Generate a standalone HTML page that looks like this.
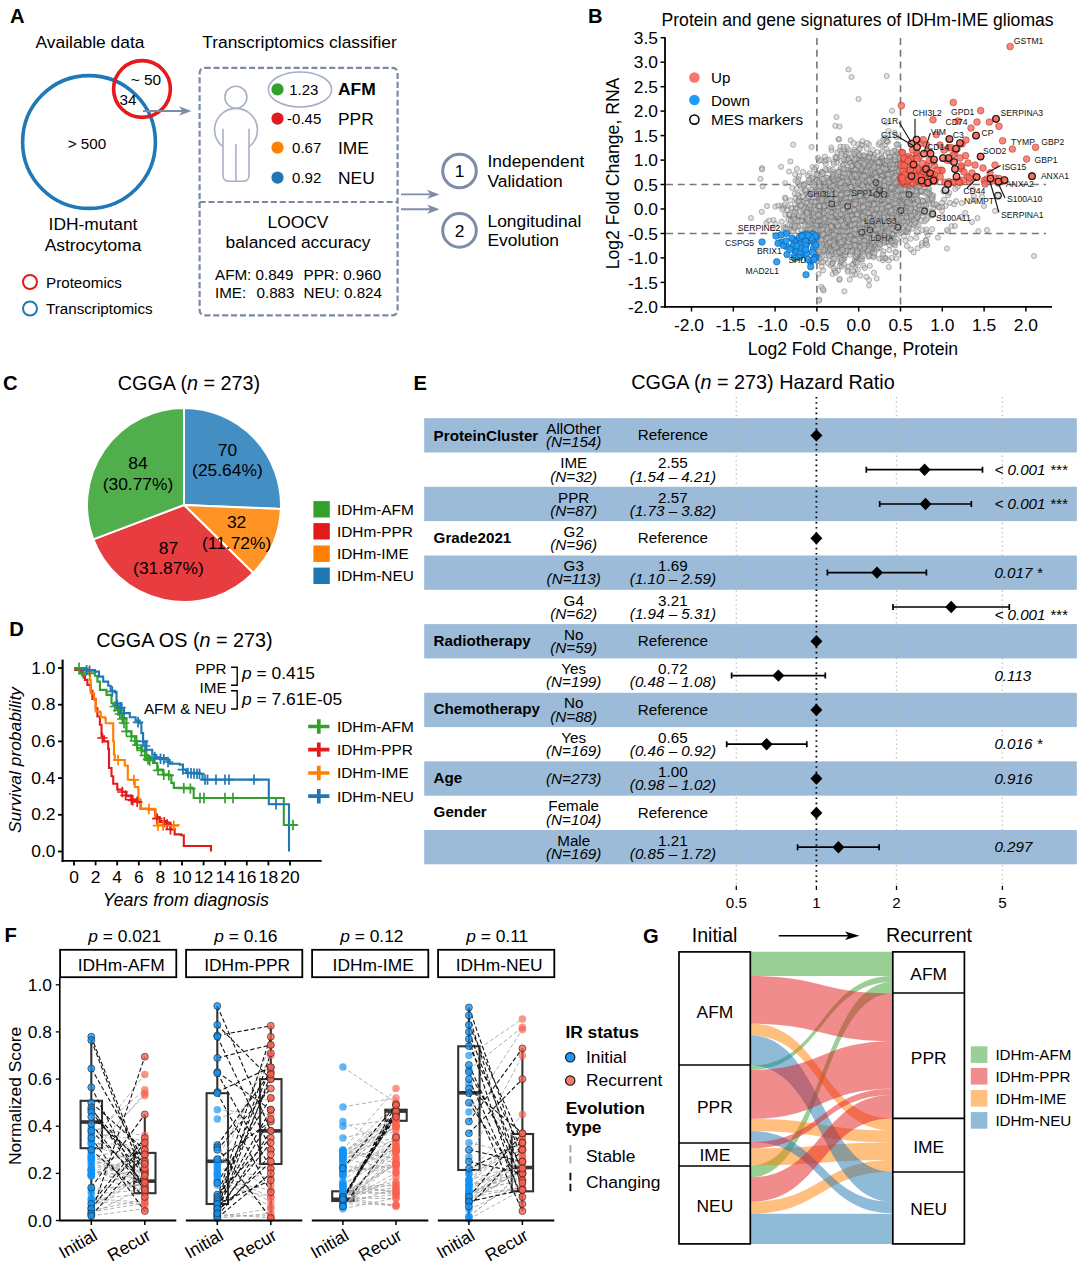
<!DOCTYPE html>
<html><head><meta charset="utf-8"><title>Figure</title>
<style>
html,body{margin:0;padding:0;background:#fff;}
body{width:1080px;height:1265px;overflow:hidden;font-family:"Liberation Sans",sans-serif;}
svg{display:block;}
svg text{font-family:"Liberation Sans",sans-serif;}
</style></head><body>
<svg width="1080" height="1265" viewBox="0 0 1080 1265">
<rect width="1080" height="1265" fill="#fff"/>
<g id="panelA">
<text x="10" y="23" font-size="20.2" font-weight="bold">A</text>
<text x="90" y="48" font-size="17.4" text-anchor="middle">Available data</text>
<circle cx="89" cy="142" r="66.4" fill="none" stroke="#2079b6" stroke-width="3.6"/>
<circle cx="142" cy="89" r="28.4" fill="none" stroke="#e41a1c" stroke-width="3.6"/>
<text x="146" y="84.8" font-size="15.4" text-anchor="middle">~ 50</text>
<text x="128" y="105" font-size="15.2" text-anchor="middle">34</text>
<text x="87" y="148.5" font-size="15.2" text-anchor="middle">&gt; 500</text>
<line x1="143" y1="111" x2="186" y2="111" stroke="#7f8ca7" stroke-width="1.9"/>
<path d="M191.5 111 L179 106.3 L182.5 111 L179 115.7 Z" fill="#7f8ca7"/>
<text x="93" y="230" font-size="17.4" text-anchor="middle">IDH-mutant</text>
<text x="93" y="250.5" font-size="17.4" text-anchor="middle">Astrocytoma</text>
<circle cx="30" cy="282" r="7" fill="none" stroke="#e41a1c" stroke-width="2"/>
<text x="46" y="287.5" font-size="15.2">Proteomics</text>
<circle cx="30" cy="308.5" r="7" fill="none" stroke="#2079b6" stroke-width="2"/>
<text x="46" y="314" font-size="15.2">Transcriptomics</text>
<text x="299.5" y="48" font-size="17.4" text-anchor="middle">Transcriptomics classifier</text>
<rect x="199.6" y="67.8" width="198" height="247.5" rx="5" ry="5" fill="none" stroke="#7c89a4" stroke-width="2.2" stroke-dasharray="6.1 2.8"/>
<line x1="199.6" y1="202" x2="397.6" y2="202" stroke="#7c89a4" stroke-width="2.2" stroke-dasharray="6.1 2.8"/>
<g fill="none" stroke="#a8b1c8" stroke-width="1.6" stroke-linecap="round" stroke-linejoin="round">
<circle cx="235.9" cy="97.2" r="11"/>
<path d="M222.6 146.5 A21.4 21.4 0 1 1 249.4 146.5"/>
<path d="M223 129.2 V175.2 Q223 181.2 229 181.2 H243 Q249 181.2 249 175.2 V129.2"/>
<path d="M235.9 144.5 V181.2"/>
</g>
<ellipse cx="300" cy="89.4" rx="31.6" ry="17.5" fill="none" stroke="#a5aec6" stroke-width="1.5"/>
<circle cx="277.5" cy="89.4" r="6.1" fill="#33a02c"/>
<text x="318.4" y="94.8" font-size="15" text-anchor="end">1.23</text>
<text x="338" y="95.4" font-size="17.4" font-weight="bold">AFM</text>
<circle cx="277.5" cy="118.6" r="6.1" fill="#e31a1c"/>
<text x="321.3" y="124" font-size="15" text-anchor="end">-0.45</text>
<text x="338" y="124.6" font-size="17.4">PPR</text>
<circle cx="277.5" cy="147.6" r="6.1" fill="#ff7f00"/>
<text x="321.3" y="153" font-size="15" text-anchor="end">0.67</text>
<text x="338" y="153.6" font-size="17.4">IME</text>
<circle cx="277.5" cy="177.6" r="6.1" fill="#1f78b4"/>
<text x="321.3" y="183" font-size="15" text-anchor="end">0.92</text>
<text x="338" y="183.6" font-size="17.4">NEU</text>
<text x="298" y="228" font-size="17.4" text-anchor="middle">LOOCV</text>
<text x="298" y="248" font-size="17.4" text-anchor="middle">balanced accuracy</text>
<text x="215" y="279.8" font-size="15.2">AFM: 0.849</text>
<text x="303.5" y="279.8" font-size="15.2">PPR: 0.960</text>
<text x="215" y="298" font-size="15.2">IME:</text>
<text x="256.5" y="298" font-size="15.2">0.883</text>
<text x="303.5" y="298" font-size="15.2">NEU: 0.824</text>
<line x1="401" y1="194.4" x2="434" y2="194.4" stroke="#7f8ca7" stroke-width="1.9"/>
<path d="M439.5 194.4 L427 189.7 L430.5 194.4 L427 199.1 Z" fill="#7f8ca7"/>
<line x1="401" y1="209.3" x2="434" y2="209.3" stroke="#7f8ca7" stroke-width="1.9"/>
<path d="M439.5 209.3 L427 204.6 L430.5 209.3 L427 214 Z" fill="#7f8ca7"/>
<circle cx="459.5" cy="171" r="16.8" fill="none" stroke="#7f8ca7" stroke-width="3"/>
<text x="459.5" y="177.2" font-size="17.4" text-anchor="middle">1</text>
<circle cx="459.5" cy="230.4" r="16.8" fill="none" stroke="#7f8ca7" stroke-width="3"/>
<text x="459.5" y="236.6" font-size="17.4" text-anchor="middle">2</text>
<text x="487.5" y="166.7" font-size="17.4">Independent</text>
<text x="487.5" y="186.7" font-size="17.4">Validation</text>
<text x="487.5" y="226.7" font-size="17.4">Longitudinal</text>
<text x="487.5" y="246.3" font-size="17.4">Evolution</text>
</g>
<g id="panelB">
<text x="588" y="23" font-size="20.2" font-weight="bold">B</text>
<text x="661.5" y="25.8" font-size="17.6">Protein and gene signatures of IDHm-IME gliomas</text>
<line x1="816.9" y1="38" x2="816.9" y2="306" stroke="#777" stroke-width="1.6" stroke-dasharray="7 4.8"/>
<line x1="900.5" y1="38" x2="900.5" y2="306" stroke="#777" stroke-width="1.6" stroke-dasharray="7 4.8"/>
<line x1="666" y1="233.5" x2="1046" y2="233.5" stroke="#777" stroke-width="1.6" stroke-dasharray="7 4.8"/>
<line x1="666" y1="184.5" x2="1046" y2="184.5" stroke="#777" stroke-width="1.6" stroke-dasharray="7 4.8"/>
<g fill="none" stroke="#111" stroke-width="1.2">
<circle cx="932.7" cy="214" r="2.9"/>
<circle cx="924.5" cy="211" r="2.9"/>
<circle cx="901" cy="210.5" r="2.9"/>
<circle cx="909" cy="194.5" r="2.9"/>
<circle cx="897.8" cy="227.3" r="2.9"/>
<circle cx="870" cy="230" r="2.9"/>
<circle cx="861.8" cy="232.2" r="2.9"/>
<circle cx="876" cy="182.7" r="2.9"/>
<circle cx="879.6" cy="190.4" r="2.9"/>
<circle cx="876.7" cy="194.4" r="2.9"/>
<circle cx="884" cy="194.4" r="2.9"/>
<circle cx="831.8" cy="204" r="2.9"/>
<circle cx="847.8" cy="206.2" r="2.9"/>
</g>
<g font-size="8.6" fill="#111">
<text x="864" y="223.7">LGALS3</text>
<text x="870.6" y="240.6">LDHA</text>
<text x="807" y="196.7">CHI3L1</text>
<text x="851" y="196">SPP1</text>
</g>
<g fill="#c2c2c2" fill-opacity="0.5" stroke="#5e5e5e" stroke-width="0.55" stroke-opacity="0.78">
<circle cx="854" cy="204" r="2.6"/>
<circle cx="901.1" cy="202.8" r="2.6"/>
<circle cx="869.9" cy="172.9" r="2.6"/>
<circle cx="863.1" cy="197.2" r="2.6"/>
<circle cx="878" cy="192.1" r="2.6"/>
<circle cx="899.1" cy="162.2" r="2.6"/>
<circle cx="888" cy="233.9" r="2.6"/>
<circle cx="834.6" cy="235.6" r="2.6"/>
<circle cx="867.7" cy="205.9" r="2.6"/>
<circle cx="852.8" cy="181.8" r="2.6"/>
<circle cx="876.4" cy="219" r="2.6"/>
<circle cx="815.4" cy="221.9" r="2.6"/>
<circle cx="862.6" cy="203.2" r="2.6"/>
<circle cx="851.4" cy="197.6" r="2.6"/>
<circle cx="826.6" cy="186.6" r="2.6"/>
<circle cx="850.2" cy="249.2" r="2.6"/>
<circle cx="821.6" cy="219.1" r="2.6"/>
<circle cx="859.3" cy="218.1" r="2.6"/>
<circle cx="831.4" cy="218.9" r="2.6"/>
<circle cx="870" cy="161.2" r="2.6"/>
<circle cx="891.2" cy="198.5" r="2.6"/>
<circle cx="857.6" cy="191.2" r="2.6"/>
<circle cx="853.8" cy="187.9" r="2.6"/>
<circle cx="848.9" cy="206.1" r="2.6"/>
<circle cx="822.2" cy="201.5" r="2.6"/>
<circle cx="816.1" cy="167.1" r="2.6"/>
<circle cx="911.3" cy="216.7" r="2.6"/>
<circle cx="863.8" cy="165.7" r="2.6"/>
<circle cx="898.7" cy="196.1" r="2.6"/>
<circle cx="897.7" cy="192.7" r="2.6"/>
<circle cx="887.5" cy="207.2" r="2.6"/>
<circle cx="891.6" cy="166.3" r="2.6"/>
<circle cx="921.5" cy="212.5" r="2.6"/>
<circle cx="865.2" cy="207.7" r="2.6"/>
<circle cx="911.1" cy="214.9" r="2.6"/>
<circle cx="802.7" cy="221.2" r="2.6"/>
<circle cx="876.3" cy="205.9" r="2.6"/>
<circle cx="871.7" cy="214.9" r="2.6"/>
<circle cx="832.7" cy="193.4" r="2.6"/>
<circle cx="906.1" cy="191.9" r="2.6"/>
<circle cx="885" cy="229.6" r="2.6"/>
<circle cx="848.6" cy="231.9" r="2.6"/>
<circle cx="891.2" cy="188.6" r="2.6"/>
<circle cx="834.9" cy="219" r="2.6"/>
<circle cx="827.7" cy="249.9" r="2.6"/>
<circle cx="840.9" cy="263.4" r="2.6"/>
<circle cx="856" cy="220.1" r="2.6"/>
<circle cx="831.7" cy="233" r="2.6"/>
<circle cx="884.8" cy="234.5" r="2.6"/>
<circle cx="853.6" cy="214.2" r="2.6"/>
<circle cx="879.1" cy="211" r="2.6"/>
<circle cx="861.1" cy="194.2" r="2.6"/>
<circle cx="847.5" cy="227" r="2.6"/>
<circle cx="863.9" cy="191.7" r="2.6"/>
<circle cx="863" cy="231.1" r="2.6"/>
<circle cx="884" cy="171.3" r="2.6"/>
<circle cx="803.7" cy="184.1" r="2.6"/>
<circle cx="854.9" cy="164.3" r="2.6"/>
<circle cx="887.9" cy="186.7" r="2.6"/>
<circle cx="838.2" cy="235.9" r="2.6"/>
<circle cx="823" cy="235.6" r="2.6"/>
<circle cx="833.5" cy="227.5" r="2.6"/>
<circle cx="847.2" cy="175.9" r="2.6"/>
<circle cx="869.5" cy="166.5" r="2.6"/>
<circle cx="846.9" cy="208.2" r="2.6"/>
<circle cx="827.9" cy="200.5" r="2.6"/>
<circle cx="871.5" cy="246.3" r="2.6"/>
<circle cx="855.6" cy="185.3" r="2.6"/>
<circle cx="831.2" cy="222.6" r="2.6"/>
<circle cx="851.8" cy="213.3" r="2.6"/>
<circle cx="880.7" cy="158.5" r="2.6"/>
<circle cx="867.5" cy="193.8" r="2.6"/>
<circle cx="844.2" cy="225.9" r="2.6"/>
<circle cx="886.4" cy="208.3" r="2.6"/>
<circle cx="869.4" cy="195.2" r="2.6"/>
<circle cx="825.7" cy="164" r="2.6"/>
<circle cx="890.8" cy="184" r="2.6"/>
<circle cx="865.6" cy="205.2" r="2.6"/>
<circle cx="878.3" cy="204.2" r="2.6"/>
<circle cx="897.1" cy="209.9" r="2.6"/>
<circle cx="906.5" cy="202" r="2.6"/>
<circle cx="914.9" cy="199.1" r="2.6"/>
<circle cx="903.3" cy="215.5" r="2.6"/>
<circle cx="824.5" cy="250.6" r="2.6"/>
<circle cx="833" cy="215.9" r="2.6"/>
<circle cx="836.5" cy="213.9" r="2.6"/>
<circle cx="833.6" cy="202.5" r="2.6"/>
<circle cx="802.1" cy="192.1" r="2.6"/>
<circle cx="854.8" cy="243.6" r="2.6"/>
<circle cx="878.2" cy="208.8" r="2.6"/>
<circle cx="822" cy="224.9" r="2.6"/>
<circle cx="856.5" cy="173.3" r="2.6"/>
<circle cx="842.3" cy="208.8" r="2.6"/>
<circle cx="896.8" cy="187.1" r="2.6"/>
<circle cx="865.2" cy="196.5" r="2.6"/>
<circle cx="847.6" cy="249.5" r="2.6"/>
<circle cx="846.8" cy="252.2" r="2.6"/>
<circle cx="839.9" cy="150.7" r="2.6"/>
<circle cx="834.4" cy="223.2" r="2.6"/>
<circle cx="932.8" cy="214.1" r="2.6"/>
<circle cx="856.9" cy="184.8" r="2.6"/>
<circle cx="816.9" cy="196.2" r="2.6"/>
<circle cx="843.4" cy="216.7" r="2.6"/>
<circle cx="870.2" cy="214.2" r="2.6"/>
<circle cx="808.1" cy="229.3" r="2.6"/>
<circle cx="870.3" cy="154.7" r="2.6"/>
<circle cx="896" cy="213.5" r="2.6"/>
<circle cx="872.2" cy="168.6" r="2.6"/>
<circle cx="857.8" cy="219.4" r="2.6"/>
<circle cx="863.1" cy="225.2" r="2.6"/>
<circle cx="797.9" cy="226.6" r="2.6"/>
<circle cx="847.2" cy="160.1" r="2.6"/>
<circle cx="844.6" cy="224" r="2.6"/>
<circle cx="903.9" cy="236.5" r="2.6"/>
<circle cx="832.7" cy="191" r="2.6"/>
<circle cx="814.7" cy="194" r="2.6"/>
<circle cx="851.4" cy="195.1" r="2.6"/>
<circle cx="847.2" cy="181.5" r="2.6"/>
<circle cx="872.8" cy="187.9" r="2.6"/>
<circle cx="827.3" cy="183.5" r="2.6"/>
<circle cx="858.5" cy="197.4" r="2.6"/>
<circle cx="860.5" cy="189" r="2.6"/>
<circle cx="840.3" cy="169.3" r="2.6"/>
<circle cx="875.5" cy="209.5" r="2.6"/>
<circle cx="881" cy="192.4" r="2.6"/>
<circle cx="856.8" cy="191" r="2.6"/>
<circle cx="849.2" cy="219.7" r="2.6"/>
<circle cx="840.2" cy="228.2" r="2.6"/>
<circle cx="907.7" cy="199.8" r="2.6"/>
<circle cx="840.1" cy="210.2" r="2.6"/>
<circle cx="834" cy="201.4" r="2.6"/>
<circle cx="900.8" cy="194.3" r="2.6"/>
<circle cx="894" cy="155.6" r="2.6"/>
<circle cx="875.2" cy="167.8" r="2.6"/>
<circle cx="861" cy="184.6" r="2.6"/>
<circle cx="848.6" cy="227.8" r="2.6"/>
<circle cx="836.1" cy="217.9" r="2.6"/>
<circle cx="834.5" cy="181.9" r="2.6"/>
<circle cx="841" cy="210.5" r="2.6"/>
<circle cx="885.3" cy="223.4" r="2.6"/>
<circle cx="847" cy="192.1" r="2.6"/>
<circle cx="839.1" cy="248.8" r="2.6"/>
<circle cx="856.8" cy="208.1" r="2.6"/>
<circle cx="884.2" cy="213.1" r="2.6"/>
<circle cx="924.5" cy="187.5" r="2.6"/>
<circle cx="884.9" cy="138.5" r="2.6"/>
<circle cx="864.4" cy="198.1" r="2.6"/>
<circle cx="882.2" cy="230.7" r="2.6"/>
<circle cx="893.6" cy="206.8" r="2.6"/>
<circle cx="853.6" cy="207" r="2.6"/>
<circle cx="856.8" cy="205.6" r="2.6"/>
<circle cx="853.5" cy="194.6" r="2.6"/>
<circle cx="896.2" cy="202.5" r="2.6"/>
<circle cx="879.5" cy="227.1" r="2.6"/>
<circle cx="836.5" cy="237.6" r="2.6"/>
<circle cx="912.1" cy="203.2" r="2.6"/>
<circle cx="901.8" cy="199.6" r="2.6"/>
<circle cx="860.4" cy="207.3" r="2.6"/>
<circle cx="877.6" cy="199.5" r="2.6"/>
<circle cx="860.8" cy="220.3" r="2.6"/>
<circle cx="845.4" cy="161.2" r="2.6"/>
<circle cx="884.9" cy="205" r="2.6"/>
<circle cx="876.5" cy="232.8" r="2.6"/>
<circle cx="909.7" cy="200.3" r="2.6"/>
<circle cx="873.5" cy="218.6" r="2.6"/>
<circle cx="822.5" cy="225.1" r="2.6"/>
<circle cx="857.1" cy="199.7" r="2.6"/>
<circle cx="896.7" cy="175" r="2.6"/>
<circle cx="872" cy="178.5" r="2.6"/>
<circle cx="841.2" cy="183.6" r="2.6"/>
<circle cx="872.8" cy="222.5" r="2.6"/>
<circle cx="867.3" cy="215.5" r="2.6"/>
<circle cx="835.7" cy="214.3" r="2.6"/>
<circle cx="906" cy="211.4" r="2.6"/>
<circle cx="864" cy="192.5" r="2.6"/>
<circle cx="847.6" cy="235.6" r="2.6"/>
<circle cx="885.7" cy="210.8" r="2.6"/>
<circle cx="850.3" cy="221.9" r="2.6"/>
<circle cx="894" cy="164" r="2.6"/>
<circle cx="898.4" cy="182.1" r="2.6"/>
<circle cx="836" cy="204.2" r="2.6"/>
<circle cx="841.2" cy="217.1" r="2.6"/>
<circle cx="844.4" cy="220.2" r="2.6"/>
<circle cx="894.3" cy="168.6" r="2.6"/>
<circle cx="957.7" cy="186.8" r="2.6"/>
<circle cx="889.1" cy="194.2" r="2.6"/>
<circle cx="850.9" cy="212.7" r="2.6"/>
<circle cx="839.1" cy="237.3" r="2.6"/>
<circle cx="848.8" cy="215" r="2.6"/>
<circle cx="861.8" cy="162.5" r="2.6"/>
<circle cx="844.2" cy="191.9" r="2.6"/>
<circle cx="837.2" cy="195.7" r="2.6"/>
<circle cx="880.2" cy="190.9" r="2.6"/>
<circle cx="835.1" cy="220.4" r="2.6"/>
<circle cx="853.3" cy="201.8" r="2.6"/>
<circle cx="877.3" cy="205.2" r="2.6"/>
<circle cx="897.5" cy="222.8" r="2.6"/>
<circle cx="785.1" cy="227.2" r="2.6"/>
<circle cx="814.1" cy="191.6" r="2.6"/>
<circle cx="898.6" cy="184.2" r="2.6"/>
<circle cx="849.1" cy="232.9" r="2.6"/>
<circle cx="871.5" cy="209.2" r="2.6"/>
<circle cx="852.9" cy="235.6" r="2.6"/>
<circle cx="868.3" cy="204.8" r="2.6"/>
<circle cx="862.4" cy="217.1" r="2.6"/>
<circle cx="825.7" cy="207.1" r="2.6"/>
<circle cx="858.3" cy="205.2" r="2.6"/>
<circle cx="865.4" cy="199" r="2.6"/>
<circle cx="836.7" cy="222.2" r="2.6"/>
<circle cx="888.9" cy="172.8" r="2.6"/>
<circle cx="883.6" cy="197.6" r="2.6"/>
<circle cx="857" cy="204.9" r="2.6"/>
<circle cx="866.3" cy="220" r="2.6"/>
<circle cx="862.4" cy="194.3" r="2.6"/>
<circle cx="847.5" cy="227.1" r="2.6"/>
<circle cx="871.1" cy="210.3" r="2.6"/>
<circle cx="856.4" cy="224.1" r="2.6"/>
<circle cx="848.9" cy="185.9" r="2.6"/>
<circle cx="845.5" cy="199" r="2.6"/>
<circle cx="855" cy="155.2" r="2.6"/>
<circle cx="815.9" cy="187.7" r="2.6"/>
<circle cx="838" cy="180" r="2.6"/>
<circle cx="874.4" cy="224.9" r="2.6"/>
<circle cx="886.6" cy="218.4" r="2.6"/>
<circle cx="906.2" cy="187.9" r="2.6"/>
<circle cx="828.1" cy="236.9" r="2.6"/>
<circle cx="883" cy="164.6" r="2.6"/>
<circle cx="845.3" cy="197.4" r="2.6"/>
<circle cx="860" cy="220.2" r="2.6"/>
<circle cx="832.2" cy="264.2" r="2.6"/>
<circle cx="867" cy="231.5" r="2.6"/>
<circle cx="855.3" cy="200" r="2.6"/>
<circle cx="855.3" cy="202.5" r="2.6"/>
<circle cx="856.7" cy="192.3" r="2.6"/>
<circle cx="882.3" cy="182.9" r="2.6"/>
<circle cx="867.5" cy="177" r="2.6"/>
<circle cx="880.3" cy="242.8" r="2.6"/>
<circle cx="912.7" cy="216.7" r="2.6"/>
<circle cx="869.8" cy="198.4" r="2.6"/>
<circle cx="948.1" cy="195.4" r="2.6"/>
<circle cx="916.9" cy="218.5" r="2.6"/>
<circle cx="905.1" cy="214.6" r="2.6"/>
<circle cx="865.2" cy="167" r="2.6"/>
<circle cx="868.9" cy="187.7" r="2.6"/>
<circle cx="874" cy="218.7" r="2.6"/>
<circle cx="844.4" cy="258.6" r="2.6"/>
<circle cx="874.7" cy="240" r="2.6"/>
<circle cx="830.8" cy="194.2" r="2.6"/>
<circle cx="884.2" cy="242.7" r="2.6"/>
<circle cx="838.3" cy="187.4" r="2.6"/>
<circle cx="842.4" cy="218.3" r="2.6"/>
<circle cx="883" cy="260.4" r="2.6"/>
<circle cx="861.2" cy="225.7" r="2.6"/>
<circle cx="874.8" cy="187.6" r="2.6"/>
<circle cx="933.8" cy="205.3" r="2.6"/>
<circle cx="844.2" cy="215.4" r="2.6"/>
<circle cx="865.7" cy="208.8" r="2.6"/>
<circle cx="883.6" cy="234.2" r="2.6"/>
<circle cx="857.5" cy="227.7" r="2.6"/>
<circle cx="863" cy="201.6" r="2.6"/>
<circle cx="831.5" cy="231.8" r="2.6"/>
<circle cx="840.5" cy="193.6" r="2.6"/>
<circle cx="879.6" cy="181.9" r="2.6"/>
<circle cx="893.9" cy="196.4" r="2.6"/>
<circle cx="845.9" cy="152.1" r="2.6"/>
<circle cx="861.7" cy="219.1" r="2.6"/>
<circle cx="846.7" cy="230.2" r="2.6"/>
<circle cx="796.5" cy="214.1" r="2.6"/>
<circle cx="859.3" cy="192" r="2.6"/>
<circle cx="824.6" cy="222.6" r="2.6"/>
<circle cx="877.7" cy="172" r="2.6"/>
<circle cx="864.8" cy="185.1" r="2.6"/>
<circle cx="902" cy="191.3" r="2.6"/>
<circle cx="885.1" cy="203" r="2.6"/>
<circle cx="831.7" cy="189.8" r="2.6"/>
<circle cx="867.4" cy="177" r="2.6"/>
<circle cx="866.9" cy="237.8" r="2.6"/>
<circle cx="854" cy="185" r="2.6"/>
<circle cx="842.4" cy="206.6" r="2.6"/>
<circle cx="874.9" cy="208.6" r="2.6"/>
<circle cx="877.4" cy="205.3" r="2.6"/>
<circle cx="819.7" cy="237.8" r="2.6"/>
<circle cx="865.7" cy="197.2" r="2.6"/>
<circle cx="864.2" cy="235.1" r="2.6"/>
<circle cx="883" cy="207.8" r="2.6"/>
<circle cx="847.5" cy="208.6" r="2.6"/>
<circle cx="856.6" cy="169.9" r="2.6"/>
<circle cx="909" cy="195.6" r="2.6"/>
<circle cx="852.6" cy="236.2" r="2.6"/>
<circle cx="865" cy="244.2" r="2.6"/>
<circle cx="908.2" cy="208.1" r="2.6"/>
<circle cx="900.5" cy="197" r="2.6"/>
<circle cx="814" cy="220.6" r="2.6"/>
<circle cx="852" cy="238.9" r="2.6"/>
<circle cx="886.4" cy="202.3" r="2.6"/>
<circle cx="868.2" cy="189.4" r="2.6"/>
<circle cx="825.1" cy="247.2" r="2.6"/>
<circle cx="816.9" cy="216.2" r="2.6"/>
<circle cx="822.3" cy="198.5" r="2.6"/>
<circle cx="863.3" cy="224.2" r="2.6"/>
<circle cx="860.9" cy="156.2" r="2.6"/>
<circle cx="835.7" cy="208.3" r="2.6"/>
<circle cx="828.9" cy="217" r="2.6"/>
<circle cx="873.2" cy="196.3" r="2.6"/>
<circle cx="875.1" cy="198.2" r="2.6"/>
<circle cx="866.8" cy="191.7" r="2.6"/>
<circle cx="848.4" cy="207.1" r="2.6"/>
<circle cx="849.6" cy="219.6" r="2.6"/>
<circle cx="833" cy="175.8" r="2.6"/>
<circle cx="852.2" cy="251.9" r="2.6"/>
<circle cx="880.6" cy="189" r="2.6"/>
<circle cx="849.5" cy="199.5" r="2.6"/>
<circle cx="854.8" cy="193.9" r="2.6"/>
<circle cx="852.6" cy="227.2" r="2.6"/>
<circle cx="831.3" cy="224.4" r="2.6"/>
<circle cx="796.7" cy="224" r="2.6"/>
<circle cx="819.2" cy="239.6" r="2.6"/>
<circle cx="880.4" cy="198" r="2.6"/>
<circle cx="838.1" cy="238.8" r="2.6"/>
<circle cx="858.1" cy="178.4" r="2.6"/>
<circle cx="843" cy="233.8" r="2.6"/>
<circle cx="850.2" cy="208.1" r="2.6"/>
<circle cx="831.3" cy="207.8" r="2.6"/>
<circle cx="837" cy="223.6" r="2.6"/>
<circle cx="875.3" cy="216.9" r="2.6"/>
<circle cx="808.2" cy="213.2" r="2.6"/>
<circle cx="853" cy="199.7" r="2.6"/>
<circle cx="834.3" cy="203.5" r="2.6"/>
<circle cx="881.9" cy="174.4" r="2.6"/>
<circle cx="832.7" cy="176.3" r="2.6"/>
<circle cx="834.4" cy="231.3" r="2.6"/>
<circle cx="848.8" cy="234.3" r="2.6"/>
<circle cx="876.9" cy="187.1" r="2.6"/>
<circle cx="882.8" cy="180.1" r="2.6"/>
<circle cx="855" cy="209.7" r="2.6"/>
<circle cx="872.8" cy="185" r="2.6"/>
<circle cx="858.9" cy="214" r="2.6"/>
<circle cx="810.3" cy="206.5" r="2.6"/>
<circle cx="887.8" cy="209" r="2.6"/>
<circle cx="882.1" cy="145.8" r="2.6"/>
<circle cx="812.1" cy="218.1" r="2.6"/>
<circle cx="860.8" cy="228" r="2.6"/>
<circle cx="834.9" cy="224.5" r="2.6"/>
<circle cx="841.2" cy="249.3" r="2.6"/>
<circle cx="891.9" cy="160.7" r="2.6"/>
<circle cx="820" cy="194" r="2.6"/>
<circle cx="877.2" cy="215.2" r="2.6"/>
<circle cx="872.6" cy="235.7" r="2.6"/>
<circle cx="870.8" cy="205.2" r="2.6"/>
<circle cx="930.2" cy="198.6" r="2.6"/>
<circle cx="857.1" cy="218.8" r="2.6"/>
<circle cx="888.9" cy="217.4" r="2.6"/>
<circle cx="886.4" cy="213.4" r="2.6"/>
<circle cx="871.8" cy="178.2" r="2.6"/>
<circle cx="842.1" cy="219.8" r="2.6"/>
<circle cx="856.7" cy="158.3" r="2.6"/>
<circle cx="835.9" cy="200" r="2.6"/>
<circle cx="872.4" cy="186.7" r="2.6"/>
<circle cx="787.4" cy="229.7" r="2.6"/>
<circle cx="868.5" cy="198.1" r="2.6"/>
<circle cx="904.5" cy="195" r="2.6"/>
<circle cx="869.1" cy="209.1" r="2.6"/>
<circle cx="896.9" cy="174.6" r="2.6"/>
<circle cx="857.1" cy="232" r="2.6"/>
<circle cx="925.3" cy="200.8" r="2.6"/>
<circle cx="834" cy="215.6" r="2.6"/>
<circle cx="892.2" cy="207.9" r="2.6"/>
<circle cx="825.5" cy="205.2" r="2.6"/>
<circle cx="812.9" cy="217.2" r="2.6"/>
<circle cx="882.7" cy="182" r="2.6"/>
<circle cx="817.2" cy="230.5" r="2.6"/>
<circle cx="891.4" cy="213.7" r="2.6"/>
<circle cx="873.8" cy="218.1" r="2.6"/>
<circle cx="891.1" cy="232.9" r="2.6"/>
<circle cx="808.7" cy="233.1" r="2.6"/>
<circle cx="874.8" cy="194.4" r="2.6"/>
<circle cx="871.8" cy="210.9" r="2.6"/>
<circle cx="852.3" cy="220.9" r="2.6"/>
<circle cx="895.2" cy="150.5" r="2.6"/>
<circle cx="831" cy="219.9" r="2.6"/>
<circle cx="853.2" cy="197.9" r="2.6"/>
<circle cx="847.6" cy="206.8" r="2.6"/>
<circle cx="867.3" cy="213" r="2.6"/>
<circle cx="863.3" cy="157.9" r="2.6"/>
<circle cx="840.1" cy="208.7" r="2.6"/>
<circle cx="868.2" cy="241.3" r="2.6"/>
<circle cx="885.3" cy="185" r="2.6"/>
<circle cx="875.7" cy="238.6" r="2.6"/>
<circle cx="886.7" cy="76" r="2.6"/>
<circle cx="861.1" cy="218.5" r="2.6"/>
<circle cx="847" cy="235.9" r="2.6"/>
<circle cx="883.5" cy="196" r="2.6"/>
<circle cx="842.5" cy="235.4" r="2.6"/>
<circle cx="833" cy="229.8" r="2.6"/>
<circle cx="893.6" cy="165.6" r="2.6"/>
<circle cx="897.7" cy="176.7" r="2.6"/>
<circle cx="847.3" cy="239.2" r="2.6"/>
<circle cx="787.6" cy="226.2" r="2.6"/>
<circle cx="865.3" cy="211.8" r="2.6"/>
<circle cx="902.4" cy="199.3" r="2.6"/>
<circle cx="856.8" cy="175.7" r="2.6"/>
<circle cx="929.3" cy="189.4" r="2.6"/>
<circle cx="840.9" cy="201.4" r="2.6"/>
<circle cx="866.6" cy="218.6" r="2.6"/>
<circle cx="905.7" cy="189.2" r="2.6"/>
<circle cx="884.1" cy="220.3" r="2.6"/>
<circle cx="884.8" cy="180.9" r="2.6"/>
<circle cx="855.7" cy="237.7" r="2.6"/>
<circle cx="863.3" cy="225.7" r="2.6"/>
<circle cx="895.8" cy="202.1" r="2.6"/>
<circle cx="811" cy="220.5" r="2.6"/>
<circle cx="838.9" cy="214" r="2.6"/>
<circle cx="855.7" cy="224.2" r="2.6"/>
<circle cx="902.7" cy="211.3" r="2.6"/>
<circle cx="888.7" cy="230.2" r="2.6"/>
<circle cx="850.6" cy="223" r="2.6"/>
<circle cx="884.2" cy="182.4" r="2.6"/>
<circle cx="837" cy="237" r="2.6"/>
<circle cx="855.9" cy="193.5" r="2.6"/>
<circle cx="864.6" cy="204.7" r="2.6"/>
<circle cx="845.6" cy="193.9" r="2.6"/>
<circle cx="877.1" cy="200.8" r="2.6"/>
<circle cx="872.5" cy="225.6" r="2.6"/>
<circle cx="898" cy="212.6" r="2.6"/>
<circle cx="845.5" cy="220.3" r="2.6"/>
<circle cx="843.8" cy="251.5" r="2.6"/>
<circle cx="835.7" cy="216.2" r="2.6"/>
<circle cx="841.8" cy="197.5" r="2.6"/>
<circle cx="837.2" cy="233.4" r="2.6"/>
<circle cx="840.4" cy="196.2" r="2.6"/>
<circle cx="921.8" cy="245.5" r="2.6"/>
<circle cx="862" cy="237.1" r="2.6"/>
<circle cx="833.8" cy="161.9" r="2.6"/>
<circle cx="867.7" cy="234.1" r="2.6"/>
<circle cx="833.1" cy="187.6" r="2.6"/>
<circle cx="943.4" cy="191.6" r="2.6"/>
<circle cx="869" cy="203.5" r="2.6"/>
<circle cx="856.2" cy="229.3" r="2.6"/>
<circle cx="863.2" cy="188.4" r="2.6"/>
<circle cx="831.4" cy="206" r="2.6"/>
<circle cx="907" cy="199.5" r="2.6"/>
<circle cx="906.9" cy="202.4" r="2.6"/>
<circle cx="830" cy="202" r="2.6"/>
<circle cx="859.9" cy="187.7" r="2.6"/>
<circle cx="863.2" cy="202.8" r="2.6"/>
<circle cx="815.3" cy="201.2" r="2.6"/>
<circle cx="836.2" cy="223.8" r="2.6"/>
<circle cx="811.8" cy="179.8" r="2.6"/>
<circle cx="810.9" cy="229.5" r="2.6"/>
<circle cx="824.6" cy="236.5" r="2.6"/>
<circle cx="865.7" cy="208.2" r="2.6"/>
<circle cx="841.9" cy="180.3" r="2.6"/>
<circle cx="894.2" cy="244.4" r="2.6"/>
<circle cx="859" cy="165" r="2.6"/>
<circle cx="877.7" cy="186.1" r="2.6"/>
<circle cx="842.6" cy="189.1" r="2.6"/>
<circle cx="875.2" cy="175.9" r="2.6"/>
<circle cx="882.2" cy="225.2" r="2.6"/>
<circle cx="866.7" cy="200.3" r="2.6"/>
<circle cx="875.9" cy="159" r="2.6"/>
<circle cx="837.8" cy="198.3" r="2.6"/>
<circle cx="862.8" cy="216" r="2.6"/>
<circle cx="868.9" cy="242.9" r="2.6"/>
<circle cx="900.9" cy="198.1" r="2.6"/>
<circle cx="886.5" cy="241.5" r="2.6"/>
<circle cx="858.3" cy="234.1" r="2.6"/>
<circle cx="835.4" cy="235.3" r="2.6"/>
<circle cx="894.9" cy="181.9" r="2.6"/>
<circle cx="844.5" cy="205.6" r="2.6"/>
<circle cx="895.3" cy="242.1" r="2.6"/>
<circle cx="852.8" cy="221.2" r="2.6"/>
<circle cx="861.3" cy="156.7" r="2.6"/>
<circle cx="857.9" cy="183.8" r="2.6"/>
<circle cx="838.1" cy="234.9" r="2.6"/>
<circle cx="908" cy="198" r="2.6"/>
<circle cx="829.3" cy="219.8" r="2.6"/>
<circle cx="860.5" cy="220.6" r="2.6"/>
<circle cx="886.9" cy="178.7" r="2.6"/>
<circle cx="856.9" cy="219.1" r="2.6"/>
<circle cx="863" cy="192.6" r="2.6"/>
<circle cx="886.3" cy="221" r="2.6"/>
<circle cx="846.5" cy="185.3" r="2.6"/>
<circle cx="847.2" cy="181.7" r="2.6"/>
<circle cx="888.4" cy="181.5" r="2.6"/>
<circle cx="846.6" cy="237.9" r="2.6"/>
<circle cx="916.4" cy="198.8" r="2.6"/>
<circle cx="823.1" cy="270.3" r="2.6"/>
<circle cx="860.7" cy="195.8" r="2.6"/>
<circle cx="842" cy="194.4" r="2.6"/>
<circle cx="893.1" cy="221" r="2.6"/>
<circle cx="831.5" cy="150" r="2.6"/>
<circle cx="834.8" cy="190.5" r="2.6"/>
<circle cx="852.3" cy="208.6" r="2.6"/>
<circle cx="825.4" cy="202.1" r="2.6"/>
<circle cx="876.5" cy="205" r="2.6"/>
<circle cx="840.4" cy="261.5" r="2.6"/>
<circle cx="886.1" cy="233.3" r="2.6"/>
<circle cx="835.2" cy="225.3" r="2.6"/>
<circle cx="831.2" cy="248.2" r="2.6"/>
<circle cx="837.3" cy="232.5" r="2.6"/>
<circle cx="830.3" cy="220.4" r="2.6"/>
<circle cx="823.8" cy="210.7" r="2.6"/>
<circle cx="828.3" cy="213.3" r="2.6"/>
<circle cx="932.1" cy="229.1" r="2.6"/>
<circle cx="847.4" cy="217" r="2.6"/>
<circle cx="892.3" cy="179.7" r="2.6"/>
<circle cx="878.2" cy="201.4" r="2.6"/>
<circle cx="878.3" cy="179.1" r="2.6"/>
<circle cx="879.7" cy="232.6" r="2.6"/>
<circle cx="883.9" cy="212.4" r="2.6"/>
<circle cx="813.7" cy="213.3" r="2.6"/>
<circle cx="869.8" cy="265.8" r="2.6"/>
<circle cx="826" cy="202.3" r="2.6"/>
<circle cx="832.7" cy="199.5" r="2.6"/>
<circle cx="863" cy="214.9" r="2.6"/>
<circle cx="877.5" cy="228.2" r="2.6"/>
<circle cx="860.4" cy="203.2" r="2.6"/>
<circle cx="858.5" cy="238" r="2.6"/>
<circle cx="854.4" cy="172.5" r="2.6"/>
<circle cx="892.1" cy="192.8" r="2.6"/>
<circle cx="804.1" cy="211.6" r="2.6"/>
<circle cx="825.4" cy="200.4" r="2.6"/>
<circle cx="837.9" cy="221" r="2.6"/>
<circle cx="860.3" cy="200.5" r="2.6"/>
<circle cx="879.5" cy="207.2" r="2.6"/>
<circle cx="842.6" cy="212.8" r="2.6"/>
<circle cx="843.7" cy="225.7" r="2.6"/>
<circle cx="819.5" cy="222.3" r="2.6"/>
<circle cx="853.9" cy="186.9" r="2.6"/>
<circle cx="859.1" cy="247.4" r="2.6"/>
<circle cx="840.7" cy="167.4" r="2.6"/>
<circle cx="915.6" cy="208.5" r="2.6"/>
<circle cx="837.6" cy="236" r="2.6"/>
<circle cx="843.2" cy="236.8" r="2.6"/>
<circle cx="873.1" cy="222.2" r="2.6"/>
<circle cx="874.5" cy="190.7" r="2.6"/>
<circle cx="855.8" cy="194.6" r="2.6"/>
<circle cx="837.5" cy="180.3" r="2.6"/>
<circle cx="838.1" cy="190.6" r="2.6"/>
<circle cx="858.2" cy="192.3" r="2.6"/>
<circle cx="871.1" cy="184.1" r="2.6"/>
<circle cx="853.2" cy="264.1" r="2.6"/>
<circle cx="839" cy="191.5" r="2.6"/>
<circle cx="897.6" cy="154" r="2.6"/>
<circle cx="879.1" cy="173.6" r="2.6"/>
<circle cx="899.8" cy="182" r="2.6"/>
<circle cx="868.9" cy="190.6" r="2.6"/>
<circle cx="850.8" cy="217" r="2.6"/>
<circle cx="906.8" cy="193.8" r="2.6"/>
<circle cx="882.9" cy="205.6" r="2.6"/>
<circle cx="857.6" cy="177.1" r="2.6"/>
<circle cx="857.6" cy="205.7" r="2.6"/>
<circle cx="835.1" cy="220.2" r="2.6"/>
<circle cx="867.9" cy="239.8" r="2.6"/>
<circle cx="798.3" cy="205.1" r="2.6"/>
<circle cx="897.6" cy="220.9" r="2.6"/>
<circle cx="878.4" cy="193.9" r="2.6"/>
<circle cx="847.2" cy="181.9" r="2.6"/>
<circle cx="905" cy="193.2" r="2.6"/>
<circle cx="851.9" cy="177.9" r="2.6"/>
<circle cx="874.3" cy="155" r="2.6"/>
<circle cx="854.5" cy="228" r="2.6"/>
<circle cx="874.7" cy="194.9" r="2.6"/>
<circle cx="839.4" cy="237.8" r="2.6"/>
<circle cx="785.3" cy="198.6" r="2.6"/>
<circle cx="817.3" cy="226.3" r="2.6"/>
<circle cx="836.2" cy="215.7" r="2.6"/>
<circle cx="859.4" cy="219.9" r="2.6"/>
<circle cx="840" cy="222.2" r="2.6"/>
<circle cx="842.1" cy="253.7" r="2.6"/>
<circle cx="882.9" cy="203.4" r="2.6"/>
<circle cx="805.6" cy="214.1" r="2.6"/>
<circle cx="857.5" cy="225" r="2.6"/>
<circle cx="870.4" cy="190.2" r="2.6"/>
<circle cx="903.6" cy="196.5" r="2.6"/>
<circle cx="851.1" cy="226" r="2.6"/>
<circle cx="907.9" cy="197.5" r="2.6"/>
<circle cx="832.3" cy="184.4" r="2.6"/>
<circle cx="855.7" cy="205.5" r="2.6"/>
<circle cx="877.1" cy="212.2" r="2.6"/>
<circle cx="834.8" cy="191.4" r="2.6"/>
<circle cx="824.3" cy="212.5" r="2.6"/>
<circle cx="773.5" cy="220" r="2.6"/>
<circle cx="822.8" cy="199.7" r="2.6"/>
<circle cx="831.4" cy="219.2" r="2.6"/>
<circle cx="842.9" cy="214.2" r="2.6"/>
<circle cx="864.5" cy="165.7" r="2.6"/>
<circle cx="836.9" cy="218.6" r="2.6"/>
<circle cx="864.6" cy="195" r="2.6"/>
<circle cx="865.3" cy="232" r="2.6"/>
<circle cx="887" cy="242.2" r="2.6"/>
<circle cx="897" cy="152.1" r="2.6"/>
<circle cx="870.5" cy="154.1" r="2.6"/>
<circle cx="873.4" cy="219.2" r="2.6"/>
<circle cx="894.2" cy="177" r="2.6"/>
<circle cx="848.4" cy="218.7" r="2.6"/>
<circle cx="863" cy="226.2" r="2.6"/>
<circle cx="884.6" cy="177.6" r="2.6"/>
<circle cx="853.2" cy="202.5" r="2.6"/>
<circle cx="877.9" cy="166.4" r="2.6"/>
<circle cx="827.1" cy="228.6" r="2.6"/>
<circle cx="840.7" cy="197.5" r="2.6"/>
<circle cx="874.4" cy="222.2" r="2.6"/>
<circle cx="901" cy="224.8" r="2.6"/>
<circle cx="885.2" cy="171.6" r="2.6"/>
<circle cx="912.5" cy="191.8" r="2.6"/>
<circle cx="895.5" cy="226.4" r="2.6"/>
<circle cx="798.6" cy="195.9" r="2.6"/>
<circle cx="835.9" cy="195.8" r="2.6"/>
<circle cx="866.2" cy="204.7" r="2.6"/>
<circle cx="884.1" cy="195.8" r="2.6"/>
<circle cx="858.3" cy="178.6" r="2.6"/>
<circle cx="854.6" cy="168" r="2.6"/>
<circle cx="877.5" cy="205.3" r="2.6"/>
<circle cx="840.7" cy="229.4" r="2.6"/>
<circle cx="874.2" cy="255.8" r="2.6"/>
<circle cx="859.5" cy="210.3" r="2.6"/>
<circle cx="879.8" cy="220.7" r="2.6"/>
<circle cx="890.1" cy="164.8" r="2.6"/>
<circle cx="811.6" cy="146.9" r="2.6"/>
<circle cx="883" cy="231.4" r="2.6"/>
<circle cx="868.5" cy="237.6" r="2.6"/>
<circle cx="846.2" cy="229.2" r="2.6"/>
<circle cx="890.2" cy="214" r="2.6"/>
<circle cx="872.4" cy="204.1" r="2.6"/>
<circle cx="870.6" cy="221.5" r="2.6"/>
<circle cx="916.1" cy="222.5" r="2.6"/>
<circle cx="847.9" cy="209.5" r="2.6"/>
<circle cx="829.8" cy="219.2" r="2.6"/>
<circle cx="860.9" cy="220.6" r="2.6"/>
<circle cx="880.4" cy="187.4" r="2.6"/>
<circle cx="894" cy="150.6" r="2.6"/>
<circle cx="829.8" cy="222.4" r="2.6"/>
<circle cx="835.5" cy="194.6" r="2.6"/>
<circle cx="840.5" cy="227.4" r="2.6"/>
<circle cx="820.6" cy="225.3" r="2.6"/>
<circle cx="864.1" cy="218.4" r="2.6"/>
<circle cx="896.9" cy="176.8" r="2.6"/>
<circle cx="841.2" cy="206.8" r="2.6"/>
<circle cx="849.9" cy="242.6" r="2.6"/>
<circle cx="904.3" cy="205.5" r="2.6"/>
<circle cx="844.8" cy="211.1" r="2.6"/>
<circle cx="850.7" cy="198.2" r="2.6"/>
<circle cx="857.6" cy="217.7" r="2.6"/>
<circle cx="820.9" cy="202.2" r="2.6"/>
<circle cx="925.9" cy="240.4" r="2.6"/>
<circle cx="851.6" cy="184.4" r="2.6"/>
<circle cx="836.6" cy="162.5" r="2.6"/>
<circle cx="896.4" cy="186.9" r="2.6"/>
<circle cx="880.3" cy="218.7" r="2.6"/>
<circle cx="795.5" cy="180.4" r="2.6"/>
<circle cx="857.4" cy="183" r="2.6"/>
<circle cx="856.8" cy="191.4" r="2.6"/>
<circle cx="805.7" cy="209" r="2.6"/>
<circle cx="894.2" cy="186" r="2.6"/>
<circle cx="861.1" cy="190.3" r="2.6"/>
<circle cx="811.3" cy="198.8" r="2.6"/>
<circle cx="867.7" cy="229.2" r="2.6"/>
<circle cx="908.9" cy="186.8" r="2.6"/>
<circle cx="828.6" cy="189.7" r="2.6"/>
<circle cx="841" cy="245.5" r="2.6"/>
<circle cx="847" cy="193.2" r="2.6"/>
<circle cx="860.7" cy="191.9" r="2.6"/>
<circle cx="880.3" cy="190.1" r="2.6"/>
<circle cx="854.7" cy="190.9" r="2.6"/>
<circle cx="830.1" cy="192.6" r="2.6"/>
<circle cx="903.4" cy="210.8" r="2.6"/>
<circle cx="836.5" cy="220.2" r="2.6"/>
<circle cx="874.1" cy="200.6" r="2.6"/>
<circle cx="818" cy="242.8" r="2.6"/>
<circle cx="879.3" cy="221.3" r="2.6"/>
<circle cx="869.7" cy="176.3" r="2.6"/>
<circle cx="858.5" cy="243.1" r="2.6"/>
<circle cx="835.8" cy="207.7" r="2.6"/>
<circle cx="834.4" cy="211.5" r="2.6"/>
<circle cx="886.6" cy="137.8" r="2.6"/>
<circle cx="861" cy="204.3" r="2.6"/>
<circle cx="848.7" cy="170.3" r="2.6"/>
<circle cx="867.3" cy="232.1" r="2.6"/>
<circle cx="870.2" cy="188" r="2.6"/>
<circle cx="890.5" cy="205.1" r="2.6"/>
<circle cx="840.7" cy="217.6" r="2.6"/>
<circle cx="898.4" cy="215.5" r="2.6"/>
<circle cx="835.3" cy="125.8" r="2.6"/>
<circle cx="829.6" cy="233" r="2.6"/>
<circle cx="895.6" cy="167.2" r="2.6"/>
<circle cx="873.4" cy="210.8" r="2.6"/>
<circle cx="827.8" cy="191.7" r="2.6"/>
<circle cx="898.3" cy="179" r="2.6"/>
<circle cx="874.5" cy="211.5" r="2.6"/>
<circle cx="877.1" cy="204.5" r="2.6"/>
<circle cx="823.1" cy="216.3" r="2.6"/>
<circle cx="883.3" cy="209" r="2.6"/>
<circle cx="856.5" cy="182.9" r="2.6"/>
<circle cx="897.4" cy="177.6" r="2.6"/>
<circle cx="900.1" cy="218.7" r="2.6"/>
<circle cx="858" cy="176.9" r="2.6"/>
<circle cx="850.3" cy="183.2" r="2.6"/>
<circle cx="868.3" cy="181.1" r="2.6"/>
<circle cx="844.6" cy="204.4" r="2.6"/>
<circle cx="850.8" cy="232.7" r="2.6"/>
<circle cx="911.1" cy="194.5" r="2.6"/>
<circle cx="868" cy="210.3" r="2.6"/>
<circle cx="833.5" cy="198.6" r="2.6"/>
<circle cx="883.1" cy="180.4" r="2.6"/>
<circle cx="844.6" cy="191.5" r="2.6"/>
<circle cx="852.6" cy="165" r="2.6"/>
<circle cx="895.9" cy="161.5" r="2.6"/>
<circle cx="891.9" cy="182.6" r="2.6"/>
<circle cx="813.3" cy="219.7" r="2.6"/>
<circle cx="917.2" cy="194.8" r="2.6"/>
<circle cx="783.6" cy="227.9" r="2.6"/>
<circle cx="859.3" cy="204" r="2.6"/>
<circle cx="877.8" cy="176" r="2.6"/>
<circle cx="869.6" cy="212" r="2.6"/>
<circle cx="884.8" cy="212.5" r="2.6"/>
<circle cx="823.3" cy="191.6" r="2.6"/>
<circle cx="820.3" cy="223.5" r="2.6"/>
<circle cx="828" cy="206.8" r="2.6"/>
<circle cx="830.8" cy="178.6" r="2.6"/>
<circle cx="816.5" cy="228.5" r="2.6"/>
<circle cx="866.6" cy="220.8" r="2.6"/>
<circle cx="864.3" cy="224" r="2.6"/>
<circle cx="858.7" cy="187.2" r="2.6"/>
<circle cx="846" cy="208" r="2.6"/>
<circle cx="893" cy="226.9" r="2.6"/>
<circle cx="820.1" cy="212.3" r="2.6"/>
<circle cx="856.6" cy="236" r="2.6"/>
<circle cx="834" cy="202.4" r="2.6"/>
<circle cx="796.8" cy="188.5" r="2.6"/>
<circle cx="877.6" cy="198.4" r="2.6"/>
<circle cx="812" cy="229.1" r="2.6"/>
<circle cx="828.5" cy="202.3" r="2.6"/>
<circle cx="852.8" cy="225.6" r="2.6"/>
<circle cx="896.5" cy="185.1" r="2.6"/>
<circle cx="878.5" cy="208.1" r="2.6"/>
<circle cx="834.9" cy="225.8" r="2.6"/>
<circle cx="860.5" cy="202.4" r="2.6"/>
<circle cx="835.1" cy="199.8" r="2.6"/>
<circle cx="872" cy="220.9" r="2.6"/>
<circle cx="833.8" cy="194.1" r="2.6"/>
<circle cx="846.1" cy="189.2" r="2.6"/>
<circle cx="844.6" cy="225.3" r="2.6"/>
<circle cx="853.4" cy="222.1" r="2.6"/>
<circle cx="860.2" cy="176.2" r="2.6"/>
<circle cx="831.3" cy="249.3" r="2.6"/>
<circle cx="855.4" cy="190.9" r="2.6"/>
<circle cx="853.7" cy="219.9" r="2.6"/>
<circle cx="903.2" cy="223.2" r="2.6"/>
<circle cx="889" cy="195.8" r="2.6"/>
<circle cx="904.9" cy="208.4" r="2.6"/>
<circle cx="835.7" cy="242" r="2.6"/>
<circle cx="896.6" cy="195.5" r="2.6"/>
<circle cx="894.4" cy="234.6" r="2.6"/>
<circle cx="838.4" cy="221.5" r="2.6"/>
<circle cx="849.2" cy="202.3" r="2.6"/>
<circle cx="840.7" cy="222.5" r="2.6"/>
<circle cx="874.8" cy="190" r="2.6"/>
<circle cx="877.3" cy="152" r="2.6"/>
<circle cx="864.9" cy="196.9" r="2.6"/>
<circle cx="875.9" cy="223.3" r="2.6"/>
<circle cx="854.5" cy="215.2" r="2.6"/>
<circle cx="870.9" cy="186.8" r="2.6"/>
<circle cx="872.4" cy="198.7" r="2.6"/>
<circle cx="881.2" cy="186.7" r="2.6"/>
<circle cx="858.4" cy="144.1" r="2.6"/>
<circle cx="873.3" cy="167.9" r="2.6"/>
<circle cx="818.9" cy="160.7" r="2.6"/>
<circle cx="793.1" cy="218.9" r="2.6"/>
<circle cx="862.4" cy="236.1" r="2.6"/>
<circle cx="818.5" cy="193.7" r="2.6"/>
<circle cx="833.4" cy="211.9" r="2.6"/>
<circle cx="818.1" cy="241.2" r="2.6"/>
<circle cx="883.9" cy="194.8" r="2.6"/>
<circle cx="831.1" cy="211.3" r="2.6"/>
<circle cx="873.9" cy="235.2" r="2.6"/>
<circle cx="852.7" cy="200.3" r="2.6"/>
<circle cx="897.4" cy="144.5" r="2.6"/>
<circle cx="840.8" cy="228.8" r="2.6"/>
<circle cx="865.1" cy="179.8" r="2.6"/>
<circle cx="936.5" cy="204.9" r="2.6"/>
<circle cx="822.7" cy="221.5" r="2.6"/>
<circle cx="828.4" cy="238.4" r="2.6"/>
<circle cx="881.8" cy="163.7" r="2.6"/>
<circle cx="846.1" cy="153.8" r="2.6"/>
<circle cx="845.2" cy="202.7" r="2.6"/>
<circle cx="898.4" cy="144.7" r="2.6"/>
<circle cx="862.8" cy="201.6" r="2.6"/>
<circle cx="889.4" cy="178.1" r="2.6"/>
<circle cx="899.3" cy="169.7" r="2.6"/>
<circle cx="838.2" cy="193.7" r="2.6"/>
<circle cx="944" cy="199.6" r="2.6"/>
<circle cx="839.7" cy="179.7" r="2.6"/>
<circle cx="884" cy="200.5" r="2.6"/>
<circle cx="882.3" cy="215.4" r="2.6"/>
<circle cx="860.9" cy="207" r="2.6"/>
<circle cx="893.9" cy="183.4" r="2.6"/>
<circle cx="863.5" cy="199.3" r="2.6"/>
<circle cx="903.5" cy="225.4" r="2.6"/>
<circle cx="829.3" cy="216.4" r="2.6"/>
<circle cx="876.5" cy="218.5" r="2.6"/>
<circle cx="842.4" cy="175.8" r="2.6"/>
<circle cx="830.7" cy="265.2" r="2.6"/>
<circle cx="835.5" cy="199" r="2.6"/>
<circle cx="842" cy="183.5" r="2.6"/>
<circle cx="851.4" cy="160.3" r="2.6"/>
<circle cx="813.8" cy="205.9" r="2.6"/>
<circle cx="844.3" cy="188.6" r="2.6"/>
<circle cx="868.5" cy="200.8" r="2.6"/>
<circle cx="884.6" cy="206.3" r="2.6"/>
<circle cx="841" cy="183.9" r="2.6"/>
<circle cx="875.9" cy="191.3" r="2.6"/>
<circle cx="864.4" cy="224.3" r="2.6"/>
<circle cx="867.4" cy="226.9" r="2.6"/>
<circle cx="868.7" cy="256.8" r="2.6"/>
<circle cx="842.6" cy="208.7" r="2.6"/>
<circle cx="822.1" cy="199.5" r="2.6"/>
<circle cx="865.2" cy="208.1" r="2.6"/>
<circle cx="871" cy="190.1" r="2.6"/>
<circle cx="854.8" cy="259.9" r="2.6"/>
<circle cx="843.5" cy="247" r="2.6"/>
<circle cx="862" cy="210.3" r="2.6"/>
<circle cx="879.3" cy="176.1" r="2.6"/>
<circle cx="871.3" cy="209.6" r="2.6"/>
<circle cx="864.2" cy="230.7" r="2.6"/>
<circle cx="852.2" cy="210" r="2.6"/>
<circle cx="862.7" cy="175.9" r="2.6"/>
<circle cx="874.4" cy="191.7" r="2.6"/>
<circle cx="857.7" cy="208" r="2.6"/>
<circle cx="871.4" cy="182.1" r="2.6"/>
<circle cx="864.8" cy="168.9" r="2.6"/>
<circle cx="809.2" cy="200.5" r="2.6"/>
<circle cx="826.1" cy="222.9" r="2.6"/>
<circle cx="831.9" cy="242.4" r="2.6"/>
<circle cx="874.4" cy="205.4" r="2.6"/>
<circle cx="823.8" cy="210" r="2.6"/>
<circle cx="830.8" cy="178" r="2.6"/>
<circle cx="838.8" cy="210.8" r="2.6"/>
<circle cx="859.5" cy="205.2" r="2.6"/>
<circle cx="864.4" cy="215.9" r="2.6"/>
<circle cx="870.8" cy="222.2" r="2.6"/>
<circle cx="863.2" cy="248.9" r="2.6"/>
<circle cx="869.2" cy="229.1" r="2.6"/>
<circle cx="840.7" cy="215" r="2.6"/>
<circle cx="805.8" cy="226.6" r="2.6"/>
<circle cx="895" cy="199.6" r="2.6"/>
<circle cx="890.4" cy="236.1" r="2.6"/>
<circle cx="829.1" cy="239.5" r="2.6"/>
<circle cx="855.5" cy="178.9" r="2.6"/>
<circle cx="895.7" cy="183.2" r="2.6"/>
<circle cx="849" cy="178.5" r="2.6"/>
<circle cx="892.2" cy="234.4" r="2.6"/>
<circle cx="879.8" cy="228.3" r="2.6"/>
<circle cx="856.2" cy="223.2" r="2.6"/>
<circle cx="902" cy="210.4" r="2.6"/>
<circle cx="816.8" cy="179.7" r="2.6"/>
<circle cx="847.3" cy="182.9" r="2.6"/>
<circle cx="847.3" cy="214.5" r="2.6"/>
<circle cx="871.7" cy="212.6" r="2.6"/>
<circle cx="860.2" cy="253.4" r="2.6"/>
<circle cx="882.1" cy="158.2" r="2.6"/>
<circle cx="905.5" cy="240.7" r="2.6"/>
<circle cx="900.8" cy="218.9" r="2.6"/>
<circle cx="851.5" cy="224.7" r="2.6"/>
<circle cx="871.8" cy="186.2" r="2.6"/>
<circle cx="864.1" cy="183.3" r="2.6"/>
<circle cx="888.1" cy="192.4" r="2.6"/>
<circle cx="858" cy="223.8" r="2.6"/>
<circle cx="837" cy="198.5" r="2.6"/>
<circle cx="850.1" cy="199" r="2.6"/>
<circle cx="864.6" cy="244.1" r="2.6"/>
<circle cx="863.5" cy="185.4" r="2.6"/>
<circle cx="885.8" cy="186.5" r="2.6"/>
<circle cx="849.7" cy="279.6" r="2.6"/>
<circle cx="803.5" cy="221.2" r="2.6"/>
<circle cx="875" cy="187.8" r="2.6"/>
<circle cx="887.7" cy="241.8" r="2.6"/>
<circle cx="857.7" cy="209.4" r="2.6"/>
<circle cx="890.8" cy="168.6" r="2.6"/>
<circle cx="855.4" cy="205.6" r="2.6"/>
<circle cx="868" cy="239.6" r="2.6"/>
<circle cx="839.1" cy="235.6" r="2.6"/>
<circle cx="833.7" cy="176.8" r="2.6"/>
<circle cx="849.8" cy="213.2" r="2.6"/>
<circle cx="838.3" cy="218.3" r="2.6"/>
<circle cx="838.5" cy="228.5" r="2.6"/>
<circle cx="825.9" cy="238.8" r="2.6"/>
<circle cx="827.8" cy="228" r="2.6"/>
<circle cx="865.3" cy="222.9" r="2.6"/>
<circle cx="868.2" cy="239.2" r="2.6"/>
<circle cx="884.9" cy="180.3" r="2.6"/>
<circle cx="843.1" cy="165.5" r="2.6"/>
<circle cx="839.9" cy="219.1" r="2.6"/>
<circle cx="881.7" cy="193.8" r="2.6"/>
<circle cx="873.6" cy="208.9" r="2.6"/>
<circle cx="806" cy="232" r="2.6"/>
<circle cx="891" cy="207.4" r="2.6"/>
<circle cx="847.8" cy="244.3" r="2.6"/>
<circle cx="852.2" cy="184" r="2.6"/>
<circle cx="868.5" cy="195.4" r="2.6"/>
<circle cx="848.6" cy="196.6" r="2.6"/>
<circle cx="793.5" cy="225.1" r="2.6"/>
<circle cx="866.4" cy="211.7" r="2.6"/>
<circle cx="841.3" cy="185" r="2.6"/>
<circle cx="824.4" cy="207.4" r="2.6"/>
<circle cx="893.6" cy="172.5" r="2.6"/>
<circle cx="830.4" cy="179.9" r="2.6"/>
<circle cx="864.1" cy="175.9" r="2.6"/>
<circle cx="847.2" cy="200.4" r="2.6"/>
<circle cx="846.6" cy="204" r="2.6"/>
<circle cx="874.8" cy="248.9" r="2.6"/>
<circle cx="859.2" cy="193.7" r="2.6"/>
<circle cx="887.7" cy="209.7" r="2.6"/>
<circle cx="862.4" cy="248.4" r="2.6"/>
<circle cx="881.4" cy="154" r="2.6"/>
<circle cx="848" cy="198.5" r="2.6"/>
<circle cx="841.4" cy="208.7" r="2.6"/>
<circle cx="876.4" cy="184.3" r="2.6"/>
<circle cx="851.3" cy="232.9" r="2.6"/>
<circle cx="870.3" cy="192.5" r="2.6"/>
<circle cx="883" cy="204.4" r="2.6"/>
<circle cx="847.1" cy="196.1" r="2.6"/>
<circle cx="846.3" cy="217.3" r="2.6"/>
<circle cx="812.2" cy="215.9" r="2.6"/>
<circle cx="887.4" cy="177.6" r="2.6"/>
<circle cx="801.5" cy="201.5" r="2.6"/>
<circle cx="833.6" cy="261.2" r="2.6"/>
<circle cx="798.8" cy="216.6" r="2.6"/>
<circle cx="860.9" cy="257.2" r="2.6"/>
<circle cx="801.7" cy="230.7" r="2.6"/>
<circle cx="867.1" cy="215.3" r="2.6"/>
<circle cx="792" cy="225.4" r="2.6"/>
<circle cx="860.2" cy="226.5" r="2.6"/>
<circle cx="834.2" cy="199.4" r="2.6"/>
<circle cx="868.3" cy="209.5" r="2.6"/>
<circle cx="866" cy="203.2" r="2.6"/>
<circle cx="843.5" cy="229.9" r="2.6"/>
<circle cx="878.2" cy="178.1" r="2.6"/>
<circle cx="810.9" cy="220.4" r="2.6"/>
<circle cx="895.1" cy="179.1" r="2.6"/>
<circle cx="828.1" cy="203" r="2.6"/>
<circle cx="880.5" cy="186.9" r="2.6"/>
<circle cx="894.1" cy="198.2" r="2.6"/>
<circle cx="857.3" cy="197.1" r="2.6"/>
<circle cx="813.4" cy="209.5" r="2.6"/>
<circle cx="859.4" cy="217.6" r="2.6"/>
<circle cx="850.4" cy="223.9" r="2.6"/>
<circle cx="846.3" cy="199.4" r="2.6"/>
<circle cx="853.1" cy="201.6" r="2.6"/>
<circle cx="868.2" cy="247.3" r="2.6"/>
<circle cx="836.1" cy="239.3" r="2.6"/>
<circle cx="863.7" cy="214" r="2.6"/>
<circle cx="875.1" cy="208.1" r="2.6"/>
<circle cx="845.3" cy="212" r="2.6"/>
<circle cx="899.9" cy="187.6" r="2.6"/>
<circle cx="865.5" cy="173.2" r="2.6"/>
<circle cx="867.1" cy="199.1" r="2.6"/>
<circle cx="862.8" cy="235.3" r="2.6"/>
<circle cx="843.3" cy="202" r="2.6"/>
<circle cx="841.9" cy="228.2" r="2.6"/>
<circle cx="918.3" cy="214.9" r="2.6"/>
<circle cx="862.1" cy="251.9" r="2.6"/>
<circle cx="857" cy="247.3" r="2.6"/>
<circle cx="839.2" cy="196.2" r="2.6"/>
<circle cx="858.8" cy="223.4" r="2.6"/>
<circle cx="880.5" cy="213.1" r="2.6"/>
<circle cx="781.8" cy="221.7" r="2.6"/>
<circle cx="822.2" cy="228.3" r="2.6"/>
<circle cx="836.7" cy="242.6" r="2.6"/>
<circle cx="923.7" cy="205.8" r="2.6"/>
<circle cx="860.8" cy="184.1" r="2.6"/>
<circle cx="821" cy="233.7" r="2.6"/>
<circle cx="870.3" cy="171.1" r="2.6"/>
<circle cx="823" cy="212.7" r="2.6"/>
<circle cx="884.9" cy="196" r="2.6"/>
<circle cx="864.4" cy="223.4" r="2.6"/>
<circle cx="883.5" cy="183.9" r="2.6"/>
<circle cx="840.4" cy="245.4" r="2.6"/>
<circle cx="829.1" cy="195.8" r="2.6"/>
<circle cx="851.8" cy="220.5" r="2.6"/>
<circle cx="892.7" cy="234.2" r="2.6"/>
<circle cx="859.3" cy="176.9" r="2.6"/>
<circle cx="828" cy="218.9" r="2.6"/>
<circle cx="839.7" cy="226.2" r="2.6"/>
<circle cx="864.6" cy="211.4" r="2.6"/>
<circle cx="901.3" cy="188.2" r="2.6"/>
<circle cx="885.2" cy="234.2" r="2.6"/>
<circle cx="870.8" cy="184.2" r="2.6"/>
<circle cx="837.7" cy="230.7" r="2.6"/>
<circle cx="871.3" cy="161.9" r="2.6"/>
<circle cx="864.6" cy="217.9" r="2.6"/>
<circle cx="830.7" cy="188.4" r="2.6"/>
<circle cx="853.4" cy="214" r="2.6"/>
<circle cx="849.8" cy="217.3" r="2.6"/>
<circle cx="876.2" cy="198.3" r="2.6"/>
<circle cx="879.2" cy="179.1" r="2.6"/>
<circle cx="843.6" cy="181.5" r="2.6"/>
<circle cx="884.6" cy="219.7" r="2.6"/>
<circle cx="871.4" cy="242.1" r="2.6"/>
<circle cx="905.9" cy="221.1" r="2.6"/>
<circle cx="818.3" cy="219.4" r="2.6"/>
<circle cx="858" cy="181.4" r="2.6"/>
<circle cx="930.4" cy="194.2" r="2.6"/>
<circle cx="842.6" cy="205.8" r="2.6"/>
<circle cx="845" cy="206.5" r="2.6"/>
<circle cx="893.6" cy="189.2" r="2.6"/>
<circle cx="841.4" cy="161" r="2.6"/>
<circle cx="840.6" cy="192.4" r="2.6"/>
<circle cx="852.5" cy="185.5" r="2.6"/>
<circle cx="869" cy="198.3" r="2.6"/>
<circle cx="840.4" cy="171.4" r="2.6"/>
<circle cx="855.8" cy="171.8" r="2.6"/>
<circle cx="881" cy="199.6" r="2.6"/>
<circle cx="870.1" cy="211.2" r="2.6"/>
<circle cx="864.8" cy="193.8" r="2.6"/>
<circle cx="835.3" cy="224.3" r="2.6"/>
<circle cx="874.9" cy="184.6" r="2.6"/>
<circle cx="882.7" cy="196.9" r="2.6"/>
<circle cx="917.5" cy="218.2" r="2.6"/>
<circle cx="855.4" cy="194.2" r="2.6"/>
<circle cx="854.1" cy="177.4" r="2.6"/>
<circle cx="842.9" cy="212.5" r="2.6"/>
<circle cx="856.8" cy="214" r="2.6"/>
<circle cx="835" cy="235.7" r="2.6"/>
<circle cx="894.3" cy="189.8" r="2.6"/>
<circle cx="865.8" cy="211.5" r="2.6"/>
<circle cx="816" cy="207.1" r="2.6"/>
<circle cx="847.2" cy="203.7" r="2.6"/>
<circle cx="845.1" cy="229" r="2.6"/>
<circle cx="809.8" cy="195.9" r="2.6"/>
<circle cx="895.4" cy="229.8" r="2.6"/>
<circle cx="826.2" cy="192.3" r="2.6"/>
<circle cx="894.1" cy="209.7" r="2.6"/>
<circle cx="879.7" cy="170.3" r="2.6"/>
<circle cx="848.4" cy="218.4" r="2.6"/>
<circle cx="863.4" cy="189.8" r="2.6"/>
<circle cx="865.7" cy="229.4" r="2.6"/>
<circle cx="859.4" cy="196.8" r="2.6"/>
<circle cx="871.1" cy="168.1" r="2.6"/>
<circle cx="882.8" cy="180.9" r="2.6"/>
<circle cx="915.9" cy="208.5" r="2.6"/>
<circle cx="868.7" cy="204.5" r="2.6"/>
<circle cx="810.1" cy="179.3" r="2.6"/>
<circle cx="884.5" cy="163.9" r="2.6"/>
<circle cx="847.9" cy="220.4" r="2.6"/>
<circle cx="844.7" cy="184.1" r="2.6"/>
<circle cx="916.5" cy="218.5" r="2.6"/>
<circle cx="845.3" cy="216.5" r="2.6"/>
<circle cx="891.7" cy="196.1" r="2.6"/>
<circle cx="866.1" cy="217.4" r="2.6"/>
<circle cx="879.3" cy="180.3" r="2.6"/>
<circle cx="814.8" cy="232.3" r="2.6"/>
<circle cx="872.1" cy="198.2" r="2.6"/>
<circle cx="850.5" cy="170.9" r="2.6"/>
<circle cx="818.1" cy="255.4" r="2.6"/>
<circle cx="854.8" cy="231.5" r="2.6"/>
<circle cx="856.8" cy="178" r="2.6"/>
<circle cx="867.3" cy="205" r="2.6"/>
<circle cx="792.1" cy="218.5" r="2.6"/>
<circle cx="848.8" cy="226.5" r="2.6"/>
<circle cx="899.8" cy="207" r="2.6"/>
<circle cx="847.6" cy="229.2" r="2.6"/>
<circle cx="866.6" cy="233.4" r="2.6"/>
<circle cx="894" cy="181.4" r="2.6"/>
<circle cx="879.8" cy="214.9" r="2.6"/>
<circle cx="896.4" cy="217.7" r="2.6"/>
<circle cx="820.7" cy="234.2" r="2.6"/>
<circle cx="852.6" cy="228.3" r="2.6"/>
<circle cx="868" cy="239.5" r="2.6"/>
<circle cx="858.3" cy="208.5" r="2.6"/>
<circle cx="829.1" cy="193.9" r="2.6"/>
<circle cx="856.3" cy="184" r="2.6"/>
<circle cx="851" cy="184.6" r="2.6"/>
<circle cx="853.7" cy="174.7" r="2.6"/>
<circle cx="850.7" cy="170.2" r="2.6"/>
<circle cx="884.8" cy="144.9" r="2.6"/>
<circle cx="825.2" cy="219.1" r="2.6"/>
<circle cx="849.4" cy="205.1" r="2.6"/>
<circle cx="809.6" cy="173.3" r="2.6"/>
<circle cx="887" cy="189.6" r="2.6"/>
<circle cx="843.8" cy="192.8" r="2.6"/>
<circle cx="851.9" cy="217.3" r="2.6"/>
<circle cx="831" cy="227.8" r="2.6"/>
<circle cx="861.4" cy="191.2" r="2.6"/>
<circle cx="825.4" cy="221.4" r="2.6"/>
<circle cx="876.9" cy="174.6" r="2.6"/>
<circle cx="822.9" cy="209.4" r="2.6"/>
<circle cx="861.2" cy="185.2" r="2.6"/>
<circle cx="839.8" cy="222" r="2.6"/>
<circle cx="879.9" cy="196.2" r="2.6"/>
<circle cx="853.9" cy="198.5" r="2.6"/>
<circle cx="863" cy="233.9" r="2.6"/>
<circle cx="787.7" cy="228.9" r="2.6"/>
<circle cx="858.7" cy="242.5" r="2.6"/>
<circle cx="875" cy="190.1" r="2.6"/>
<circle cx="888.2" cy="192.2" r="2.6"/>
<circle cx="805.8" cy="198.6" r="2.6"/>
<circle cx="884.3" cy="172.3" r="2.6"/>
<circle cx="838.7" cy="219.6" r="2.6"/>
<circle cx="908.9" cy="194.7" r="2.6"/>
<circle cx="867" cy="247.6" r="2.6"/>
<circle cx="903.5" cy="186.1" r="2.6"/>
<circle cx="886.8" cy="210" r="2.6"/>
<circle cx="826.1" cy="237.4" r="2.6"/>
<circle cx="881.1" cy="211.5" r="2.6"/>
<circle cx="827.8" cy="180.3" r="2.6"/>
<circle cx="858.5" cy="189.9" r="2.6"/>
<circle cx="873.9" cy="205.1" r="2.6"/>
<circle cx="829.3" cy="247.9" r="2.6"/>
<circle cx="898.2" cy="164.6" r="2.6"/>
<circle cx="851.8" cy="191.7" r="2.6"/>
<circle cx="879.6" cy="199.5" r="2.6"/>
<circle cx="851.4" cy="226.1" r="2.6"/>
<circle cx="889.9" cy="176.7" r="2.6"/>
<circle cx="831.5" cy="218.8" r="2.6"/>
<circle cx="873.2" cy="180.7" r="2.6"/>
<circle cx="857.8" cy="228.2" r="2.6"/>
<circle cx="849.3" cy="203.1" r="2.6"/>
<circle cx="813.7" cy="178.6" r="2.6"/>
<circle cx="848.8" cy="228.8" r="2.6"/>
<circle cx="915.6" cy="192.2" r="2.6"/>
<circle cx="817.8" cy="223.7" r="2.6"/>
<circle cx="810.1" cy="222.6" r="2.6"/>
<circle cx="793.7" cy="231.1" r="2.6"/>
<circle cx="845.6" cy="213.3" r="2.6"/>
<circle cx="888.8" cy="267.1" r="2.6"/>
<circle cx="859.4" cy="198" r="2.6"/>
<circle cx="887" cy="203.1" r="2.6"/>
<circle cx="859.9" cy="218.3" r="2.6"/>
<circle cx="891.4" cy="190.5" r="2.6"/>
<circle cx="879.1" cy="188.7" r="2.6"/>
<circle cx="897" cy="197.9" r="2.6"/>
<circle cx="862" cy="180.8" r="2.6"/>
<circle cx="902.8" cy="219" r="2.6"/>
<circle cx="817.4" cy="186.8" r="2.6"/>
<circle cx="849" cy="247.2" r="2.6"/>
<circle cx="872.5" cy="222.2" r="2.6"/>
<circle cx="809.4" cy="195.3" r="2.6"/>
<circle cx="844.2" cy="207.7" r="2.6"/>
<circle cx="781.6" cy="206.1" r="2.6"/>
<circle cx="861.2" cy="199" r="2.6"/>
<circle cx="876.4" cy="202.5" r="2.6"/>
<circle cx="849.1" cy="187.4" r="2.6"/>
<circle cx="802.2" cy="220.2" r="2.6"/>
<circle cx="820.6" cy="200.2" r="2.6"/>
<circle cx="826.7" cy="213.2" r="2.6"/>
<circle cx="823.8" cy="208.7" r="2.6"/>
<circle cx="902" cy="186.8" r="2.6"/>
<circle cx="873.4" cy="190" r="2.6"/>
<circle cx="914.1" cy="194.1" r="2.6"/>
<circle cx="818.4" cy="221.3" r="2.6"/>
<circle cx="851" cy="199.5" r="2.6"/>
<circle cx="875.5" cy="181.6" r="2.6"/>
<circle cx="884" cy="242.8" r="2.6"/>
<circle cx="880.8" cy="199.9" r="2.6"/>
<circle cx="892.4" cy="218.2" r="2.6"/>
<circle cx="823.1" cy="229.6" r="2.6"/>
<circle cx="927.7" cy="235.3" r="2.6"/>
<circle cx="895.6" cy="173.4" r="2.6"/>
<circle cx="837.4" cy="239.3" r="2.6"/>
<circle cx="834.3" cy="209.6" r="2.6"/>
<circle cx="886.2" cy="233.6" r="2.6"/>
<circle cx="800.5" cy="200.9" r="2.6"/>
<circle cx="852.1" cy="193.3" r="2.6"/>
<circle cx="892.5" cy="222" r="2.6"/>
<circle cx="847.2" cy="210" r="2.6"/>
<circle cx="903.8" cy="202.5" r="2.6"/>
<circle cx="821.9" cy="225.6" r="2.6"/>
<circle cx="846" cy="213.5" r="2.6"/>
<circle cx="793.9" cy="217.3" r="2.6"/>
<circle cx="905.9" cy="230.9" r="2.6"/>
<circle cx="875.2" cy="185.7" r="2.6"/>
<circle cx="835.4" cy="220.2" r="2.6"/>
<circle cx="856.4" cy="234.8" r="2.6"/>
<circle cx="873.8" cy="192.7" r="2.6"/>
<circle cx="840.6" cy="219.3" r="2.6"/>
<circle cx="861" cy="189.8" r="2.6"/>
<circle cx="836" cy="213.6" r="2.6"/>
<circle cx="812" cy="184.8" r="2.6"/>
<circle cx="845.9" cy="219.6" r="2.6"/>
<circle cx="885.8" cy="184.4" r="2.6"/>
<circle cx="868" cy="207.4" r="2.6"/>
<circle cx="894.6" cy="220.6" r="2.6"/>
<circle cx="833.9" cy="250.6" r="2.6"/>
<circle cx="903.1" cy="194.4" r="2.6"/>
<circle cx="825.6" cy="219.1" r="2.6"/>
<circle cx="866.1" cy="174.8" r="2.6"/>
<circle cx="822.7" cy="216.3" r="2.6"/>
<circle cx="890.7" cy="168.3" r="2.6"/>
<circle cx="872.4" cy="201.1" r="2.6"/>
<circle cx="881.8" cy="236.9" r="2.6"/>
<circle cx="840.6" cy="255.3" r="2.6"/>
<circle cx="846.5" cy="216.3" r="2.6"/>
<circle cx="863.7" cy="196.8" r="2.6"/>
<circle cx="869.2" cy="229.3" r="2.6"/>
<circle cx="854.7" cy="242.1" r="2.6"/>
<circle cx="872.7" cy="191.1" r="2.6"/>
<circle cx="914" cy="186.3" r="2.6"/>
<circle cx="838" cy="270.5" r="2.6"/>
<circle cx="898.2" cy="214.2" r="2.6"/>
<circle cx="851.7" cy="235.9" r="2.6"/>
<circle cx="842.4" cy="234.4" r="2.6"/>
<circle cx="841.9" cy="226.7" r="2.6"/>
<circle cx="834.8" cy="221" r="2.6"/>
<circle cx="881" cy="209.8" r="2.6"/>
<circle cx="864.3" cy="217.4" r="2.6"/>
<circle cx="843.6" cy="209.8" r="2.6"/>
<circle cx="878.9" cy="186.9" r="2.6"/>
<circle cx="854.8" cy="207.1" r="2.6"/>
<circle cx="843.5" cy="204.9" r="2.6"/>
<circle cx="861.5" cy="226.7" r="2.6"/>
<circle cx="847.6" cy="223" r="2.6"/>
<circle cx="828.9" cy="241.9" r="2.6"/>
<circle cx="872.9" cy="183.8" r="2.6"/>
<circle cx="830.3" cy="249.2" r="2.6"/>
<circle cx="867.9" cy="174.4" r="2.6"/>
<circle cx="842.5" cy="215.7" r="2.6"/>
<circle cx="825.8" cy="221.5" r="2.6"/>
<circle cx="859" cy="202.9" r="2.6"/>
<circle cx="844.4" cy="176.1" r="2.6"/>
<circle cx="898.1" cy="201.4" r="2.6"/>
<circle cx="847.1" cy="190.8" r="2.6"/>
<circle cx="851.7" cy="214.8" r="2.6"/>
<circle cx="898.2" cy="185.5" r="2.6"/>
<circle cx="824.8" cy="223.1" r="2.6"/>
<circle cx="865.2" cy="179.5" r="2.6"/>
<circle cx="927.5" cy="218.1" r="2.6"/>
<circle cx="889.4" cy="222" r="2.6"/>
<circle cx="807.4" cy="220.5" r="2.6"/>
<circle cx="839.6" cy="205.7" r="2.6"/>
<circle cx="880.5" cy="220.3" r="2.6"/>
<circle cx="856.5" cy="224.9" r="2.6"/>
<circle cx="820.3" cy="212.3" r="2.6"/>
<circle cx="854.6" cy="226.6" r="2.6"/>
<circle cx="855" cy="274.5" r="2.6"/>
<circle cx="851.4" cy="230.1" r="2.6"/>
<circle cx="822.1" cy="215.9" r="2.6"/>
<circle cx="849.9" cy="199.3" r="2.6"/>
<circle cx="853.7" cy="207.9" r="2.6"/>
<circle cx="877.5" cy="220.8" r="2.6"/>
<circle cx="885.7" cy="258.1" r="2.6"/>
<circle cx="887" cy="141.3" r="2.6"/>
<circle cx="842" cy="247.1" r="2.6"/>
<circle cx="830.2" cy="214.6" r="2.6"/>
<circle cx="919.5" cy="187" r="2.6"/>
<circle cx="870.1" cy="157.1" r="2.6"/>
<circle cx="837" cy="218.2" r="2.6"/>
<circle cx="855.7" cy="208.2" r="2.6"/>
<circle cx="846.4" cy="184.8" r="2.6"/>
<circle cx="835.9" cy="226" r="2.6"/>
<circle cx="842.6" cy="225.7" r="2.6"/>
<circle cx="890.9" cy="203.7" r="2.6"/>
<circle cx="818.3" cy="226" r="2.6"/>
<circle cx="840.2" cy="241.3" r="2.6"/>
<circle cx="815.9" cy="231.6" r="2.6"/>
<circle cx="902.7" cy="201.5" r="2.6"/>
<circle cx="880.2" cy="218.6" r="2.6"/>
<circle cx="886.7" cy="173.9" r="2.6"/>
<circle cx="888.7" cy="187.8" r="2.6"/>
<circle cx="820" cy="238.1" r="2.6"/>
<circle cx="874" cy="175" r="2.6"/>
<circle cx="855.5" cy="232.3" r="2.6"/>
<circle cx="797.2" cy="209" r="2.6"/>
<circle cx="877.1" cy="242.8" r="2.6"/>
<circle cx="862.6" cy="227.7" r="2.6"/>
<circle cx="891.6" cy="209.5" r="2.6"/>
<circle cx="876.8" cy="192.4" r="2.6"/>
<circle cx="871.1" cy="195.7" r="2.6"/>
<circle cx="830.6" cy="238.9" r="2.6"/>
<circle cx="860.5" cy="203.4" r="2.6"/>
<circle cx="843.1" cy="219.7" r="2.6"/>
<circle cx="865" cy="216.7" r="2.6"/>
<circle cx="859.5" cy="236.2" r="2.6"/>
<circle cx="869.9" cy="200.4" r="2.6"/>
<circle cx="884.8" cy="220.2" r="2.6"/>
<circle cx="917.2" cy="199" r="2.6"/>
<circle cx="867.2" cy="199" r="2.6"/>
<circle cx="836.3" cy="217.6" r="2.6"/>
<circle cx="895.9" cy="203.9" r="2.6"/>
<circle cx="872.4" cy="249.4" r="2.6"/>
<circle cx="898.7" cy="233.8" r="2.6"/>
<circle cx="847.9" cy="198.1" r="2.6"/>
<circle cx="867.3" cy="245.4" r="2.6"/>
<circle cx="871" cy="248.3" r="2.6"/>
<circle cx="865.6" cy="215.2" r="2.6"/>
<circle cx="843.5" cy="258.7" r="2.6"/>
<circle cx="884.6" cy="197.2" r="2.6"/>
<circle cx="833.4" cy="251.3" r="2.6"/>
<circle cx="886.3" cy="167.1" r="2.6"/>
<circle cx="817.1" cy="173.4" r="2.6"/>
<circle cx="921" cy="201.6" r="2.6"/>
<circle cx="888.7" cy="234" r="2.6"/>
<circle cx="842.6" cy="249.6" r="2.6"/>
<circle cx="847.9" cy="213.7" r="2.6"/>
<circle cx="870.6" cy="205.4" r="2.6"/>
<circle cx="856.5" cy="221.4" r="2.6"/>
<circle cx="900.3" cy="202.5" r="2.6"/>
<circle cx="863.6" cy="215.7" r="2.6"/>
<circle cx="859.5" cy="170.1" r="2.6"/>
<circle cx="839.5" cy="200.6" r="2.6"/>
<circle cx="888.2" cy="224.5" r="2.6"/>
<circle cx="884.6" cy="201.3" r="2.6"/>
<circle cx="900.7" cy="195.5" r="2.6"/>
<circle cx="857.8" cy="182.9" r="2.6"/>
<circle cx="855.9" cy="208" r="2.6"/>
<circle cx="858.8" cy="149.6" r="2.6"/>
<circle cx="892.7" cy="167.3" r="2.6"/>
<circle cx="848" cy="200.7" r="2.6"/>
<circle cx="850" cy="183.1" r="2.6"/>
<circle cx="810.6" cy="192.8" r="2.6"/>
<circle cx="883.3" cy="162.1" r="2.6"/>
<circle cx="871.5" cy="214.5" r="2.6"/>
<circle cx="788.5" cy="214.6" r="2.6"/>
<circle cx="890.8" cy="220.6" r="2.6"/>
<circle cx="850.4" cy="199.8" r="2.6"/>
<circle cx="844.8" cy="250.5" r="2.6"/>
<circle cx="855.3" cy="268.9" r="2.6"/>
<circle cx="826.5" cy="219.3" r="2.6"/>
<circle cx="876.8" cy="204.9" r="2.6"/>
<circle cx="908.5" cy="185" r="2.6"/>
<circle cx="883.1" cy="213.1" r="2.6"/>
<circle cx="877.4" cy="232.2" r="2.6"/>
<circle cx="874.5" cy="223.7" r="2.6"/>
<circle cx="820.7" cy="235.8" r="2.6"/>
<circle cx="851" cy="216.6" r="2.6"/>
<circle cx="863.6" cy="188" r="2.6"/>
<circle cx="861.1" cy="196.3" r="2.6"/>
<circle cx="913.7" cy="219.3" r="2.6"/>
<circle cx="858.5" cy="247.7" r="2.6"/>
<circle cx="861.9" cy="194.3" r="2.6"/>
<circle cx="845.8" cy="239.9" r="2.6"/>
<circle cx="887" cy="198.2" r="2.6"/>
<circle cx="836.8" cy="247.2" r="2.6"/>
<circle cx="868.3" cy="205.1" r="2.6"/>
<circle cx="838.2" cy="210.8" r="2.6"/>
<circle cx="857.3" cy="200.4" r="2.6"/>
<circle cx="811.1" cy="191.5" r="2.6"/>
<circle cx="871" cy="188.4" r="2.6"/>
<circle cx="854.1" cy="181.4" r="2.6"/>
<circle cx="857.5" cy="211.8" r="2.6"/>
<circle cx="908.3" cy="186.9" r="2.6"/>
<circle cx="842.5" cy="204" r="2.6"/>
<circle cx="882.9" cy="200.5" r="2.6"/>
<circle cx="874.3" cy="195.3" r="2.6"/>
<circle cx="897.9" cy="173.5" r="2.6"/>
<circle cx="839.3" cy="210.7" r="2.6"/>
<circle cx="868.2" cy="217.8" r="2.6"/>
<circle cx="865.2" cy="214.2" r="2.6"/>
<circle cx="877.2" cy="203.8" r="2.6"/>
<circle cx="862.6" cy="224.3" r="2.6"/>
<circle cx="881.3" cy="214.8" r="2.6"/>
<circle cx="857.9" cy="194.3" r="2.6"/>
<circle cx="903.7" cy="189.1" r="2.6"/>
<circle cx="889.6" cy="214.6" r="2.6"/>
<circle cx="885.5" cy="196.8" r="2.6"/>
<circle cx="843.3" cy="208.6" r="2.6"/>
<circle cx="921.6" cy="191.6" r="2.6"/>
<circle cx="862.5" cy="197.1" r="2.6"/>
<circle cx="825.7" cy="220.4" r="2.6"/>
<circle cx="833.6" cy="248.2" r="2.6"/>
<circle cx="852.8" cy="204.3" r="2.6"/>
<circle cx="950" cy="202.9" r="2.6"/>
<circle cx="892.6" cy="175.8" r="2.6"/>
<circle cx="847.4" cy="207.1" r="2.6"/>
<circle cx="865.4" cy="193.4" r="2.6"/>
<circle cx="868.1" cy="195.3" r="2.6"/>
<circle cx="883.6" cy="180" r="2.6"/>
<circle cx="817.6" cy="259" r="2.6"/>
<circle cx="830.2" cy="220.7" r="2.6"/>
<circle cx="869.1" cy="211.8" r="2.6"/>
<circle cx="865.8" cy="156.4" r="2.6"/>
<circle cx="871.4" cy="206.7" r="2.6"/>
<circle cx="868.3" cy="186.2" r="2.6"/>
<circle cx="826.5" cy="243.7" r="2.6"/>
<circle cx="854.7" cy="215.1" r="2.6"/>
<circle cx="863.1" cy="215.4" r="2.6"/>
<circle cx="843" cy="210.5" r="2.6"/>
<circle cx="850.4" cy="198.1" r="2.6"/>
<circle cx="908.6" cy="223" r="2.6"/>
<circle cx="839" cy="215.9" r="2.6"/>
<circle cx="855.8" cy="155.1" r="2.6"/>
<circle cx="855.1" cy="179" r="2.6"/>
<circle cx="907.1" cy="230.2" r="2.6"/>
<circle cx="810.8" cy="201.6" r="2.6"/>
<circle cx="889.2" cy="160" r="2.6"/>
<circle cx="838" cy="205" r="2.6"/>
<circle cx="908.5" cy="209.3" r="2.6"/>
<circle cx="899.4" cy="198.9" r="2.6"/>
<circle cx="866.5" cy="179.4" r="2.6"/>
<circle cx="972.8" cy="189.3" r="2.6"/>
<circle cx="794.8" cy="193.6" r="2.6"/>
<circle cx="832.1" cy="221.1" r="2.6"/>
<circle cx="839.1" cy="203.1" r="2.6"/>
<circle cx="834.3" cy="225.9" r="2.6"/>
<circle cx="853.1" cy="224.2" r="2.6"/>
<circle cx="820.6" cy="224.5" r="2.6"/>
<circle cx="894.6" cy="132.7" r="2.6"/>
<circle cx="841.5" cy="184.4" r="2.6"/>
<circle cx="865.8" cy="194.4" r="2.6"/>
<circle cx="883.7" cy="228.4" r="2.6"/>
<circle cx="860.5" cy="212" r="2.6"/>
<circle cx="909.7" cy="206.5" r="2.6"/>
<circle cx="820.6" cy="198.9" r="2.6"/>
<circle cx="799.8" cy="217.4" r="2.6"/>
<circle cx="842.6" cy="195.9" r="2.6"/>
<circle cx="857.5" cy="228.3" r="2.6"/>
<circle cx="879.4" cy="178.1" r="2.6"/>
<circle cx="847.7" cy="233.9" r="2.6"/>
<circle cx="803.8" cy="209.4" r="2.6"/>
<circle cx="839.9" cy="204.2" r="2.6"/>
<circle cx="835.6" cy="203.2" r="2.6"/>
<circle cx="861.2" cy="205.3" r="2.6"/>
<circle cx="836.3" cy="180.6" r="2.6"/>
<circle cx="807.8" cy="212" r="2.6"/>
<circle cx="875" cy="163.4" r="2.6"/>
<circle cx="863" cy="226.5" r="2.6"/>
<circle cx="869.8" cy="176.6" r="2.6"/>
<circle cx="830.9" cy="242.6" r="2.6"/>
<circle cx="885.2" cy="200.9" r="2.6"/>
<circle cx="885.1" cy="137.5" r="2.6"/>
<circle cx="887.1" cy="229.1" r="2.6"/>
<circle cx="845.5" cy="190.8" r="2.6"/>
<circle cx="891.7" cy="184.5" r="2.6"/>
<circle cx="854.6" cy="213.9" r="2.6"/>
<circle cx="811.3" cy="202.2" r="2.6"/>
<circle cx="848.4" cy="236.6" r="2.6"/>
<circle cx="831.8" cy="196.1" r="2.6"/>
<circle cx="837.9" cy="208.1" r="2.6"/>
<circle cx="888.6" cy="178" r="2.6"/>
<circle cx="832.7" cy="187.1" r="2.6"/>
<circle cx="882.7" cy="175.3" r="2.6"/>
<circle cx="829" cy="254.7" r="2.6"/>
<circle cx="803.2" cy="185.1" r="2.6"/>
<circle cx="891.6" cy="196.1" r="2.6"/>
<circle cx="822.3" cy="248.8" r="2.6"/>
<circle cx="888.9" cy="189.1" r="2.6"/>
<circle cx="862.2" cy="191.1" r="2.6"/>
<circle cx="861.6" cy="211.3" r="2.6"/>
<circle cx="847.3" cy="231.4" r="2.6"/>
<circle cx="873.4" cy="157.2" r="2.6"/>
<circle cx="862.6" cy="243.1" r="2.6"/>
<circle cx="888.7" cy="231.4" r="2.6"/>
<circle cx="819.8" cy="220.9" r="2.6"/>
<circle cx="910" cy="187" r="2.6"/>
<circle cx="824.2" cy="187.7" r="2.6"/>
<circle cx="875.1" cy="190.8" r="2.6"/>
<circle cx="818.5" cy="207.1" r="2.6"/>
<circle cx="875.5" cy="212" r="2.6"/>
<circle cx="903.9" cy="189.2" r="2.6"/>
<circle cx="973.3" cy="199.9" r="2.6"/>
<circle cx="870.6" cy="198.2" r="2.6"/>
<circle cx="885.2" cy="188.2" r="2.6"/>
<circle cx="820.5" cy="205.2" r="2.6"/>
<circle cx="900" cy="168.1" r="2.6"/>
<circle cx="824" cy="207.9" r="2.6"/>
<circle cx="837.6" cy="219.5" r="2.6"/>
<circle cx="840.2" cy="193.1" r="2.6"/>
<circle cx="870" cy="225.5" r="2.6"/>
<circle cx="857.9" cy="200.8" r="2.6"/>
<circle cx="867.8" cy="237.9" r="2.6"/>
<circle cx="883.9" cy="201.2" r="2.6"/>
<circle cx="870.8" cy="173.6" r="2.6"/>
<circle cx="856.9" cy="214.4" r="2.6"/>
<circle cx="847" cy="232.2" r="2.6"/>
<circle cx="859" cy="189.4" r="2.6"/>
<circle cx="823.7" cy="204.4" r="2.6"/>
<circle cx="860" cy="203.1" r="2.6"/>
<circle cx="852" cy="205.3" r="2.6"/>
<circle cx="840.5" cy="217.8" r="2.6"/>
<circle cx="847.1" cy="248.3" r="2.6"/>
<circle cx="834.8" cy="188.7" r="2.6"/>
<circle cx="851.4" cy="208.9" r="2.6"/>
<circle cx="793.2" cy="144.7" r="2.6"/>
<circle cx="880.7" cy="236.2" r="2.6"/>
<circle cx="854.3" cy="219" r="2.6"/>
<circle cx="850" cy="196.7" r="2.6"/>
<circle cx="804.7" cy="205" r="2.6"/>
<circle cx="870.5" cy="213.3" r="2.6"/>
<circle cx="839.5" cy="188.4" r="2.6"/>
<circle cx="837.8" cy="231.5" r="2.6"/>
<circle cx="878.4" cy="215.3" r="2.6"/>
<circle cx="775.6" cy="224" r="2.6"/>
<circle cx="882" cy="170.3" r="2.6"/>
<circle cx="866.8" cy="167.4" r="2.6"/>
<circle cx="828.1" cy="218.4" r="2.6"/>
<circle cx="866.3" cy="232.9" r="2.6"/>
<circle cx="879.2" cy="171.1" r="2.6"/>
<circle cx="901.3" cy="191.2" r="2.6"/>
<circle cx="864.3" cy="221.7" r="2.6"/>
<circle cx="862" cy="206.7" r="2.6"/>
<circle cx="792.2" cy="208.7" r="2.6"/>
<circle cx="825.1" cy="200.4" r="2.6"/>
<circle cx="832.2" cy="184.9" r="2.6"/>
<circle cx="872.2" cy="200.8" r="2.6"/>
<circle cx="875.5" cy="247" r="2.6"/>
<circle cx="848.3" cy="196" r="2.6"/>
<circle cx="805.3" cy="183.6" r="2.6"/>
<circle cx="848" cy="197.3" r="2.6"/>
<circle cx="845.3" cy="194.2" r="2.6"/>
<circle cx="881.2" cy="197.4" r="2.6"/>
<circle cx="864.2" cy="183.9" r="2.6"/>
<circle cx="845.5" cy="205.2" r="2.6"/>
<circle cx="895.8" cy="208" r="2.6"/>
<circle cx="861.7" cy="222.9" r="2.6"/>
<circle cx="873.4" cy="234.9" r="2.6"/>
<circle cx="885.6" cy="205.1" r="2.6"/>
<circle cx="864.6" cy="207.2" r="2.6"/>
<circle cx="882.1" cy="157.9" r="2.6"/>
<circle cx="826.2" cy="190.3" r="2.6"/>
<circle cx="848.4" cy="213.2" r="2.6"/>
<circle cx="965.2" cy="212.9" r="2.6"/>
<circle cx="885.6" cy="190.7" r="2.6"/>
<circle cx="844.3" cy="226.9" r="2.6"/>
<circle cx="852.3" cy="210.5" r="2.6"/>
<circle cx="818.9" cy="189.6" r="2.6"/>
<circle cx="854.1" cy="242.2" r="2.6"/>
<circle cx="828.6" cy="159.6" r="2.6"/>
<circle cx="889.3" cy="230.9" r="2.6"/>
<circle cx="822" cy="194.7" r="2.6"/>
<circle cx="900.3" cy="179.1" r="2.6"/>
<circle cx="817.3" cy="214.4" r="2.6"/>
<circle cx="843.4" cy="210.8" r="2.6"/>
<circle cx="891.2" cy="227.4" r="2.6"/>
<circle cx="868.3" cy="156.7" r="2.6"/>
<circle cx="849.6" cy="172.9" r="2.6"/>
<circle cx="870.8" cy="205.3" r="2.6"/>
<circle cx="928.8" cy="201.2" r="2.6"/>
<circle cx="830.8" cy="230" r="2.6"/>
<circle cx="834.2" cy="237.7" r="2.6"/>
<circle cx="915.5" cy="189.5" r="2.6"/>
<circle cx="877.6" cy="190.9" r="2.6"/>
<circle cx="838.5" cy="228.2" r="2.6"/>
<circle cx="866.3" cy="193.9" r="2.6"/>
<circle cx="853.7" cy="209.1" r="2.6"/>
<circle cx="839.1" cy="210.7" r="2.6"/>
<circle cx="881.9" cy="174.9" r="2.6"/>
<circle cx="818.5" cy="200" r="2.6"/>
<circle cx="864.3" cy="236.2" r="2.6"/>
<circle cx="849.3" cy="222.8" r="2.6"/>
<circle cx="810.3" cy="225.9" r="2.6"/>
<circle cx="854.5" cy="224.5" r="2.6"/>
<circle cx="781.1" cy="166.8" r="2.6"/>
<circle cx="849.3" cy="218.1" r="2.6"/>
<circle cx="883.1" cy="202.5" r="2.6"/>
<circle cx="828.4" cy="205.4" r="2.6"/>
<circle cx="879.8" cy="218.3" r="2.6"/>
<circle cx="871.9" cy="204.9" r="2.6"/>
<circle cx="827.6" cy="211" r="2.6"/>
<circle cx="821.5" cy="193.3" r="2.6"/>
<circle cx="873.9" cy="195" r="2.6"/>
<circle cx="850.5" cy="230.2" r="2.6"/>
<circle cx="827.8" cy="220" r="2.6"/>
<circle cx="828.1" cy="250.7" r="2.6"/>
<circle cx="869.6" cy="165.5" r="2.6"/>
<circle cx="872.1" cy="256.1" r="2.6"/>
<circle cx="870.5" cy="186.1" r="2.6"/>
<circle cx="862.4" cy="259.4" r="2.6"/>
<circle cx="889.1" cy="213.1" r="2.6"/>
<circle cx="892.1" cy="190.8" r="2.6"/>
<circle cx="851.5" cy="241.7" r="2.6"/>
<circle cx="860.3" cy="225.6" r="2.6"/>
<circle cx="824.4" cy="203.4" r="2.6"/>
<circle cx="861.2" cy="200.2" r="2.6"/>
<circle cx="830.8" cy="248.4" r="2.6"/>
<circle cx="857.5" cy="176.5" r="2.6"/>
<circle cx="902" cy="208.4" r="2.6"/>
<circle cx="864" cy="218.8" r="2.6"/>
<circle cx="873.6" cy="257.2" r="2.6"/>
<circle cx="865" cy="232.1" r="2.6"/>
<circle cx="840.6" cy="213.1" r="2.6"/>
<circle cx="843" cy="240" r="2.6"/>
<circle cx="871.1" cy="203" r="2.6"/>
<circle cx="843" cy="175.3" r="2.6"/>
<circle cx="891.8" cy="193.1" r="2.6"/>
<circle cx="850.5" cy="219.7" r="2.6"/>
<circle cx="836.5" cy="218.4" r="2.6"/>
<circle cx="846.1" cy="245.1" r="2.6"/>
<circle cx="867.9" cy="201.1" r="2.6"/>
<circle cx="827.7" cy="250.1" r="2.6"/>
<circle cx="877.2" cy="206.3" r="2.6"/>
<circle cx="869.4" cy="194.9" r="2.6"/>
<circle cx="839.2" cy="213.9" r="2.6"/>
<circle cx="883.8" cy="215.1" r="2.6"/>
<circle cx="889.3" cy="239" r="2.6"/>
<circle cx="877.5" cy="174.8" r="2.6"/>
<circle cx="864.4" cy="188" r="2.6"/>
<circle cx="882.6" cy="200.3" r="2.6"/>
<circle cx="864.1" cy="179.5" r="2.6"/>
<circle cx="880" cy="194.1" r="2.6"/>
<circle cx="894.6" cy="217.6" r="2.6"/>
<circle cx="789.1" cy="214.5" r="2.6"/>
<circle cx="888.3" cy="191.8" r="2.6"/>
<circle cx="886.7" cy="195.5" r="2.6"/>
<circle cx="890.9" cy="210.8" r="2.6"/>
<circle cx="836.8" cy="158.4" r="2.6"/>
<circle cx="876.3" cy="198.4" r="2.6"/>
<circle cx="844.3" cy="226.3" r="2.6"/>
<circle cx="863" cy="205.4" r="2.6"/>
<circle cx="850.2" cy="181.8" r="2.6"/>
<circle cx="862.9" cy="245.3" r="2.6"/>
<circle cx="884" cy="220" r="2.6"/>
<circle cx="861.5" cy="199.1" r="2.6"/>
<circle cx="851.8" cy="192.5" r="2.6"/>
<circle cx="873.9" cy="185.3" r="2.6"/>
<circle cx="862.7" cy="209.7" r="2.6"/>
<circle cx="858.9" cy="154.5" r="2.6"/>
<circle cx="872" cy="221.9" r="2.6"/>
<circle cx="854.6" cy="232.3" r="2.6"/>
<circle cx="822.6" cy="211" r="2.6"/>
<circle cx="816.6" cy="206" r="2.6"/>
<circle cx="834.3" cy="248.1" r="2.6"/>
<circle cx="875.5" cy="163.2" r="2.6"/>
<circle cx="839.2" cy="279.9" r="2.6"/>
<circle cx="833.8" cy="163.8" r="2.6"/>
<circle cx="928.2" cy="188.6" r="2.6"/>
<circle cx="839.3" cy="235.6" r="2.6"/>
<circle cx="865.3" cy="178.4" r="2.6"/>
<circle cx="845.9" cy="181.7" r="2.6"/>
<circle cx="831" cy="238.7" r="2.6"/>
<circle cx="899.7" cy="205.4" r="2.6"/>
<circle cx="859.7" cy="217.2" r="2.6"/>
<circle cx="817.8" cy="181.4" r="2.6"/>
<circle cx="865.9" cy="180.4" r="2.6"/>
<circle cx="850" cy="196.9" r="2.6"/>
<circle cx="801.7" cy="217.9" r="2.6"/>
<circle cx="890.4" cy="237.8" r="2.6"/>
<circle cx="844" cy="219.8" r="2.6"/>
<circle cx="851.9" cy="222.4" r="2.6"/>
<circle cx="829.7" cy="212.4" r="2.6"/>
<circle cx="879.6" cy="183.1" r="2.6"/>
<circle cx="872.6" cy="199.9" r="2.6"/>
<circle cx="876.1" cy="210.8" r="2.6"/>
<circle cx="879.1" cy="205.8" r="2.6"/>
<circle cx="865.1" cy="174.5" r="2.6"/>
<circle cx="827.5" cy="241.5" r="2.6"/>
<circle cx="854.4" cy="179.6" r="2.6"/>
<circle cx="855.7" cy="212.3" r="2.6"/>
<circle cx="863.3" cy="238.1" r="2.6"/>
<circle cx="815.4" cy="222.5" r="2.6"/>
<circle cx="842.2" cy="200.3" r="2.6"/>
<circle cx="894.1" cy="203.4" r="2.6"/>
<circle cx="885.3" cy="171.9" r="2.6"/>
<circle cx="887.2" cy="230.2" r="2.6"/>
<circle cx="836.9" cy="231.8" r="2.6"/>
<circle cx="877" cy="213.7" r="2.6"/>
<circle cx="871.1" cy="246.5" r="2.6"/>
<circle cx="851.8" cy="213.6" r="2.6"/>
<circle cx="859.6" cy="200.4" r="2.6"/>
<circle cx="876.4" cy="221.2" r="2.6"/>
<circle cx="879" cy="223.4" r="2.6"/>
<circle cx="858.9" cy="193.3" r="2.6"/>
<circle cx="855.3" cy="175.7" r="2.6"/>
<circle cx="881.1" cy="187.2" r="2.6"/>
<circle cx="913.5" cy="188.3" r="2.6"/>
<circle cx="887.4" cy="205.1" r="2.6"/>
<circle cx="835.9" cy="232.3" r="2.6"/>
<circle cx="914.7" cy="195.4" r="2.6"/>
<circle cx="884.7" cy="233.7" r="2.6"/>
<circle cx="867.5" cy="163.2" r="2.6"/>
<circle cx="905.1" cy="204.2" r="2.6"/>
<circle cx="894.3" cy="219.3" r="2.6"/>
<circle cx="899.7" cy="170.3" r="2.6"/>
<circle cx="905.9" cy="196.8" r="2.6"/>
<circle cx="873.3" cy="226.8" r="2.6"/>
<circle cx="833.8" cy="209" r="2.6"/>
<circle cx="842.3" cy="177.8" r="2.6"/>
<circle cx="883.3" cy="216.8" r="2.6"/>
<circle cx="864.4" cy="248.4" r="2.6"/>
<circle cx="865.7" cy="184" r="2.6"/>
<circle cx="824.5" cy="161.2" r="2.6"/>
<circle cx="884.6" cy="204.4" r="2.6"/>
<circle cx="833.3" cy="221" r="2.6"/>
<circle cx="850.5" cy="189.5" r="2.6"/>
<circle cx="879.9" cy="204.5" r="2.6"/>
<circle cx="875" cy="163.4" r="2.6"/>
<circle cx="863.3" cy="206.1" r="2.6"/>
<circle cx="814.1" cy="202.1" r="2.6"/>
<circle cx="876.5" cy="191.6" r="2.6"/>
<circle cx="842.8" cy="211.3" r="2.6"/>
<circle cx="853.9" cy="226.7" r="2.6"/>
<circle cx="883.9" cy="204.8" r="2.6"/>
<circle cx="842" cy="205.6" r="2.6"/>
<circle cx="892.3" cy="219.9" r="2.6"/>
<circle cx="800.6" cy="185.8" r="2.6"/>
<circle cx="866.9" cy="189.9" r="2.6"/>
<circle cx="829.1" cy="203.2" r="2.6"/>
<circle cx="864.7" cy="188" r="2.6"/>
<circle cx="898.1" cy="160.5" r="2.6"/>
<circle cx="864.8" cy="197.9" r="2.6"/>
<circle cx="861.7" cy="191.8" r="2.6"/>
<circle cx="921.6" cy="212.7" r="2.6"/>
<circle cx="869.3" cy="182.2" r="2.6"/>
<circle cx="879.1" cy="217.6" r="2.6"/>
<circle cx="830.2" cy="181.9" r="2.6"/>
<circle cx="858.8" cy="189.1" r="2.6"/>
<circle cx="938.4" cy="206.7" r="2.6"/>
<circle cx="821.4" cy="222.2" r="2.6"/>
<circle cx="837" cy="202.2" r="2.6"/>
<circle cx="921.9" cy="243.1" r="2.6"/>
<circle cx="883.7" cy="218" r="2.6"/>
<circle cx="830.6" cy="197.3" r="2.6"/>
<circle cx="857.7" cy="241.3" r="2.6"/>
<circle cx="832.5" cy="178.8" r="2.6"/>
<circle cx="819.7" cy="255.1" r="2.6"/>
<circle cx="850.7" cy="234.1" r="2.6"/>
<circle cx="839.2" cy="217.4" r="2.6"/>
<circle cx="860.8" cy="184.5" r="2.6"/>
<circle cx="846.3" cy="233.8" r="2.6"/>
<circle cx="848.1" cy="212" r="2.6"/>
<circle cx="830.8" cy="218" r="2.6"/>
<circle cx="829.1" cy="231.1" r="2.6"/>
<circle cx="874.1" cy="215.3" r="2.6"/>
<circle cx="852.9" cy="182.2" r="2.6"/>
<circle cx="890" cy="194.1" r="2.6"/>
<circle cx="883.3" cy="205.9" r="2.6"/>
<circle cx="858" cy="173.3" r="2.6"/>
<circle cx="858.7" cy="213.1" r="2.6"/>
<circle cx="825.7" cy="213.9" r="2.6"/>
<circle cx="828.2" cy="249.4" r="2.6"/>
<circle cx="824.4" cy="201.8" r="2.6"/>
<circle cx="844.2" cy="206.8" r="2.6"/>
<circle cx="888.6" cy="160.8" r="2.6"/>
<circle cx="850.3" cy="199.1" r="2.6"/>
<circle cx="850.3" cy="217.7" r="2.6"/>
<circle cx="884.8" cy="205.2" r="2.6"/>
<circle cx="834.6" cy="249.5" r="2.6"/>
<circle cx="870.1" cy="208.6" r="2.6"/>
<circle cx="832.8" cy="222" r="2.6"/>
<circle cx="834.8" cy="235.1" r="2.6"/>
<circle cx="890" cy="185.4" r="2.6"/>
<circle cx="841.3" cy="193.5" r="2.6"/>
<circle cx="870.4" cy="208.7" r="2.6"/>
<circle cx="842.8" cy="254.1" r="2.6"/>
<circle cx="900.4" cy="202.6" r="2.6"/>
<circle cx="822.4" cy="210.4" r="2.6"/>
<circle cx="852.9" cy="214.4" r="2.6"/>
<circle cx="901.7" cy="212.6" r="2.6"/>
<circle cx="895.4" cy="209.7" r="2.6"/>
<circle cx="860.1" cy="199.9" r="2.6"/>
<circle cx="872.9" cy="196.6" r="2.6"/>
<circle cx="875.2" cy="177.5" r="2.6"/>
<circle cx="847.9" cy="217.2" r="2.6"/>
<circle cx="848.3" cy="199.5" r="2.6"/>
<circle cx="855.7" cy="180.8" r="2.6"/>
<circle cx="859.1" cy="186.6" r="2.6"/>
<circle cx="868.7" cy="203.3" r="2.6"/>
<circle cx="906.1" cy="207.1" r="2.6"/>
<circle cx="871.2" cy="202.3" r="2.6"/>
<circle cx="890" cy="180.4" r="2.6"/>
<circle cx="869.2" cy="218.8" r="2.6"/>
<circle cx="873.3" cy="170.6" r="2.6"/>
<circle cx="856.9" cy="179.6" r="2.6"/>
<circle cx="828.9" cy="207.7" r="2.6"/>
<circle cx="837.4" cy="232.8" r="2.6"/>
<circle cx="865.4" cy="188.6" r="2.6"/>
<circle cx="858.3" cy="186.1" r="2.6"/>
<circle cx="861.6" cy="215.9" r="2.6"/>
<circle cx="879.6" cy="184.4" r="2.6"/>
<circle cx="832.1" cy="225.7" r="2.6"/>
<circle cx="878" cy="202.9" r="2.6"/>
<circle cx="858.7" cy="220.2" r="2.6"/>
<circle cx="857.5" cy="240.4" r="2.6"/>
<circle cx="862.6" cy="217.3" r="2.6"/>
<circle cx="843.9" cy="164.5" r="2.6"/>
<circle cx="806" cy="206.5" r="2.6"/>
<circle cx="845.3" cy="233.6" r="2.6"/>
<circle cx="867.3" cy="203.8" r="2.6"/>
<circle cx="887.4" cy="178" r="2.6"/>
<circle cx="889.9" cy="236.2" r="2.6"/>
<circle cx="861.2" cy="221.8" r="2.6"/>
<circle cx="864.2" cy="186.6" r="2.6"/>
<circle cx="831.4" cy="147.5" r="2.6"/>
<circle cx="819.1" cy="214.8" r="2.6"/>
<circle cx="867.2" cy="212.3" r="2.6"/>
<circle cx="862.7" cy="167.6" r="2.6"/>
<circle cx="841.3" cy="188.6" r="2.6"/>
<circle cx="827.5" cy="211" r="2.6"/>
<circle cx="888.7" cy="193.2" r="2.6"/>
<circle cx="835.5" cy="225.7" r="2.6"/>
<circle cx="837.9" cy="212.4" r="2.6"/>
<circle cx="865.3" cy="169.7" r="2.6"/>
<circle cx="906.6" cy="213.2" r="2.6"/>
<circle cx="865.8" cy="172.1" r="2.6"/>
<circle cx="829" cy="182.4" r="2.6"/>
<circle cx="852.8" cy="204.5" r="2.6"/>
<circle cx="848.8" cy="202.9" r="2.6"/>
<circle cx="847.5" cy="200" r="2.6"/>
<circle cx="856.1" cy="200.1" r="2.6"/>
<circle cx="888.3" cy="191.2" r="2.6"/>
<circle cx="873.6" cy="242.3" r="2.6"/>
<circle cx="898.6" cy="213.3" r="2.6"/>
<circle cx="851.6" cy="202.3" r="2.6"/>
<circle cx="885.7" cy="209.7" r="2.6"/>
<circle cx="841.9" cy="201.2" r="2.6"/>
<circle cx="851.1" cy="221.5" r="2.6"/>
<circle cx="859.9" cy="199.6" r="2.6"/>
<circle cx="908.6" cy="195.4" r="2.6"/>
<circle cx="876.8" cy="231.3" r="2.6"/>
<circle cx="850.7" cy="161.7" r="2.6"/>
<circle cx="889" cy="232.2" r="2.6"/>
<circle cx="883.2" cy="212.9" r="2.6"/>
<circle cx="839.4" cy="196.6" r="2.6"/>
<circle cx="900.1" cy="162.2" r="2.6"/>
<circle cx="901.4" cy="209.6" r="2.6"/>
<circle cx="865.6" cy="202.5" r="2.6"/>
<circle cx="818.6" cy="274.1" r="2.6"/>
<circle cx="882.4" cy="151.6" r="2.6"/>
<circle cx="853.9" cy="212.9" r="2.6"/>
<circle cx="880.5" cy="184.2" r="2.6"/>
<circle cx="883.1" cy="198.3" r="2.6"/>
<circle cx="857.9" cy="206" r="2.6"/>
<circle cx="887.6" cy="175.3" r="2.6"/>
<circle cx="850.1" cy="219" r="2.6"/>
<circle cx="850.4" cy="205.1" r="2.6"/>
<circle cx="831.4" cy="209.1" r="2.6"/>
<circle cx="849.4" cy="233.4" r="2.6"/>
<circle cx="880" cy="211.5" r="2.6"/>
<circle cx="849.6" cy="191.4" r="2.6"/>
<circle cx="844.5" cy="212" r="2.6"/>
<circle cx="897.1" cy="239.4" r="2.6"/>
<circle cx="879.3" cy="214.4" r="2.6"/>
<circle cx="839" cy="196.7" r="2.6"/>
<circle cx="871.3" cy="190.5" r="2.6"/>
<circle cx="904" cy="185.3" r="2.6"/>
<circle cx="841.9" cy="189.3" r="2.6"/>
<circle cx="808.6" cy="207.4" r="2.6"/>
<circle cx="855.2" cy="226.1" r="2.6"/>
<circle cx="868" cy="252.9" r="2.6"/>
<circle cx="800.8" cy="229.7" r="2.6"/>
<circle cx="864.9" cy="225" r="2.6"/>
<circle cx="907.2" cy="221.1" r="2.6"/>
<circle cx="854.3" cy="192" r="2.6"/>
<circle cx="876" cy="190.5" r="2.6"/>
<circle cx="849.1" cy="178.7" r="2.6"/>
<circle cx="906.8" cy="231.2" r="2.6"/>
<circle cx="826.3" cy="239.4" r="2.6"/>
<circle cx="898.8" cy="216.6" r="2.6"/>
<circle cx="838.8" cy="174.1" r="2.6"/>
<circle cx="844" cy="238.2" r="2.6"/>
<circle cx="831.9" cy="228.2" r="2.6"/>
<circle cx="846.8" cy="221.1" r="2.6"/>
<circle cx="805.1" cy="190.5" r="2.6"/>
<circle cx="821.2" cy="221" r="2.6"/>
<circle cx="815.6" cy="206.7" r="2.6"/>
<circle cx="871.2" cy="240.5" r="2.6"/>
<circle cx="858.4" cy="202.2" r="2.6"/>
<circle cx="871.9" cy="168.5" r="2.6"/>
<circle cx="920.1" cy="210.5" r="2.6"/>
<circle cx="870.6" cy="191.9" r="2.6"/>
<circle cx="831.2" cy="227.7" r="2.6"/>
<circle cx="897" cy="159.1" r="2.6"/>
<circle cx="890.8" cy="177.5" r="2.6"/>
<circle cx="879.5" cy="201.2" r="2.6"/>
<circle cx="897" cy="186.2" r="2.6"/>
<circle cx="865.5" cy="192.7" r="2.6"/>
<circle cx="846.6" cy="193.4" r="2.6"/>
<circle cx="875.5" cy="219.1" r="2.6"/>
<circle cx="841.3" cy="262.4" r="2.6"/>
<circle cx="866.7" cy="212.1" r="2.6"/>
<circle cx="859.7" cy="257.2" r="2.6"/>
<circle cx="926.1" cy="206.5" r="2.6"/>
<circle cx="850.6" cy="242.1" r="2.6"/>
<circle cx="899.1" cy="197.1" r="2.6"/>
<circle cx="877" cy="238.9" r="2.6"/>
<circle cx="816.4" cy="225.3" r="2.6"/>
<circle cx="882.6" cy="179.4" r="2.6"/>
<circle cx="881.1" cy="181.6" r="2.6"/>
<circle cx="835.2" cy="215.2" r="2.6"/>
<circle cx="889" cy="171.5" r="2.6"/>
<circle cx="891.8" cy="211.1" r="2.6"/>
<circle cx="877.3" cy="184.7" r="2.6"/>
<circle cx="821" cy="215.9" r="2.6"/>
<circle cx="855" cy="220.3" r="2.6"/>
<circle cx="845.7" cy="212.3" r="2.6"/>
<circle cx="872.1" cy="172.2" r="2.6"/>
<circle cx="889.5" cy="206.7" r="2.6"/>
<circle cx="862.5" cy="214.9" r="2.6"/>
<circle cx="927.1" cy="245" r="2.6"/>
<circle cx="881.2" cy="192.1" r="2.6"/>
<circle cx="804.9" cy="208" r="2.6"/>
<circle cx="880.9" cy="201.5" r="2.6"/>
<circle cx="821.5" cy="253.9" r="2.6"/>
<circle cx="859.6" cy="175.5" r="2.6"/>
<circle cx="799.1" cy="176" r="2.6"/>
<circle cx="881.9" cy="181.5" r="2.6"/>
<circle cx="857.8" cy="194.3" r="2.6"/>
<circle cx="896.7" cy="210.7" r="2.6"/>
<circle cx="856.6" cy="207.6" r="2.6"/>
<circle cx="853.6" cy="192.1" r="2.6"/>
<circle cx="915.3" cy="208.3" r="2.6"/>
<circle cx="850.3" cy="193.5" r="2.6"/>
<circle cx="859.7" cy="194.4" r="2.6"/>
<circle cx="961.9" cy="203" r="2.6"/>
<circle cx="869.6" cy="203.6" r="2.6"/>
<circle cx="902" cy="197" r="2.6"/>
<circle cx="858.7" cy="177" r="2.6"/>
<circle cx="844.1" cy="216.3" r="2.6"/>
<circle cx="822.8" cy="250.3" r="2.6"/>
<circle cx="827.6" cy="252.2" r="2.6"/>
<circle cx="808.8" cy="224.2" r="2.6"/>
<circle cx="885.5" cy="192.7" r="2.6"/>
<circle cx="858.6" cy="160.8" r="2.6"/>
<circle cx="869" cy="192.3" r="2.6"/>
<circle cx="845.1" cy="251.5" r="2.6"/>
<circle cx="865.7" cy="234.7" r="2.6"/>
<circle cx="872.2" cy="214.4" r="2.6"/>
<circle cx="857.5" cy="224.9" r="2.6"/>
<circle cx="832.5" cy="182.6" r="2.6"/>
<circle cx="912.1" cy="188" r="2.6"/>
<circle cx="905.8" cy="224.7" r="2.6"/>
<circle cx="825.9" cy="232.5" r="2.6"/>
<circle cx="859.2" cy="162.7" r="2.6"/>
<circle cx="846.4" cy="183" r="2.6"/>
<circle cx="848.1" cy="215.1" r="2.6"/>
<circle cx="819.4" cy="211.1" r="2.6"/>
<circle cx="795.5" cy="209.2" r="2.6"/>
<circle cx="894.5" cy="211.5" r="2.6"/>
<circle cx="857.5" cy="201.9" r="2.6"/>
<circle cx="837.3" cy="183.8" r="2.6"/>
<circle cx="849.6" cy="161.9" r="2.6"/>
<circle cx="840.1" cy="254.3" r="2.6"/>
<circle cx="836" cy="177.7" r="2.6"/>
<circle cx="821.8" cy="188.8" r="2.6"/>
<circle cx="799.8" cy="184.7" r="2.6"/>
<circle cx="863.3" cy="265.6" r="2.6"/>
<circle cx="824.3" cy="185.1" r="2.6"/>
<circle cx="859.4" cy="223.9" r="2.6"/>
<circle cx="860.6" cy="180.6" r="2.6"/>
<circle cx="915.4" cy="207.4" r="2.6"/>
<circle cx="871.2" cy="220" r="2.6"/>
<circle cx="891.8" cy="196.2" r="2.6"/>
<circle cx="859.3" cy="204.6" r="2.6"/>
<circle cx="897.7" cy="179" r="2.6"/>
<circle cx="886.4" cy="185.4" r="2.6"/>
<circle cx="793.5" cy="226.7" r="2.6"/>
<circle cx="918.1" cy="191.6" r="2.6"/>
<circle cx="872.1" cy="157.8" r="2.6"/>
<circle cx="854.2" cy="171.7" r="2.6"/>
<circle cx="874.5" cy="203.7" r="2.6"/>
<circle cx="851.2" cy="179.6" r="2.6"/>
<circle cx="813.6" cy="214.9" r="2.6"/>
<circle cx="843.2" cy="210.2" r="2.6"/>
<circle cx="879.7" cy="231.1" r="2.6"/>
<circle cx="863.1" cy="199.7" r="2.6"/>
<circle cx="844" cy="195" r="2.6"/>
<circle cx="795.1" cy="174.3" r="2.6"/>
<circle cx="794.2" cy="228" r="2.6"/>
<circle cx="840.7" cy="236" r="2.6"/>
<circle cx="870.1" cy="237.2" r="2.6"/>
<circle cx="829.6" cy="182.2" r="2.6"/>
<circle cx="842" cy="214.1" r="2.6"/>
<circle cx="872.7" cy="149.8" r="2.6"/>
<circle cx="847.6" cy="229.2" r="2.6"/>
<circle cx="870.2" cy="172.1" r="2.6"/>
<circle cx="825.8" cy="202.7" r="2.6"/>
<circle cx="855.7" cy="168.8" r="2.6"/>
<circle cx="881.9" cy="160.4" r="2.6"/>
<circle cx="870.8" cy="250.2" r="2.6"/>
<circle cx="829.1" cy="205.2" r="2.6"/>
<circle cx="846.3" cy="198.9" r="2.6"/>
<circle cx="873.6" cy="200.1" r="2.6"/>
<circle cx="872.3" cy="216.6" r="2.6"/>
<circle cx="820.6" cy="210" r="2.6"/>
<circle cx="856.8" cy="215.7" r="2.6"/>
<circle cx="875.7" cy="245.7" r="2.6"/>
<circle cx="817.2" cy="246.5" r="2.6"/>
<circle cx="841.5" cy="199.2" r="2.6"/>
<circle cx="833.4" cy="172.2" r="2.6"/>
<circle cx="854.2" cy="222.7" r="2.6"/>
<circle cx="838.1" cy="195.6" r="2.6"/>
<circle cx="821.7" cy="195" r="2.6"/>
<circle cx="856.7" cy="223.1" r="2.6"/>
<circle cx="842.7" cy="218.6" r="2.6"/>
<circle cx="865.9" cy="166" r="2.6"/>
<circle cx="830.4" cy="181" r="2.6"/>
<circle cx="853" cy="205.1" r="2.6"/>
<circle cx="868.3" cy="177" r="2.6"/>
<circle cx="866.2" cy="214.4" r="2.6"/>
<circle cx="878.4" cy="185.6" r="2.6"/>
<circle cx="954.1" cy="204.2" r="2.6"/>
<circle cx="803" cy="171.9" r="2.6"/>
<circle cx="860.3" cy="186" r="2.6"/>
<circle cx="795.6" cy="198.2" r="2.6"/>
<circle cx="919.7" cy="205.7" r="2.6"/>
<circle cx="842" cy="209.5" r="2.6"/>
<circle cx="834.4" cy="199.1" r="2.6"/>
<circle cx="866.8" cy="148.9" r="2.6"/>
<circle cx="808" cy="220.6" r="2.6"/>
<circle cx="830" cy="224" r="2.6"/>
<circle cx="863.8" cy="222.3" r="2.6"/>
<circle cx="828.2" cy="185.7" r="2.6"/>
<circle cx="869" cy="158.8" r="2.6"/>
<circle cx="872.5" cy="234.9" r="2.6"/>
<circle cx="850.3" cy="241.5" r="2.6"/>
<circle cx="861.3" cy="212.3" r="2.6"/>
<circle cx="877.7" cy="188" r="2.6"/>
<circle cx="857.2" cy="217.3" r="2.6"/>
<circle cx="858.7" cy="209.7" r="2.6"/>
<circle cx="836.8" cy="180.2" r="2.6"/>
<circle cx="896.6" cy="137.1" r="2.6"/>
<circle cx="850.5" cy="232.8" r="2.6"/>
<circle cx="889.1" cy="202.6" r="2.6"/>
<circle cx="853.8" cy="197.3" r="2.6"/>
<circle cx="828.5" cy="199.3" r="2.6"/>
<circle cx="854.2" cy="224.5" r="2.6"/>
<circle cx="866.6" cy="213.4" r="2.6"/>
<circle cx="870.8" cy="215.2" r="2.6"/>
<circle cx="894.6" cy="211.8" r="2.6"/>
<circle cx="874.4" cy="174.8" r="2.6"/>
<circle cx="861" cy="184.4" r="2.6"/>
<circle cx="843.5" cy="243.8" r="2.6"/>
<circle cx="843" cy="180.7" r="2.6"/>
<circle cx="904.7" cy="213.4" r="2.6"/>
<circle cx="889.5" cy="245.3" r="2.6"/>
<circle cx="878.5" cy="170.8" r="2.6"/>
<circle cx="844" cy="216.3" r="2.6"/>
<circle cx="883" cy="187.5" r="2.6"/>
<circle cx="897" cy="217.3" r="2.6"/>
<circle cx="862.9" cy="156" r="2.6"/>
<circle cx="853.9" cy="230.4" r="2.6"/>
<circle cx="851.1" cy="213.5" r="2.6"/>
<circle cx="867.4" cy="185.7" r="2.6"/>
<circle cx="896.1" cy="172.9" r="2.6"/>
<circle cx="899.5" cy="219" r="2.6"/>
<circle cx="793.2" cy="217" r="2.6"/>
<circle cx="931.4" cy="215.5" r="2.6"/>
<circle cx="833.4" cy="240.1" r="2.6"/>
<circle cx="856.9" cy="201.2" r="2.6"/>
<circle cx="876.3" cy="201.5" r="2.6"/>
<circle cx="847.8" cy="269.9" r="2.6"/>
<circle cx="829.7" cy="232.4" r="2.6"/>
<circle cx="868.4" cy="200.7" r="2.6"/>
<circle cx="869.9" cy="199.3" r="2.6"/>
<circle cx="766.3" cy="222.8" r="2.6"/>
<circle cx="895.5" cy="210.5" r="2.6"/>
<circle cx="859.6" cy="237.5" r="2.6"/>
<circle cx="880.7" cy="192.4" r="2.6"/>
<circle cx="855.5" cy="214.3" r="2.6"/>
<circle cx="879.5" cy="258.6" r="2.6"/>
<circle cx="844.4" cy="233.2" r="2.6"/>
<circle cx="836" cy="241.5" r="2.6"/>
<circle cx="857.6" cy="194.1" r="2.6"/>
<circle cx="841.9" cy="245.8" r="2.6"/>
<circle cx="847.3" cy="198.5" r="2.6"/>
<circle cx="896.3" cy="190.5" r="2.6"/>
<circle cx="850.2" cy="205.9" r="2.6"/>
<circle cx="871.9" cy="251.8" r="2.6"/>
<circle cx="852.2" cy="229.7" r="2.6"/>
<circle cx="890.5" cy="239.3" r="2.6"/>
<circle cx="872.9" cy="216" r="2.6"/>
<circle cx="832.6" cy="262.9" r="2.6"/>
<circle cx="879.5" cy="213" r="2.6"/>
<circle cx="870.2" cy="205.6" r="2.6"/>
<circle cx="858.6" cy="196.4" r="2.6"/>
<circle cx="891.1" cy="199.6" r="2.6"/>
<circle cx="909.4" cy="220.4" r="2.6"/>
<circle cx="870.1" cy="193.3" r="2.6"/>
<circle cx="853.6" cy="248" r="2.6"/>
<circle cx="899.5" cy="165.1" r="2.6"/>
<circle cx="886.1" cy="205.3" r="2.6"/>
<circle cx="826.5" cy="244.4" r="2.6"/>
<circle cx="817.8" cy="157.8" r="2.6"/>
<circle cx="810.3" cy="228.4" r="2.6"/>
<circle cx="877.2" cy="197.7" r="2.6"/>
<circle cx="870.1" cy="227.9" r="2.6"/>
<circle cx="833.1" cy="220.7" r="2.6"/>
<circle cx="858.8" cy="259.9" r="2.6"/>
<circle cx="873.4" cy="206.3" r="2.6"/>
<circle cx="825.7" cy="223.3" r="2.6"/>
<circle cx="862.8" cy="235.4" r="2.6"/>
<circle cx="893.2" cy="180.1" r="2.6"/>
<circle cx="851.6" cy="218.3" r="2.6"/>
<circle cx="884.6" cy="204.8" r="2.6"/>
<circle cx="917.4" cy="213.1" r="2.6"/>
<circle cx="867.7" cy="213.9" r="2.6"/>
<circle cx="850.7" cy="199.4" r="2.6"/>
<circle cx="917.1" cy="226.4" r="2.6"/>
<circle cx="889.7" cy="226.9" r="2.6"/>
<circle cx="852.9" cy="182.5" r="2.6"/>
<circle cx="851.7" cy="200.7" r="2.6"/>
<circle cx="850.2" cy="229.8" r="2.6"/>
<circle cx="807.6" cy="194.4" r="2.6"/>
<circle cx="885.5" cy="218.3" r="2.6"/>
<circle cx="839.7" cy="228.6" r="2.6"/>
<circle cx="878.6" cy="207.4" r="2.6"/>
<circle cx="861.6" cy="231.3" r="2.6"/>
<circle cx="850.8" cy="234" r="2.6"/>
<circle cx="877.9" cy="212.1" r="2.6"/>
<circle cx="881.8" cy="235.7" r="2.6"/>
<circle cx="829.3" cy="213.8" r="2.6"/>
<circle cx="910" cy="224.5" r="2.6"/>
<circle cx="894.7" cy="181.1" r="2.6"/>
<circle cx="862.5" cy="193.1" r="2.6"/>
<circle cx="830" cy="211.3" r="2.6"/>
<circle cx="854.4" cy="182.2" r="2.6"/>
<circle cx="845.1" cy="181.5" r="2.6"/>
<circle cx="909.6" cy="212.2" r="2.6"/>
<circle cx="850" cy="197.8" r="2.6"/>
<circle cx="854.3" cy="149.6" r="2.6"/>
<circle cx="827.6" cy="205.2" r="2.6"/>
<circle cx="848.8" cy="172.9" r="2.6"/>
<circle cx="888.5" cy="187" r="2.6"/>
<circle cx="869" cy="280.1" r="2.6"/>
<circle cx="854.9" cy="217.6" r="2.6"/>
<circle cx="857.4" cy="216.4" r="2.6"/>
<circle cx="840.1" cy="183.6" r="2.6"/>
<circle cx="890.9" cy="241.5" r="2.6"/>
<circle cx="860" cy="236" r="2.6"/>
<circle cx="830.7" cy="197.3" r="2.6"/>
<circle cx="841.3" cy="235.1" r="2.6"/>
<circle cx="870.4" cy="236.7" r="2.6"/>
<circle cx="857.8" cy="221.6" r="2.6"/>
<circle cx="840.5" cy="219.7" r="2.6"/>
<circle cx="887.3" cy="190.9" r="2.6"/>
<circle cx="854.6" cy="199.2" r="2.6"/>
<circle cx="872.6" cy="165.9" r="2.6"/>
<circle cx="928.6" cy="211.4" r="2.6"/>
<circle cx="872" cy="203.1" r="2.6"/>
<circle cx="853.1" cy="195.6" r="2.6"/>
<circle cx="869" cy="189.2" r="2.6"/>
<circle cx="822.4" cy="255.6" r="2.6"/>
<circle cx="834.9" cy="195" r="2.6"/>
<circle cx="878.7" cy="215.3" r="2.6"/>
<circle cx="832.2" cy="239.2" r="2.6"/>
<circle cx="839.5" cy="197.2" r="2.6"/>
<circle cx="847.8" cy="188.2" r="2.6"/>
<circle cx="877" cy="190.3" r="2.6"/>
<circle cx="851" cy="217.7" r="2.6"/>
<circle cx="878" cy="177.8" r="2.6"/>
<circle cx="840.8" cy="222.7" r="2.6"/>
<circle cx="897.2" cy="177.5" r="2.6"/>
<circle cx="840.1" cy="229.2" r="2.6"/>
<circle cx="841.5" cy="254.8" r="2.6"/>
<circle cx="804.6" cy="190.5" r="2.6"/>
<circle cx="862.5" cy="228.2" r="2.6"/>
<circle cx="942.1" cy="210.5" r="2.6"/>
<circle cx="860.5" cy="225.4" r="2.6"/>
<circle cx="815.5" cy="227.4" r="2.6"/>
<circle cx="864.5" cy="227.9" r="2.6"/>
<circle cx="836.3" cy="237.2" r="2.6"/>
<circle cx="863.9" cy="220.5" r="2.6"/>
<circle cx="898.5" cy="170.8" r="2.6"/>
<circle cx="848" cy="246.2" r="2.6"/>
<circle cx="864.4" cy="213.9" r="2.6"/>
<circle cx="948.1" cy="231.3" r="2.6"/>
<circle cx="833.3" cy="221.7" r="2.6"/>
<circle cx="848.5" cy="149.8" r="2.6"/>
<circle cx="863.5" cy="233.4" r="2.6"/>
<circle cx="871.2" cy="163.7" r="2.6"/>
<circle cx="873.5" cy="209.4" r="2.6"/>
<circle cx="814.3" cy="215.6" r="2.6"/>
<circle cx="882.3" cy="185.8" r="2.6"/>
<circle cx="836.2" cy="252.7" r="2.6"/>
<circle cx="851.8" cy="236" r="2.6"/>
<circle cx="807.1" cy="233.1" r="2.6"/>
<circle cx="824.9" cy="250.6" r="2.6"/>
<circle cx="889.4" cy="220.6" r="2.6"/>
<circle cx="881.3" cy="193.7" r="2.6"/>
<circle cx="881.3" cy="238.3" r="2.6"/>
<circle cx="846.1" cy="189.5" r="2.6"/>
<circle cx="869.8" cy="212.8" r="2.6"/>
<circle cx="839.4" cy="189.7" r="2.6"/>
<circle cx="870" cy="221.2" r="2.6"/>
<circle cx="821.9" cy="225.8" r="2.6"/>
<circle cx="874.4" cy="226.5" r="2.6"/>
<circle cx="847.6" cy="226.8" r="2.6"/>
<circle cx="867" cy="160.1" r="2.6"/>
<circle cx="844.3" cy="212.6" r="2.6"/>
<circle cx="840.8" cy="238.5" r="2.6"/>
<circle cx="833.5" cy="268.3" r="2.6"/>
<circle cx="859.6" cy="216.5" r="2.6"/>
<circle cx="873.2" cy="184.2" r="2.6"/>
<circle cx="854.3" cy="242.6" r="2.6"/>
<circle cx="878.6" cy="144.6" r="2.6"/>
<circle cx="850.4" cy="201" r="2.6"/>
<circle cx="849" cy="224.7" r="2.6"/>
<circle cx="845.2" cy="155.8" r="2.6"/>
<circle cx="925.9" cy="243.1" r="2.6"/>
<circle cx="843.6" cy="220.2" r="2.6"/>
<circle cx="896.4" cy="258.4" r="2.6"/>
<circle cx="843.2" cy="198.4" r="2.6"/>
<circle cx="852.7" cy="238.8" r="2.6"/>
<circle cx="885.3" cy="160.8" r="2.6"/>
<circle cx="847.6" cy="212" r="2.6"/>
<circle cx="835.8" cy="207.4" r="2.6"/>
<circle cx="911.9" cy="210.7" r="2.6"/>
<circle cx="826.8" cy="211.4" r="2.6"/>
<circle cx="854.2" cy="160.8" r="2.6"/>
<circle cx="879" cy="169.5" r="2.6"/>
<circle cx="861.3" cy="236" r="2.6"/>
<circle cx="902.8" cy="199.8" r="2.6"/>
<circle cx="837.4" cy="152.7" r="2.6"/>
<circle cx="839.7" cy="213.2" r="2.6"/>
<circle cx="850.9" cy="225.8" r="2.6"/>
<circle cx="843" cy="223.8" r="2.6"/>
<circle cx="850.8" cy="197.8" r="2.6"/>
<circle cx="785.8" cy="228.9" r="2.6"/>
<circle cx="878.6" cy="160.9" r="2.6"/>
<circle cx="888.9" cy="234.5" r="2.6"/>
<circle cx="859.8" cy="204.4" r="2.6"/>
<circle cx="879" cy="207.7" r="2.6"/>
<circle cx="818.5" cy="190.1" r="2.6"/>
<circle cx="902.9" cy="207.9" r="2.6"/>
<circle cx="841.2" cy="188.9" r="2.6"/>
<circle cx="862.6" cy="174.8" r="2.6"/>
<circle cx="824.6" cy="216.7" r="2.6"/>
<circle cx="859.5" cy="198.9" r="2.6"/>
<circle cx="849.9" cy="191.8" r="2.6"/>
<circle cx="840.3" cy="194.2" r="2.6"/>
<circle cx="841.7" cy="223.9" r="2.6"/>
<circle cx="840.9" cy="213.5" r="2.6"/>
<circle cx="836.7" cy="208.5" r="2.6"/>
<circle cx="902.5" cy="219.6" r="2.6"/>
<circle cx="850.4" cy="210.3" r="2.6"/>
<circle cx="906.1" cy="203.6" r="2.6"/>
<circle cx="831.6" cy="188.4" r="2.6"/>
<circle cx="863.4" cy="203.9" r="2.6"/>
<circle cx="855.1" cy="262.2" r="2.6"/>
<circle cx="818.2" cy="195.7" r="2.6"/>
<circle cx="910.4" cy="238.7" r="2.6"/>
<circle cx="861.5" cy="219.8" r="2.6"/>
<circle cx="851.7" cy="223.8" r="2.6"/>
<circle cx="850.5" cy="227.9" r="2.6"/>
<circle cx="853.1" cy="226.4" r="2.6"/>
<circle cx="898.6" cy="218.1" r="2.6"/>
<circle cx="821.1" cy="188.2" r="2.6"/>
<circle cx="845.4" cy="178.7" r="2.6"/>
<circle cx="893.5" cy="184" r="2.6"/>
<circle cx="852.9" cy="215.9" r="2.6"/>
<circle cx="902.3" cy="204.9" r="2.6"/>
<circle cx="865.8" cy="157.6" r="2.6"/>
<circle cx="807.2" cy="210.1" r="2.6"/>
<circle cx="849.1" cy="232" r="2.6"/>
<circle cx="887.3" cy="170" r="2.6"/>
<circle cx="856.5" cy="168.9" r="2.6"/>
<circle cx="816.8" cy="224.5" r="2.6"/>
<circle cx="832.5" cy="224.3" r="2.6"/>
<circle cx="851.2" cy="216.9" r="2.6"/>
<circle cx="853.4" cy="208.2" r="2.6"/>
<circle cx="866.6" cy="210.6" r="2.6"/>
<circle cx="868.3" cy="176.9" r="2.6"/>
<circle cx="916.2" cy="237.8" r="2.6"/>
<circle cx="886.6" cy="213.2" r="2.6"/>
<circle cx="864" cy="218.2" r="2.6"/>
<circle cx="866.6" cy="225.3" r="2.6"/>
<circle cx="846.1" cy="206.8" r="2.6"/>
<circle cx="853" cy="235.6" r="2.6"/>
<circle cx="837.2" cy="212.6" r="2.6"/>
<circle cx="945.6" cy="205.9" r="2.6"/>
<circle cx="901.4" cy="205.6" r="2.6"/>
<circle cx="841.3" cy="258.1" r="2.6"/>
<circle cx="862.6" cy="175.3" r="2.6"/>
<circle cx="859.9" cy="233.1" r="2.6"/>
<circle cx="840.4" cy="213.2" r="2.6"/>
<circle cx="834.8" cy="214.5" r="2.6"/>
<circle cx="835.7" cy="157.4" r="2.6"/>
<circle cx="866.8" cy="185.5" r="2.6"/>
<circle cx="838.8" cy="180.7" r="2.6"/>
<circle cx="895.6" cy="177.4" r="2.6"/>
<circle cx="854.9" cy="193.5" r="2.6"/>
<circle cx="844.7" cy="234.3" r="2.6"/>
<circle cx="856.7" cy="210.9" r="2.6"/>
<circle cx="867.4" cy="233.3" r="2.6"/>
<circle cx="849.3" cy="228.5" r="2.6"/>
<circle cx="899.1" cy="182.8" r="2.6"/>
<circle cx="827.9" cy="216.5" r="2.6"/>
<circle cx="896.3" cy="198.4" r="2.6"/>
<circle cx="899.1" cy="225.4" r="2.6"/>
<circle cx="857.3" cy="190.7" r="2.6"/>
<circle cx="832.9" cy="258.9" r="2.6"/>
<circle cx="883.9" cy="197.8" r="2.6"/>
<circle cx="897.5" cy="193.9" r="2.6"/>
<circle cx="859.5" cy="239.7" r="2.6"/>
<circle cx="819.3" cy="299.6" r="2.6"/>
<circle cx="885.6" cy="217.6" r="2.6"/>
<circle cx="816.2" cy="225.7" r="2.6"/>
<circle cx="798.4" cy="179.4" r="2.6"/>
<circle cx="919.3" cy="209.8" r="2.6"/>
<circle cx="868.5" cy="187.9" r="2.6"/>
<circle cx="855.7" cy="217.8" r="2.6"/>
<circle cx="870.8" cy="191.3" r="2.6"/>
<circle cx="826.8" cy="228" r="2.6"/>
<circle cx="905.5" cy="231.2" r="2.6"/>
<circle cx="854.2" cy="223.2" r="2.6"/>
<circle cx="821.3" cy="231.5" r="2.6"/>
<circle cx="867.7" cy="188.9" r="2.6"/>
<circle cx="853.1" cy="192.5" r="2.6"/>
<circle cx="877.8" cy="201.5" r="2.6"/>
<circle cx="880.7" cy="234.8" r="2.6"/>
<circle cx="841.5" cy="231.1" r="2.6"/>
<circle cx="869.8" cy="211.3" r="2.6"/>
<circle cx="874.8" cy="168.7" r="2.6"/>
<circle cx="820.1" cy="248.2" r="2.6"/>
<circle cx="832.2" cy="224.4" r="2.6"/>
<circle cx="831.5" cy="179.2" r="2.6"/>
<circle cx="898.3" cy="204.7" r="2.6"/>
<circle cx="884.6" cy="235.7" r="2.6"/>
<circle cx="861.9" cy="190.3" r="2.6"/>
<circle cx="851.6" cy="199.9" r="2.6"/>
<circle cx="882.2" cy="161.3" r="2.6"/>
<circle cx="892.5" cy="197.9" r="2.6"/>
<circle cx="821.1" cy="220.3" r="2.6"/>
<circle cx="888.7" cy="198.1" r="2.6"/>
<circle cx="811.8" cy="224.7" r="2.6"/>
<circle cx="902.5" cy="213.4" r="2.6"/>
<circle cx="814.1" cy="207.5" r="2.6"/>
<circle cx="843.7" cy="217.3" r="2.6"/>
<circle cx="831.6" cy="240.9" r="2.6"/>
<circle cx="858.1" cy="227.5" r="2.6"/>
<circle cx="842.1" cy="199.9" r="2.6"/>
<circle cx="865.8" cy="238.5" r="2.6"/>
<circle cx="859" cy="183.9" r="2.6"/>
<circle cx="861.5" cy="163" r="2.6"/>
<circle cx="865.4" cy="217.3" r="2.6"/>
<circle cx="886.8" cy="122.6" r="2.6"/>
<circle cx="867.3" cy="205.4" r="2.6"/>
<circle cx="914" cy="188.1" r="2.6"/>
<circle cx="829.1" cy="192.4" r="2.6"/>
<circle cx="785.2" cy="197.7" r="2.6"/>
<circle cx="861.6" cy="175.5" r="2.6"/>
<circle cx="826" cy="190.9" r="2.6"/>
<circle cx="862.2" cy="181.9" r="2.6"/>
<circle cx="918" cy="214.2" r="2.6"/>
<circle cx="871.5" cy="192.2" r="2.6"/>
<circle cx="816.1" cy="205.9" r="2.6"/>
<circle cx="879.1" cy="179.8" r="2.6"/>
<circle cx="902.7" cy="206" r="2.6"/>
<circle cx="830.1" cy="240.2" r="2.6"/>
<circle cx="902.9" cy="188.5" r="2.6"/>
<circle cx="889.8" cy="198" r="2.6"/>
<circle cx="854.7" cy="168.7" r="2.6"/>
<circle cx="889.4" cy="161.1" r="2.6"/>
<circle cx="876.6" cy="226.1" r="2.6"/>
<circle cx="837.9" cy="196.8" r="2.6"/>
<circle cx="857" cy="189.7" r="2.6"/>
<circle cx="917.7" cy="205.1" r="2.6"/>
<circle cx="866.6" cy="198.2" r="2.6"/>
<circle cx="826.4" cy="182.9" r="2.6"/>
<circle cx="832.6" cy="178.3" r="2.6"/>
<circle cx="864.8" cy="181.2" r="2.6"/>
<circle cx="802.7" cy="210.3" r="2.6"/>
<circle cx="888.8" cy="192.5" r="2.6"/>
<circle cx="848.9" cy="194.4" r="2.6"/>
<circle cx="840.3" cy="213.8" r="2.6"/>
<circle cx="852.3" cy="225.1" r="2.6"/>
<circle cx="849.1" cy="215" r="2.6"/>
<circle cx="864.6" cy="188.4" r="2.6"/>
<circle cx="879.1" cy="202.1" r="2.6"/>
<circle cx="884.5" cy="183.5" r="2.6"/>
<circle cx="831.7" cy="196.3" r="2.6"/>
<circle cx="822" cy="207.4" r="2.6"/>
<circle cx="906.2" cy="193.7" r="2.6"/>
<circle cx="879.2" cy="198.2" r="2.6"/>
<circle cx="932.8" cy="198.7" r="2.6"/>
<circle cx="854" cy="202.6" r="2.6"/>
<circle cx="847.1" cy="197.7" r="2.6"/>
<circle cx="867.6" cy="180.7" r="2.6"/>
<circle cx="852.2" cy="221.2" r="2.6"/>
<circle cx="933.2" cy="195.3" r="2.6"/>
<circle cx="878.1" cy="223.3" r="2.6"/>
<circle cx="824.5" cy="222.2" r="2.6"/>
<circle cx="883.5" cy="200.5" r="2.6"/>
<circle cx="911.2" cy="215.9" r="2.6"/>
<circle cx="929.8" cy="200.4" r="2.6"/>
<circle cx="827.1" cy="223.3" r="2.6"/>
<circle cx="858.6" cy="210.5" r="2.6"/>
<circle cx="870.4" cy="177.5" r="2.6"/>
<circle cx="832.3" cy="253.7" r="2.6"/>
<circle cx="880" cy="174.8" r="2.6"/>
<circle cx="873" cy="239.3" r="2.6"/>
<circle cx="879.4" cy="219.2" r="2.6"/>
<circle cx="862.4" cy="170.3" r="2.6"/>
<circle cx="855.5" cy="190" r="2.6"/>
<circle cx="835.4" cy="216" r="2.6"/>
<circle cx="870.8" cy="185.7" r="2.6"/>
<circle cx="849.2" cy="196" r="2.6"/>
<circle cx="869.4" cy="173.5" r="2.6"/>
<circle cx="855" cy="223.5" r="2.6"/>
<circle cx="899.2" cy="201.4" r="2.6"/>
<circle cx="881.1" cy="175.6" r="2.6"/>
<circle cx="876.6" cy="179.5" r="2.6"/>
<circle cx="862.5" cy="216.9" r="2.6"/>
<circle cx="850.8" cy="218.7" r="2.6"/>
<circle cx="895.9" cy="196.1" r="2.6"/>
<circle cx="876.2" cy="218.3" r="2.6"/>
<circle cx="851" cy="220.5" r="2.6"/>
<circle cx="870.9" cy="174.3" r="2.6"/>
<circle cx="851" cy="195.1" r="2.6"/>
<circle cx="825.1" cy="218.9" r="2.6"/>
<circle cx="898.5" cy="188.3" r="2.6"/>
<circle cx="888.1" cy="206.4" r="2.6"/>
<circle cx="913.2" cy="189.4" r="2.6"/>
<circle cx="868.6" cy="177.2" r="2.6"/>
<circle cx="865.8" cy="208" r="2.6"/>
<circle cx="860.9" cy="169.3" r="2.6"/>
<circle cx="844.3" cy="215.1" r="2.6"/>
<circle cx="864.2" cy="173.7" r="2.6"/>
<circle cx="857.9" cy="206.5" r="2.6"/>
<circle cx="814.9" cy="225.7" r="2.6"/>
<circle cx="872.2" cy="193.4" r="2.6"/>
<circle cx="888.1" cy="141.8" r="2.6"/>
<circle cx="910.9" cy="249.4" r="2.6"/>
<circle cx="862.6" cy="206.4" r="2.6"/>
<circle cx="850.7" cy="217.2" r="2.6"/>
<circle cx="852.4" cy="242.4" r="2.6"/>
<circle cx="870.4" cy="225.5" r="2.6"/>
<circle cx="845.2" cy="228.1" r="2.6"/>
<circle cx="869.9" cy="184.9" r="2.6"/>
<circle cx="879.6" cy="205.2" r="2.6"/>
<circle cx="836.9" cy="219.2" r="2.6"/>
<circle cx="886.2" cy="224.4" r="2.6"/>
<circle cx="845.9" cy="169.9" r="2.6"/>
<circle cx="846.6" cy="239.2" r="2.6"/>
<circle cx="848.3" cy="235.7" r="2.6"/>
<circle cx="852" cy="188.7" r="2.6"/>
<circle cx="886" cy="214.3" r="2.6"/>
<circle cx="848.1" cy="169.9" r="2.6"/>
<circle cx="847.9" cy="221.9" r="2.6"/>
<circle cx="872.8" cy="191.7" r="2.6"/>
<circle cx="849.1" cy="201.2" r="2.6"/>
<circle cx="834.1" cy="240.1" r="2.6"/>
<circle cx="826.4" cy="200.9" r="2.6"/>
<circle cx="855.6" cy="168.5" r="2.6"/>
<circle cx="891.6" cy="193.5" r="2.6"/>
<circle cx="849.7" cy="198.7" r="2.6"/>
<circle cx="849.5" cy="176" r="2.6"/>
<circle cx="917" cy="198.7" r="2.6"/>
<circle cx="867.7" cy="185" r="2.6"/>
<circle cx="879.5" cy="214.7" r="2.6"/>
<circle cx="851.8" cy="221.2" r="2.6"/>
<circle cx="846.9" cy="176.3" r="2.6"/>
<circle cx="858.6" cy="179.4" r="2.6"/>
<circle cx="879.5" cy="194.3" r="2.6"/>
<circle cx="840.5" cy="203.6" r="2.6"/>
<circle cx="876.4" cy="195.5" r="2.6"/>
<circle cx="841.4" cy="185.4" r="2.6"/>
<circle cx="833.1" cy="221.1" r="2.6"/>
<circle cx="880.2" cy="213.4" r="2.6"/>
<circle cx="843.2" cy="237.7" r="2.6"/>
<circle cx="912.6" cy="190.1" r="2.6"/>
<circle cx="845.6" cy="236.2" r="2.6"/>
<circle cx="845.8" cy="222.4" r="2.6"/>
<circle cx="865.9" cy="204" r="2.6"/>
<circle cx="854.4" cy="151.6" r="2.6"/>
<circle cx="869.4" cy="199.7" r="2.6"/>
<circle cx="828.4" cy="186.8" r="2.6"/>
<circle cx="847.3" cy="216" r="2.6"/>
<circle cx="892.4" cy="243.3" r="2.6"/>
<circle cx="824" cy="188.7" r="2.6"/>
<circle cx="860.3" cy="221.7" r="2.6"/>
<circle cx="847.3" cy="233" r="2.6"/>
<circle cx="827.5" cy="212.1" r="2.6"/>
<circle cx="889.1" cy="232.9" r="2.6"/>
<circle cx="893.8" cy="190.8" r="2.6"/>
<circle cx="841.7" cy="232.8" r="2.6"/>
<circle cx="846" cy="202.7" r="2.6"/>
<circle cx="892.2" cy="168.9" r="2.6"/>
<circle cx="898.4" cy="207.5" r="2.6"/>
<circle cx="881.9" cy="218.4" r="2.6"/>
<circle cx="876.8" cy="188.8" r="2.6"/>
<circle cx="856.3" cy="257.3" r="2.6"/>
<circle cx="840.1" cy="252" r="2.6"/>
<circle cx="840" cy="199.5" r="2.6"/>
<circle cx="828" cy="201" r="2.6"/>
<circle cx="845.5" cy="215.4" r="2.6"/>
<circle cx="868.9" cy="197.4" r="2.6"/>
<circle cx="870.2" cy="217" r="2.6"/>
<circle cx="903.6" cy="213.1" r="2.6"/>
<circle cx="830.8" cy="242.8" r="2.6"/>
<circle cx="861.2" cy="236" r="2.6"/>
<circle cx="834.7" cy="250.6" r="2.6"/>
<circle cx="882.5" cy="207" r="2.6"/>
<circle cx="889.2" cy="162.1" r="2.6"/>
<circle cx="807.5" cy="208.6" r="2.6"/>
<circle cx="867.6" cy="215.3" r="2.6"/>
<circle cx="870.9" cy="190.5" r="2.6"/>
<circle cx="921.3" cy="199.9" r="2.6"/>
<circle cx="818.7" cy="182.1" r="2.6"/>
<circle cx="843.4" cy="240.6" r="2.6"/>
<circle cx="826.8" cy="221.5" r="2.6"/>
<circle cx="880.4" cy="202.3" r="2.6"/>
<circle cx="859.1" cy="224.2" r="2.6"/>
<circle cx="825.7" cy="247.2" r="2.6"/>
<circle cx="858.9" cy="188" r="2.6"/>
<circle cx="859.7" cy="186.5" r="2.6"/>
<circle cx="932.1" cy="196.1" r="2.6"/>
<circle cx="899.7" cy="182.5" r="2.6"/>
<circle cx="852.2" cy="264.6" r="2.6"/>
<circle cx="873" cy="200.1" r="2.6"/>
<circle cx="865.5" cy="240.6" r="2.6"/>
<circle cx="850.5" cy="233.3" r="2.6"/>
<circle cx="859.6" cy="195.2" r="2.6"/>
<circle cx="800.6" cy="220.5" r="2.6"/>
<circle cx="869.7" cy="216" r="2.6"/>
<circle cx="852.8" cy="169.7" r="2.6"/>
<circle cx="833.1" cy="212.8" r="2.6"/>
<circle cx="846" cy="240" r="2.6"/>
<circle cx="849.6" cy="207.6" r="2.6"/>
<circle cx="904.2" cy="208.1" r="2.6"/>
<circle cx="872.9" cy="164.4" r="2.6"/>
<circle cx="849.5" cy="174.4" r="2.6"/>
<circle cx="871.9" cy="170.7" r="2.6"/>
<circle cx="835.6" cy="199.2" r="2.6"/>
<circle cx="862.1" cy="209.8" r="2.6"/>
<circle cx="825.5" cy="259.7" r="2.6"/>
<circle cx="918.6" cy="185.9" r="2.6"/>
<circle cx="882.6" cy="203.8" r="2.6"/>
<circle cx="836" cy="198.7" r="2.6"/>
<circle cx="867.7" cy="221.1" r="2.6"/>
<circle cx="836.2" cy="247.7" r="2.6"/>
<circle cx="821.8" cy="244.2" r="2.6"/>
<circle cx="865.1" cy="173.3" r="2.6"/>
<circle cx="899.3" cy="213.9" r="2.6"/>
<circle cx="863.2" cy="204.1" r="2.6"/>
<circle cx="893.5" cy="205.8" r="2.6"/>
<circle cx="895.4" cy="158.7" r="2.6"/>
<circle cx="817.5" cy="249.5" r="2.6"/>
<circle cx="821.8" cy="171.9" r="2.6"/>
<circle cx="801.3" cy="200.8" r="2.6"/>
<circle cx="906.3" cy="191" r="2.6"/>
<circle cx="899.1" cy="195.8" r="2.6"/>
<circle cx="824.3" cy="197.7" r="2.6"/>
<circle cx="870.2" cy="184.5" r="2.6"/>
<circle cx="833" cy="174.8" r="2.6"/>
<circle cx="891.2" cy="206.6" r="2.6"/>
<circle cx="846.4" cy="204.7" r="2.6"/>
<circle cx="870" cy="177.5" r="2.6"/>
<circle cx="878.7" cy="193.4" r="2.6"/>
<circle cx="901.6" cy="223" r="2.6"/>
<circle cx="874.4" cy="192" r="2.6"/>
<circle cx="880.1" cy="182.6" r="2.6"/>
<circle cx="902.7" cy="197.9" r="2.6"/>
<circle cx="851.2" cy="169.1" r="2.6"/>
<circle cx="850.8" cy="234.9" r="2.6"/>
<circle cx="832.8" cy="203.4" r="2.6"/>
<circle cx="880.1" cy="198.4" r="2.6"/>
<circle cx="817.9" cy="235.2" r="2.6"/>
<circle cx="868.8" cy="200.4" r="2.6"/>
<circle cx="824.3" cy="241.8" r="2.6"/>
<circle cx="905.6" cy="190.7" r="2.6"/>
<circle cx="896.2" cy="177.3" r="2.6"/>
<circle cx="833.9" cy="181.3" r="2.6"/>
<circle cx="841" cy="188.7" r="2.6"/>
<circle cx="799.6" cy="197.8" r="2.6"/>
<circle cx="855.4" cy="199.9" r="2.6"/>
<circle cx="854.9" cy="250.6" r="2.6"/>
<circle cx="870.4" cy="235.3" r="2.6"/>
<circle cx="816.3" cy="180.3" r="2.6"/>
<circle cx="906.9" cy="245.9" r="2.6"/>
<circle cx="879.2" cy="188.4" r="2.6"/>
<circle cx="870.7" cy="191.6" r="2.6"/>
<circle cx="878.5" cy="201.5" r="2.6"/>
<circle cx="867.9" cy="222.1" r="2.6"/>
<circle cx="808.3" cy="212.4" r="2.6"/>
<circle cx="839.5" cy="266.1" r="2.6"/>
<circle cx="834.7" cy="220.8" r="2.6"/>
<circle cx="926.1" cy="232.1" r="2.6"/>
<circle cx="833.5" cy="197.8" r="2.6"/>
<circle cx="836.6" cy="254.6" r="2.6"/>
<circle cx="840.8" cy="223" r="2.6"/>
<circle cx="908.7" cy="184.9" r="2.6"/>
<circle cx="868.3" cy="204.7" r="2.6"/>
<circle cx="807" cy="221.9" r="2.6"/>
<circle cx="906.8" cy="197.2" r="2.6"/>
<circle cx="888" cy="218.6" r="2.6"/>
<circle cx="850.8" cy="201" r="2.6"/>
<circle cx="857.6" cy="254.9" r="2.6"/>
<circle cx="884.9" cy="191.4" r="2.6"/>
<circle cx="892.5" cy="159.8" r="2.6"/>
<circle cx="892.1" cy="110.7" r="2.6"/>
<circle cx="842.1" cy="266.5" r="2.6"/>
<circle cx="857.6" cy="197.5" r="2.6"/>
<circle cx="856.1" cy="256.6" r="2.6"/>
<circle cx="891.8" cy="257.8" r="2.6"/>
<circle cx="842.8" cy="202.8" r="2.6"/>
<circle cx="881.2" cy="193" r="2.6"/>
<circle cx="858" cy="196.6" r="2.6"/>
<circle cx="860" cy="216.5" r="2.6"/>
<circle cx="928.1" cy="193.8" r="2.6"/>
<circle cx="885.7" cy="212.7" r="2.6"/>
<circle cx="868.7" cy="216.8" r="2.6"/>
<circle cx="828.1" cy="219.6" r="2.6"/>
<circle cx="883.9" cy="226.4" r="2.6"/>
<circle cx="792.2" cy="187.9" r="2.6"/>
<circle cx="906.4" cy="198.6" r="2.6"/>
<circle cx="890.1" cy="205.8" r="2.6"/>
<circle cx="854.7" cy="227" r="2.6"/>
<circle cx="858.7" cy="183.1" r="2.6"/>
<circle cx="891" cy="213.7" r="2.6"/>
<circle cx="867.7" cy="213.3" r="2.6"/>
<circle cx="894.6" cy="192.4" r="2.6"/>
<circle cx="869" cy="144.3" r="2.6"/>
<circle cx="879.7" cy="248" r="2.6"/>
<circle cx="828.6" cy="208.9" r="2.6"/>
<circle cx="837.1" cy="231.8" r="2.6"/>
<circle cx="870" cy="153.6" r="2.6"/>
<circle cx="860.5" cy="224.8" r="2.6"/>
<circle cx="822" cy="172" r="2.6"/>
<circle cx="857.9" cy="269.6" r="2.6"/>
<circle cx="878.8" cy="201.7" r="2.6"/>
<circle cx="888.7" cy="194.9" r="2.6"/>
<circle cx="843.8" cy="202.9" r="2.6"/>
<circle cx="907.9" cy="210.8" r="2.6"/>
<circle cx="922.9" cy="212.6" r="2.6"/>
<circle cx="823.9" cy="248" r="2.6"/>
<circle cx="835.9" cy="203.4" r="2.6"/>
<circle cx="886.9" cy="192.1" r="2.6"/>
<circle cx="873.5" cy="191.6" r="2.6"/>
<circle cx="838" cy="215.1" r="2.6"/>
<circle cx="848.8" cy="182.4" r="2.6"/>
<circle cx="903.4" cy="217.7" r="2.6"/>
<circle cx="921.4" cy="220.5" r="2.6"/>
<circle cx="912.9" cy="187.7" r="2.6"/>
<circle cx="873.5" cy="181" r="2.6"/>
<circle cx="876.8" cy="212.5" r="2.6"/>
<circle cx="812.1" cy="228.4" r="2.6"/>
<circle cx="834.5" cy="233.6" r="2.6"/>
<circle cx="790.2" cy="200.3" r="2.6"/>
<circle cx="887.9" cy="211.3" r="2.6"/>
<circle cx="883.1" cy="221.9" r="2.6"/>
<circle cx="927.5" cy="191.4" r="2.6"/>
<circle cx="875.3" cy="184.7" r="2.6"/>
<circle cx="846.5" cy="238.4" r="2.6"/>
<circle cx="909.5" cy="200.9" r="2.6"/>
<circle cx="830.7" cy="231.8" r="2.6"/>
<circle cx="882.7" cy="227.3" r="2.6"/>
<circle cx="851.5" cy="207.8" r="2.6"/>
<circle cx="890.4" cy="191.8" r="2.6"/>
<circle cx="820.9" cy="160.2" r="2.6"/>
<circle cx="852.6" cy="232.6" r="2.6"/>
<circle cx="866.7" cy="216.5" r="2.6"/>
<circle cx="839.4" cy="216.8" r="2.6"/>
<circle cx="857.3" cy="213.9" r="2.6"/>
<circle cx="865.8" cy="184.2" r="2.6"/>
<circle cx="849.5" cy="201.1" r="2.6"/>
<circle cx="882.3" cy="180.5" r="2.6"/>
<circle cx="783.8" cy="207.7" r="2.6"/>
<circle cx="877.6" cy="190.5" r="2.6"/>
<circle cx="874.1" cy="231.2" r="2.6"/>
<circle cx="892.1" cy="174.1" r="2.6"/>
<circle cx="881.2" cy="203.5" r="2.6"/>
<circle cx="861.1" cy="210.3" r="2.6"/>
<circle cx="890.9" cy="195.5" r="2.6"/>
<circle cx="862.9" cy="222" r="2.6"/>
<circle cx="855.2" cy="256.2" r="2.6"/>
<circle cx="871.7" cy="167" r="2.6"/>
<circle cx="833.6" cy="236.2" r="2.6"/>
<circle cx="824.9" cy="249.8" r="2.6"/>
<circle cx="917.7" cy="192.3" r="2.6"/>
<circle cx="825.7" cy="209.8" r="2.6"/>
<circle cx="834.2" cy="207.5" r="2.6"/>
<circle cx="861.7" cy="191.3" r="2.6"/>
<circle cx="876.1" cy="229.9" r="2.6"/>
<circle cx="886" cy="189.5" r="2.6"/>
<circle cx="831.5" cy="199.4" r="2.6"/>
<circle cx="922.5" cy="230.1" r="2.6"/>
<circle cx="870.2" cy="214.9" r="2.6"/>
<circle cx="853.6" cy="170.8" r="2.6"/>
<circle cx="881.6" cy="222.5" r="2.6"/>
<circle cx="866.6" cy="185.9" r="2.6"/>
<circle cx="837.6" cy="238.9" r="2.6"/>
<circle cx="817.7" cy="215.5" r="2.6"/>
<circle cx="871.5" cy="247.6" r="2.6"/>
<circle cx="932.5" cy="211.7" r="2.6"/>
<circle cx="839.1" cy="208.7" r="2.6"/>
<circle cx="846.4" cy="222.8" r="2.6"/>
<circle cx="823.7" cy="209.6" r="2.6"/>
<circle cx="843.7" cy="228.9" r="2.6"/>
<circle cx="857.4" cy="211.9" r="2.6"/>
<circle cx="856.9" cy="246.4" r="2.6"/>
<circle cx="851" cy="209.4" r="2.6"/>
<circle cx="870.7" cy="192.2" r="2.6"/>
<circle cx="916.2" cy="194.4" r="2.6"/>
<circle cx="848.7" cy="197.4" r="2.6"/>
<circle cx="835.1" cy="238.3" r="2.6"/>
<circle cx="844.8" cy="213.9" r="2.6"/>
<circle cx="849.2" cy="218.1" r="2.6"/>
<circle cx="870.9" cy="197" r="2.6"/>
<circle cx="826.9" cy="170.3" r="2.6"/>
<circle cx="897.5" cy="177.3" r="2.6"/>
<circle cx="846.6" cy="193.2" r="2.6"/>
<circle cx="819.9" cy="232" r="2.6"/>
<circle cx="869.7" cy="178.3" r="2.6"/>
<circle cx="843.4" cy="255.9" r="2.6"/>
<circle cx="973.9" cy="196.1" r="2.6"/>
<circle cx="861.5" cy="237.7" r="2.6"/>
<circle cx="889" cy="211.5" r="2.6"/>
<circle cx="875.2" cy="172.6" r="2.6"/>
<circle cx="898" cy="196.4" r="2.6"/>
<circle cx="859.9" cy="248.4" r="2.6"/>
<circle cx="819.6" cy="230.5" r="2.6"/>
<circle cx="834.9" cy="208.6" r="2.6"/>
<circle cx="860.3" cy="214.3" r="2.6"/>
<circle cx="859.9" cy="192.6" r="2.6"/>
<circle cx="848.4" cy="210.9" r="2.6"/>
<circle cx="817.7" cy="175.1" r="2.6"/>
<circle cx="841.4" cy="225.3" r="2.6"/>
<circle cx="877.1" cy="237.4" r="2.6"/>
<circle cx="853.6" cy="214.5" r="2.6"/>
<circle cx="826.3" cy="200.7" r="2.6"/>
<circle cx="868.5" cy="166" r="2.6"/>
<circle cx="885.1" cy="258.2" r="2.6"/>
<circle cx="849.5" cy="181.5" r="2.6"/>
<circle cx="860.8" cy="191.3" r="2.6"/>
<circle cx="850.6" cy="190.2" r="2.6"/>
<circle cx="867" cy="214.8" r="2.6"/>
<circle cx="821.7" cy="228.6" r="2.6"/>
<circle cx="854.8" cy="195.9" r="2.6"/>
<circle cx="849.5" cy="241.2" r="2.6"/>
<circle cx="859.1" cy="224.1" r="2.6"/>
<circle cx="830.1" cy="222.4" r="2.6"/>
<circle cx="955.3" cy="188.9" r="2.6"/>
<circle cx="902.5" cy="231.3" r="2.6"/>
<circle cx="848.6" cy="204.8" r="2.6"/>
<circle cx="881.4" cy="188.2" r="2.6"/>
<circle cx="868.1" cy="191.3" r="2.6"/>
<circle cx="806.5" cy="189.2" r="2.6"/>
<circle cx="827.7" cy="225.9" r="2.6"/>
<circle cx="861.6" cy="183.9" r="2.6"/>
<circle cx="863.7" cy="220.6" r="2.6"/>
<circle cx="822.2" cy="243.2" r="2.6"/>
<circle cx="841.5" cy="220.9" r="2.6"/>
<circle cx="856.2" cy="240.8" r="2.6"/>
<circle cx="836" cy="205.9" r="2.6"/>
<circle cx="858.3" cy="213.5" r="2.6"/>
<circle cx="853.7" cy="202" r="2.6"/>
<circle cx="847.5" cy="190.2" r="2.6"/>
<circle cx="870.1" cy="207.8" r="2.6"/>
<circle cx="862" cy="218.3" r="2.6"/>
<circle cx="863.1" cy="180.9" r="2.6"/>
<circle cx="898.6" cy="212.3" r="2.6"/>
<circle cx="862.6" cy="207.9" r="2.6"/>
<circle cx="860.3" cy="201.7" r="2.6"/>
<circle cx="864.2" cy="194" r="2.6"/>
<circle cx="865.1" cy="191.6" r="2.6"/>
<circle cx="831" cy="199.4" r="2.6"/>
<circle cx="862.1" cy="145.1" r="2.6"/>
<circle cx="856.8" cy="170.7" r="2.6"/>
<circle cx="835.9" cy="251.9" r="2.6"/>
<circle cx="878.5" cy="178.3" r="2.6"/>
<circle cx="832" cy="212" r="2.6"/>
<circle cx="911.7" cy="191.9" r="2.6"/>
<circle cx="864.6" cy="172.3" r="2.6"/>
<circle cx="848.4" cy="240.2" r="2.6"/>
<circle cx="859.5" cy="187.5" r="2.6"/>
<circle cx="795" cy="211.8" r="2.6"/>
<circle cx="862.2" cy="214.7" r="2.6"/>
<circle cx="811.2" cy="208.2" r="2.6"/>
<circle cx="915.8" cy="189" r="2.6"/>
<circle cx="846.1" cy="188.9" r="2.6"/>
<circle cx="862.3" cy="208.7" r="2.6"/>
<circle cx="884.9" cy="188.2" r="2.6"/>
<circle cx="872.7" cy="204.1" r="2.6"/>
<circle cx="899.7" cy="187" r="2.6"/>
<circle cx="826.1" cy="212.2" r="2.6"/>
<circle cx="831.5" cy="213.8" r="2.6"/>
<circle cx="879.9" cy="161.4" r="2.6"/>
<circle cx="876" cy="204.2" r="2.6"/>
<circle cx="846.4" cy="208.9" r="2.6"/>
<circle cx="866.5" cy="220.7" r="2.6"/>
<circle cx="873.8" cy="192.7" r="2.6"/>
<circle cx="865.4" cy="220.7" r="2.6"/>
<circle cx="848.1" cy="229.7" r="2.6"/>
<circle cx="874" cy="193.3" r="2.6"/>
<circle cx="876.7" cy="208.5" r="2.6"/>
<circle cx="861.1" cy="249.9" r="2.6"/>
<circle cx="886.3" cy="216.8" r="2.6"/>
<circle cx="863.9" cy="227.8" r="2.6"/>
<circle cx="857.5" cy="169.8" r="2.6"/>
<circle cx="872.5" cy="230.5" r="2.6"/>
<circle cx="873.7" cy="199.7" r="2.6"/>
<circle cx="824.4" cy="185.8" r="2.6"/>
<circle cx="833.9" cy="190.8" r="2.6"/>
<circle cx="762.6" cy="186.4" r="2.6"/>
<circle cx="881.3" cy="169.9" r="2.6"/>
<circle cx="865.6" cy="197.6" r="2.6"/>
<circle cx="853.6" cy="242.2" r="2.6"/>
<circle cx="851.7" cy="198.2" r="2.6"/>
<circle cx="827.7" cy="205.4" r="2.6"/>
<circle cx="831.2" cy="235" r="2.6"/>
<circle cx="857.8" cy="209.2" r="2.6"/>
<circle cx="828" cy="222.8" r="2.6"/>
<circle cx="893.4" cy="214.5" r="2.6"/>
<circle cx="882.5" cy="257.5" r="2.6"/>
<circle cx="864.1" cy="190.8" r="2.6"/>
<circle cx="860" cy="226" r="2.6"/>
<circle cx="890" cy="173.6" r="2.6"/>
<circle cx="868.4" cy="157.9" r="2.6"/>
<circle cx="851.5" cy="204.2" r="2.6"/>
<circle cx="838.5" cy="238" r="2.6"/>
<circle cx="876.8" cy="241" r="2.6"/>
<circle cx="820.1" cy="197.9" r="2.6"/>
<circle cx="818" cy="227" r="2.6"/>
<circle cx="866.1" cy="237.2" r="2.6"/>
<circle cx="892.5" cy="187.8" r="2.6"/>
<circle cx="888.7" cy="185" r="2.6"/>
<circle cx="863.6" cy="182.8" r="2.6"/>
<circle cx="861.2" cy="166.1" r="2.6"/>
<circle cx="846.5" cy="219.3" r="2.6"/>
<circle cx="860.2" cy="196.5" r="2.6"/>
<circle cx="867.5" cy="203.8" r="2.6"/>
<circle cx="902.9" cy="185.7" r="2.6"/>
<circle cx="845.7" cy="221.5" r="2.6"/>
<circle cx="853.5" cy="169.6" r="2.6"/>
<circle cx="875.3" cy="194.7" r="2.6"/>
<circle cx="851.4" cy="202.3" r="2.6"/>
<circle cx="877.3" cy="231.5" r="2.6"/>
<circle cx="860.7" cy="206.2" r="2.6"/>
<circle cx="864.4" cy="219.2" r="2.6"/>
<circle cx="822" cy="245" r="2.6"/>
<circle cx="858.8" cy="183.1" r="2.6"/>
<circle cx="840.4" cy="195.3" r="2.6"/>
<circle cx="869" cy="189" r="2.6"/>
<circle cx="797.2" cy="201.3" r="2.6"/>
<circle cx="849" cy="217" r="2.6"/>
<circle cx="813.4" cy="192.3" r="2.6"/>
<circle cx="828.6" cy="207.8" r="2.6"/>
<circle cx="875.7" cy="166.4" r="2.6"/>
<circle cx="851.9" cy="227.6" r="2.6"/>
<circle cx="899.4" cy="203.6" r="2.6"/>
<circle cx="911.2" cy="224.5" r="2.6"/>
<circle cx="875.1" cy="226.2" r="2.6"/>
<circle cx="862.4" cy="204.6" r="2.6"/>
<circle cx="860.2" cy="213.6" r="2.6"/>
<circle cx="841.6" cy="223.4" r="2.6"/>
<circle cx="861.6" cy="216.7" r="2.6"/>
<circle cx="880.9" cy="182.1" r="2.6"/>
<circle cx="916" cy="203.3" r="2.6"/>
<circle cx="857.2" cy="241.8" r="2.6"/>
<circle cx="797.9" cy="226.1" r="2.6"/>
<circle cx="870" cy="172.9" r="2.6"/>
<circle cx="879.2" cy="206.8" r="2.6"/>
<circle cx="844.6" cy="216.2" r="2.6"/>
<circle cx="832" cy="185.2" r="2.6"/>
<circle cx="882.3" cy="178.6" r="2.6"/>
<circle cx="821.3" cy="262.3" r="2.6"/>
<circle cx="878.6" cy="239.3" r="2.6"/>
<circle cx="844.2" cy="241" r="2.6"/>
<circle cx="827.7" cy="210.3" r="2.6"/>
<circle cx="846.3" cy="222.4" r="2.6"/>
<circle cx="848.7" cy="181.7" r="2.6"/>
<circle cx="931.7" cy="199.7" r="2.6"/>
<circle cx="781.6" cy="233.5" r="2.6"/>
<circle cx="830.5" cy="199.8" r="2.6"/>
<circle cx="854.8" cy="175.7" r="2.6"/>
<circle cx="892.9" cy="191.7" r="2.6"/>
<circle cx="864.8" cy="209.8" r="2.6"/>
<circle cx="889.4" cy="250.1" r="2.6"/>
<circle cx="877.2" cy="224.9" r="2.6"/>
<circle cx="848.9" cy="246.4" r="2.6"/>
<circle cx="875.3" cy="166.4" r="2.6"/>
<circle cx="849.4" cy="222.5" r="2.6"/>
<circle cx="859.9" cy="222.6" r="2.6"/>
<circle cx="807.2" cy="203" r="2.6"/>
<circle cx="928.9" cy="194" r="2.6"/>
<circle cx="844.8" cy="204.1" r="2.6"/>
<circle cx="854.3" cy="201.3" r="2.6"/>
<circle cx="880.4" cy="205.2" r="2.6"/>
<circle cx="908.6" cy="214.4" r="2.6"/>
<circle cx="874.6" cy="212.1" r="2.6"/>
<circle cx="829.3" cy="188.6" r="2.6"/>
<circle cx="870.3" cy="245.5" r="2.6"/>
<circle cx="887.1" cy="181" r="2.6"/>
<circle cx="890.1" cy="209.9" r="2.6"/>
<circle cx="847.6" cy="271.6" r="2.6"/>
<circle cx="792.8" cy="231.1" r="2.6"/>
<circle cx="884.4" cy="199.4" r="2.6"/>
<circle cx="863.6" cy="222.8" r="2.6"/>
<circle cx="829.6" cy="240.7" r="2.6"/>
<circle cx="838.4" cy="220" r="2.6"/>
<circle cx="833.2" cy="225.9" r="2.6"/>
<circle cx="881.1" cy="198" r="2.6"/>
<circle cx="794.8" cy="227.5" r="2.6"/>
<circle cx="877.3" cy="189" r="2.6"/>
<circle cx="790.5" cy="161.4" r="2.6"/>
<circle cx="874.7" cy="249" r="2.6"/>
<circle cx="870.7" cy="191.9" r="2.6"/>
<circle cx="886.7" cy="149.1" r="2.6"/>
<circle cx="861.9" cy="181.9" r="2.6"/>
<circle cx="886.6" cy="141" r="2.6"/>
<circle cx="868.4" cy="213.3" r="2.6"/>
<circle cx="857.6" cy="215.7" r="2.6"/>
<circle cx="812.5" cy="167.1" r="2.6"/>
<circle cx="848.5" cy="236.5" r="2.6"/>
<circle cx="883.5" cy="176.2" r="2.6"/>
<circle cx="797.5" cy="181.8" r="2.6"/>
<circle cx="845.6" cy="227.6" r="2.6"/>
<circle cx="826" cy="159.6" r="2.6"/>
<circle cx="852.8" cy="250.5" r="2.6"/>
<circle cx="864.8" cy="237.1" r="2.6"/>
<circle cx="904.1" cy="198.7" r="2.6"/>
<circle cx="899.3" cy="182.1" r="2.6"/>
<circle cx="836.7" cy="215" r="2.6"/>
<circle cx="865.5" cy="245.6" r="2.6"/>
<circle cx="876" cy="208.2" r="2.6"/>
<circle cx="849.3" cy="215.5" r="2.6"/>
<circle cx="851.8" cy="158" r="2.6"/>
<circle cx="868.4" cy="215.7" r="2.6"/>
<circle cx="859.9" cy="206.8" r="2.6"/>
<circle cx="864.6" cy="176.9" r="2.6"/>
<circle cx="844.4" cy="241.2" r="2.6"/>
<circle cx="839" cy="250.5" r="2.6"/>
<circle cx="876.8" cy="236.5" r="2.6"/>
<circle cx="801.1" cy="206.1" r="2.6"/>
<circle cx="821.4" cy="213.5" r="2.6"/>
<circle cx="905.1" cy="211.2" r="2.6"/>
<circle cx="853.5" cy="201" r="2.6"/>
<circle cx="876.4" cy="211.9" r="2.6"/>
<circle cx="863.9" cy="188.5" r="2.6"/>
<circle cx="874.5" cy="204.6" r="2.6"/>
<circle cx="899.7" cy="181.1" r="2.6"/>
<circle cx="851" cy="199.2" r="2.6"/>
<circle cx="824.8" cy="156.7" r="2.6"/>
<circle cx="824.1" cy="223.2" r="2.6"/>
<circle cx="866" cy="191.5" r="2.6"/>
<circle cx="847.9" cy="158.2" r="2.6"/>
<circle cx="848.4" cy="190.6" r="2.6"/>
<circle cx="842.6" cy="213.4" r="2.6"/>
<circle cx="832.8" cy="184.9" r="2.6"/>
<circle cx="878.9" cy="200.4" r="2.6"/>
<circle cx="899.7" cy="219.5" r="2.6"/>
<circle cx="845.5" cy="207.5" r="2.6"/>
<circle cx="897.8" cy="159.3" r="2.6"/>
<circle cx="875.1" cy="198.6" r="2.6"/>
<circle cx="875.4" cy="198.1" r="2.6"/>
<circle cx="858.7" cy="213.8" r="2.6"/>
<circle cx="844.5" cy="223.9" r="2.6"/>
<circle cx="826" cy="177.6" r="2.6"/>
<circle cx="884" cy="220.2" r="2.6"/>
<circle cx="888.2" cy="197.3" r="2.6"/>
<circle cx="799.3" cy="202" r="2.6"/>
<circle cx="815.3" cy="217.2" r="2.6"/>
<circle cx="927.4" cy="199.9" r="2.6"/>
<circle cx="881.7" cy="199.6" r="2.6"/>
<circle cx="834.6" cy="242.8" r="2.6"/>
<circle cx="866.6" cy="184.8" r="2.6"/>
<circle cx="891" cy="195.6" r="2.6"/>
<circle cx="814" cy="212.6" r="2.6"/>
<circle cx="826.7" cy="224.8" r="2.6"/>
<circle cx="853.3" cy="226.6" r="2.6"/>
<circle cx="951.6" cy="226.1" r="2.6"/>
<circle cx="841.8" cy="206.3" r="2.6"/>
<circle cx="844.4" cy="291.3" r="2.6"/>
<circle cx="819.8" cy="252.2" r="2.6"/>
<circle cx="834.4" cy="258.7" r="2.6"/>
<circle cx="841.1" cy="228.8" r="2.6"/>
<circle cx="833.8" cy="215.5" r="2.6"/>
<circle cx="853.7" cy="208.6" r="2.6"/>
<circle cx="857.9" cy="185.5" r="2.6"/>
<circle cx="915.3" cy="212.5" r="2.6"/>
<circle cx="894.4" cy="173.2" r="2.6"/>
<circle cx="884.7" cy="204.7" r="2.6"/>
<circle cx="891.4" cy="187.2" r="2.6"/>
<circle cx="870.9" cy="205" r="2.6"/>
<circle cx="775.4" cy="206.6" r="2.6"/>
<circle cx="815.5" cy="232.6" r="2.6"/>
<circle cx="836.5" cy="205.2" r="2.6"/>
<circle cx="856.4" cy="204.7" r="2.6"/>
<circle cx="848.3" cy="216.6" r="2.6"/>
<circle cx="878.1" cy="194.6" r="2.6"/>
<circle cx="868.4" cy="180.1" r="2.6"/>
<circle cx="870.2" cy="208.2" r="2.6"/>
<circle cx="890.4" cy="195.1" r="2.6"/>
<circle cx="844.5" cy="193.6" r="2.6"/>
<circle cx="843.5" cy="149.8" r="2.6"/>
<circle cx="859.1" cy="154.9" r="2.6"/>
<circle cx="864.6" cy="209" r="2.6"/>
<circle cx="902.5" cy="194.1" r="2.6"/>
<circle cx="834.2" cy="204.9" r="2.6"/>
<circle cx="852.4" cy="216.4" r="2.6"/>
<circle cx="872.3" cy="215.7" r="2.6"/>
<circle cx="912.2" cy="189.7" r="2.6"/>
<circle cx="897.3" cy="181.4" r="2.6"/>
<circle cx="861.4" cy="163.7" r="2.6"/>
<circle cx="871.6" cy="201.5" r="2.6"/>
<circle cx="854.3" cy="229.2" r="2.6"/>
<circle cx="888.4" cy="236.8" r="2.6"/>
<circle cx="866.8" cy="183.8" r="2.6"/>
<circle cx="852.9" cy="218.9" r="2.6"/>
<circle cx="895" cy="245.5" r="2.6"/>
<circle cx="898.4" cy="202.2" r="2.6"/>
<circle cx="859.2" cy="248" r="2.6"/>
<circle cx="861.7" cy="217.9" r="2.6"/>
<circle cx="860.8" cy="181.1" r="2.6"/>
<circle cx="868.9" cy="220.2" r="2.6"/>
<circle cx="823.2" cy="251.7" r="2.6"/>
<circle cx="805.8" cy="211.5" r="2.6"/>
<circle cx="864.9" cy="193.8" r="2.6"/>
<circle cx="866.4" cy="276.9" r="2.6"/>
<circle cx="878.6" cy="183.6" r="2.6"/>
<circle cx="893" cy="211.2" r="2.6"/>
<circle cx="903.9" cy="199.5" r="2.6"/>
<circle cx="893.7" cy="211.2" r="2.6"/>
<circle cx="832.1" cy="204.5" r="2.6"/>
<circle cx="843.7" cy="192.1" r="2.6"/>
<circle cx="852.3" cy="274.8" r="2.6"/>
<circle cx="846.8" cy="201.1" r="2.6"/>
<circle cx="829.1" cy="217.9" r="2.6"/>
<circle cx="887.5" cy="222.4" r="2.6"/>
<circle cx="871.7" cy="191.5" r="2.6"/>
<circle cx="888.6" cy="192.6" r="2.6"/>
<circle cx="834.7" cy="196.9" r="2.6"/>
<circle cx="876.8" cy="249.7" r="2.6"/>
<circle cx="836.9" cy="205.9" r="2.6"/>
<circle cx="823.4" cy="249.8" r="2.6"/>
<circle cx="828.1" cy="200.7" r="2.6"/>
<circle cx="857.7" cy="232.9" r="2.6"/>
<circle cx="876.4" cy="192.4" r="2.6"/>
<circle cx="857.1" cy="234.1" r="2.6"/>
<circle cx="866.9" cy="213.8" r="2.6"/>
<circle cx="875" cy="202" r="2.6"/>
<circle cx="874.7" cy="165.3" r="2.6"/>
<circle cx="849.7" cy="199.6" r="2.6"/>
<circle cx="925.9" cy="240.3" r="2.6"/>
<circle cx="894" cy="207.5" r="2.6"/>
<circle cx="859.7" cy="204.9" r="2.6"/>
<circle cx="846.4" cy="163.5" r="2.6"/>
<circle cx="853.4" cy="220.8" r="2.6"/>
<circle cx="857.6" cy="209.1" r="2.6"/>
<circle cx="860.5" cy="206" r="2.6"/>
<circle cx="861.5" cy="206" r="2.6"/>
<circle cx="885.8" cy="223.3" r="2.6"/>
<circle cx="861.1" cy="204.6" r="2.6"/>
<circle cx="862.8" cy="175.7" r="2.6"/>
<circle cx="856.5" cy="178.5" r="2.6"/>
<circle cx="819.8" cy="201.6" r="2.6"/>
<circle cx="826.2" cy="235.2" r="2.6"/>
<circle cx="831.3" cy="187.4" r="2.6"/>
<circle cx="866.5" cy="206.1" r="2.6"/>
<circle cx="862.1" cy="234.1" r="2.6"/>
<circle cx="891.8" cy="209.6" r="2.6"/>
<circle cx="857" cy="250.7" r="2.6"/>
<circle cx="836" cy="247.6" r="2.6"/>
<circle cx="822.2" cy="219.8" r="2.6"/>
<circle cx="819.4" cy="181.2" r="2.6"/>
<circle cx="857.1" cy="224.7" r="2.6"/>
<circle cx="859.5" cy="209" r="2.6"/>
<circle cx="851.2" cy="208.9" r="2.6"/>
<circle cx="916.8" cy="186.1" r="2.6"/>
<circle cx="772.8" cy="228.1" r="2.6"/>
<circle cx="791" cy="219.9" r="2.6"/>
<circle cx="862.5" cy="204.4" r="2.6"/>
<circle cx="859.8" cy="224.5" r="2.6"/>
<circle cx="843.4" cy="202.8" r="2.6"/>
<circle cx="896" cy="207.7" r="2.6"/>
<circle cx="884.3" cy="208.2" r="2.6"/>
<circle cx="863.1" cy="186.4" r="2.6"/>
<circle cx="895.9" cy="205.4" r="2.6"/>
<circle cx="846.2" cy="213.5" r="2.6"/>
<circle cx="879.4" cy="230.5" r="2.6"/>
<circle cx="863.6" cy="205.2" r="2.6"/>
<circle cx="879.5" cy="185.8" r="2.6"/>
<circle cx="856.7" cy="222.3" r="2.6"/>
<circle cx="875.8" cy="210.2" r="2.6"/>
<circle cx="859.4" cy="210.5" r="2.6"/>
<circle cx="900.8" cy="232.7" r="2.6"/>
<circle cx="855.3" cy="190.5" r="2.6"/>
<circle cx="865.6" cy="220.4" r="2.6"/>
<circle cx="912.9" cy="190.4" r="2.6"/>
<circle cx="865" cy="210.4" r="2.6"/>
<circle cx="896.7" cy="164.6" r="2.6"/>
<circle cx="856.5" cy="196.4" r="2.6"/>
<circle cx="898.9" cy="180.8" r="2.6"/>
<circle cx="827.9" cy="208.4" r="2.6"/>
<circle cx="890.5" cy="160.7" r="2.6"/>
<circle cx="907.3" cy="188.9" r="2.6"/>
<circle cx="855.7" cy="185.9" r="2.6"/>
<circle cx="834.9" cy="244.2" r="2.6"/>
<circle cx="871.8" cy="241.8" r="2.6"/>
<circle cx="871.2" cy="200.4" r="2.6"/>
<circle cx="868.1" cy="173.2" r="2.6"/>
<circle cx="873.5" cy="221.1" r="2.6"/>
<circle cx="835" cy="196.9" r="2.6"/>
<circle cx="874.2" cy="208.4" r="2.6"/>
<circle cx="870.8" cy="248.6" r="2.6"/>
<circle cx="830.7" cy="188.4" r="2.6"/>
<circle cx="844.4" cy="180.7" r="2.6"/>
<circle cx="884.9" cy="227.6" r="2.6"/>
<circle cx="816.7" cy="201.9" r="2.6"/>
<circle cx="868.9" cy="212.7" r="2.6"/>
<circle cx="820.6" cy="206" r="2.6"/>
<circle cx="827.7" cy="229.2" r="2.6"/>
<circle cx="846.8" cy="147.2" r="2.6"/>
<circle cx="897.7" cy="204.9" r="2.6"/>
<circle cx="893.1" cy="187.2" r="2.6"/>
<circle cx="834" cy="247.5" r="2.6"/>
<circle cx="845.9" cy="211.9" r="2.6"/>
<circle cx="876.8" cy="208.2" r="2.6"/>
<circle cx="857.4" cy="223.1" r="2.6"/>
<circle cx="873.1" cy="212.5" r="2.6"/>
<circle cx="856.4" cy="192.2" r="2.6"/>
<circle cx="869.5" cy="198.8" r="2.6"/>
<circle cx="872" cy="239.6" r="2.6"/>
<circle cx="866.4" cy="224.4" r="2.6"/>
<circle cx="867.9" cy="212.4" r="2.6"/>
<circle cx="877.4" cy="205.2" r="2.6"/>
<circle cx="915.9" cy="218.5" r="2.6"/>
<circle cx="835" cy="221.4" r="2.6"/>
<circle cx="858.6" cy="215.9" r="2.6"/>
<circle cx="873.1" cy="219.8" r="2.6"/>
<circle cx="865.3" cy="211.1" r="2.6"/>
<circle cx="889.2" cy="181.2" r="2.6"/>
<circle cx="866" cy="236.4" r="2.6"/>
<circle cx="866.3" cy="223.2" r="2.6"/>
<circle cx="845.4" cy="195.2" r="2.6"/>
<circle cx="855.7" cy="235.4" r="2.6"/>
<circle cx="949.2" cy="192.8" r="2.6"/>
<circle cx="840.4" cy="146.7" r="2.6"/>
<circle cx="866.3" cy="221.4" r="2.6"/>
<circle cx="869.2" cy="193.4" r="2.6"/>
<circle cx="843.8" cy="246.6" r="2.6"/>
<circle cx="880.2" cy="208.9" r="2.6"/>
<circle cx="854.1" cy="239.8" r="2.6"/>
<circle cx="856.1" cy="226" r="2.6"/>
<circle cx="862.8" cy="220.1" r="2.6"/>
<circle cx="826.7" cy="220.5" r="2.6"/>
<circle cx="831.3" cy="250.6" r="2.6"/>
<circle cx="898.3" cy="196.4" r="2.6"/>
<circle cx="893.4" cy="186.4" r="2.6"/>
<circle cx="840.5" cy="228.8" r="2.6"/>
<circle cx="837" cy="227.7" r="2.6"/>
<circle cx="845" cy="217.5" r="2.6"/>
<circle cx="899.4" cy="230.2" r="2.6"/>
<circle cx="882.1" cy="193.5" r="2.6"/>
<circle cx="850.4" cy="183.6" r="2.6"/>
<circle cx="835.6" cy="193.7" r="2.6"/>
<circle cx="855.3" cy="217.8" r="2.6"/>
<circle cx="841.1" cy="230.8" r="2.6"/>
<circle cx="868.1" cy="220.4" r="2.6"/>
<circle cx="886.5" cy="214.5" r="2.6"/>
<circle cx="856.7" cy="206.9" r="2.6"/>
<circle cx="888.8" cy="200.9" r="2.6"/>
<circle cx="845.4" cy="212.1" r="2.6"/>
<circle cx="911" cy="217.7" r="2.6"/>
<circle cx="901.8" cy="188.3" r="2.6"/>
<circle cx="812" cy="202" r="2.6"/>
<circle cx="879.2" cy="167.2" r="2.6"/>
<circle cx="911" cy="214.1" r="2.6"/>
<circle cx="892.7" cy="178.1" r="2.6"/>
<circle cx="862" cy="200.3" r="2.6"/>
<circle cx="881.9" cy="167" r="2.6"/>
<circle cx="854.2" cy="153.8" r="2.6"/>
<circle cx="864.5" cy="194.9" r="2.6"/>
<circle cx="879.5" cy="210.4" r="2.6"/>
<circle cx="873.4" cy="190.4" r="2.6"/>
<circle cx="853.1" cy="209.7" r="2.6"/>
<circle cx="802.8" cy="202" r="2.6"/>
<circle cx="914.2" cy="214.7" r="2.6"/>
<circle cx="823.7" cy="211.3" r="2.6"/>
<circle cx="857.1" cy="183.6" r="2.6"/>
<circle cx="819.9" cy="250.3" r="2.6"/>
<circle cx="836.1" cy="235.2" r="2.6"/>
<circle cx="842.1" cy="212.2" r="2.6"/>
<circle cx="866.8" cy="198.2" r="2.6"/>
<circle cx="851.8" cy="201.3" r="2.6"/>
<circle cx="819.7" cy="194" r="2.6"/>
<circle cx="900.9" cy="221.1" r="2.6"/>
<circle cx="888" cy="167.8" r="2.6"/>
<circle cx="880.7" cy="200.2" r="2.6"/>
<circle cx="868.4" cy="254" r="2.6"/>
<circle cx="901.7" cy="203.6" r="2.6"/>
<circle cx="851.5" cy="186.9" r="2.6"/>
<circle cx="853.7" cy="202.3" r="2.6"/>
<circle cx="846" cy="207.7" r="2.6"/>
<circle cx="847.2" cy="172.7" r="2.6"/>
<circle cx="910.9" cy="203.4" r="2.6"/>
<circle cx="822.2" cy="174.2" r="2.6"/>
<circle cx="853" cy="204.9" r="2.6"/>
<circle cx="838.6" cy="232" r="2.6"/>
<circle cx="865.2" cy="182.8" r="2.6"/>
<circle cx="819" cy="202.6" r="2.6"/>
<circle cx="894.5" cy="224.9" r="2.6"/>
<circle cx="876.4" cy="231.3" r="2.6"/>
<circle cx="850.9" cy="209.5" r="2.6"/>
<circle cx="856.6" cy="151.9" r="2.6"/>
<circle cx="855.3" cy="209.4" r="2.6"/>
<circle cx="828.5" cy="233.9" r="2.6"/>
<circle cx="891" cy="211.5" r="2.6"/>
<circle cx="852.7" cy="195.6" r="2.6"/>
<circle cx="884.3" cy="189.6" r="2.6"/>
<circle cx="856" cy="233.8" r="2.6"/>
<circle cx="805.5" cy="190.2" r="2.6"/>
<circle cx="864.7" cy="226.5" r="2.6"/>
<circle cx="908.5" cy="217.8" r="2.6"/>
<circle cx="876.8" cy="214.3" r="2.6"/>
<circle cx="824.8" cy="236.5" r="2.6"/>
<circle cx="891.5" cy="202.9" r="2.6"/>
<circle cx="867.8" cy="227.4" r="2.6"/>
<circle cx="845.9" cy="232.2" r="2.6"/>
<circle cx="830.6" cy="171" r="2.6"/>
<circle cx="838.2" cy="221.4" r="2.6"/>
<circle cx="850.5" cy="187.1" r="2.6"/>
<circle cx="836.7" cy="226.5" r="2.6"/>
<circle cx="879.5" cy="166.8" r="2.6"/>
<circle cx="885.2" cy="166.7" r="2.6"/>
<circle cx="849.4" cy="204.9" r="2.6"/>
<circle cx="836.1" cy="216.3" r="2.6"/>
<circle cx="876.7" cy="230.4" r="2.6"/>
<circle cx="883.2" cy="177.1" r="2.6"/>
<circle cx="858.8" cy="197.4" r="2.6"/>
<circle cx="894" cy="184" r="2.6"/>
<circle cx="857.4" cy="180.2" r="2.6"/>
<circle cx="853.4" cy="226.1" r="2.6"/>
<circle cx="886.6" cy="211" r="2.6"/>
<circle cx="842.5" cy="250.7" r="2.6"/>
<circle cx="853.1" cy="192.8" r="2.6"/>
<circle cx="821.4" cy="232.7" r="2.6"/>
<circle cx="833" cy="243.3" r="2.6"/>
<circle cx="871.6" cy="208.8" r="2.6"/>
<circle cx="886.3" cy="169.9" r="2.6"/>
<circle cx="890.9" cy="181.9" r="2.6"/>
<circle cx="892.7" cy="205.2" r="2.6"/>
<circle cx="850.5" cy="211" r="2.6"/>
<circle cx="788.3" cy="220" r="2.6"/>
<circle cx="895.5" cy="252.4" r="2.6"/>
<circle cx="854.9" cy="211" r="2.6"/>
<circle cx="977.5" cy="218.1" r="2.6"/>
<circle cx="873.5" cy="189.5" r="2.6"/>
<circle cx="807.7" cy="226" r="2.6"/>
<circle cx="867.1" cy="216.2" r="2.6"/>
<circle cx="802.8" cy="196.6" r="2.6"/>
<circle cx="847.6" cy="188.5" r="2.6"/>
<circle cx="833.7" cy="199.6" r="2.6"/>
<circle cx="882.2" cy="192.1" r="2.6"/>
<circle cx="878.2" cy="184.8" r="2.6"/>
<circle cx="854.9" cy="175" r="2.6"/>
<circle cx="880.2" cy="199.9" r="2.6"/>
<circle cx="870.9" cy="194.9" r="2.6"/>
<circle cx="858" cy="183.2" r="2.6"/>
<circle cx="875.9" cy="203.3" r="2.6"/>
<circle cx="834.6" cy="188" r="2.6"/>
<circle cx="905.6" cy="186.2" r="2.6"/>
<circle cx="836.1" cy="197.7" r="2.6"/>
<circle cx="839.8" cy="257.9" r="2.6"/>
<circle cx="876.9" cy="177.6" r="2.6"/>
<circle cx="842.5" cy="217.2" r="2.6"/>
<circle cx="853" cy="197.3" r="2.6"/>
<circle cx="863.3" cy="194.7" r="2.6"/>
<circle cx="842.7" cy="220" r="2.6"/>
<circle cx="894.4" cy="179" r="2.6"/>
<circle cx="821.5" cy="203.5" r="2.6"/>
<circle cx="857" cy="248.6" r="2.6"/>
<circle cx="820.3" cy="237.4" r="2.6"/>
<circle cx="832.3" cy="220.1" r="2.6"/>
<circle cx="823.3" cy="217.7" r="2.6"/>
<circle cx="896.1" cy="230.4" r="2.6"/>
<circle cx="848.1" cy="193.8" r="2.6"/>
<circle cx="868.4" cy="188.9" r="2.6"/>
<circle cx="833.9" cy="197.6" r="2.6"/>
<circle cx="821.6" cy="266.6" r="2.6"/>
<circle cx="865.1" cy="205.4" r="2.6"/>
<circle cx="853.2" cy="168.8" r="2.6"/>
<circle cx="833.8" cy="223" r="2.6"/>
<circle cx="839.4" cy="190.2" r="2.6"/>
<circle cx="877.8" cy="201" r="2.6"/>
<circle cx="878.9" cy="186.2" r="2.6"/>
<circle cx="849.9" cy="212" r="2.6"/>
<circle cx="871.9" cy="207.1" r="2.6"/>
<circle cx="861.9" cy="171.7" r="2.6"/>
<circle cx="933.3" cy="208" r="2.6"/>
<circle cx="862.7" cy="224.5" r="2.6"/>
<circle cx="867.2" cy="249.5" r="2.6"/>
<circle cx="841.6" cy="155.8" r="2.6"/>
<circle cx="853.3" cy="229.4" r="2.6"/>
<circle cx="843.8" cy="195.6" r="2.6"/>
<circle cx="868.1" cy="191.8" r="2.6"/>
<circle cx="873.1" cy="169" r="2.6"/>
<circle cx="869.9" cy="203.2" r="2.6"/>
<circle cx="883.3" cy="139.5" r="2.6"/>
<circle cx="844.8" cy="235.3" r="2.6"/>
<circle cx="858.5" cy="182.9" r="2.6"/>
<circle cx="864.4" cy="202.4" r="2.6"/>
<circle cx="828.8" cy="226.1" r="2.6"/>
<circle cx="852.2" cy="199.5" r="2.6"/>
<circle cx="865.1" cy="200.8" r="2.6"/>
<circle cx="892.4" cy="234.9" r="2.6"/>
<circle cx="862.9" cy="203.1" r="2.6"/>
<circle cx="910.7" cy="195.9" r="2.6"/>
<circle cx="891.5" cy="177.3" r="2.6"/>
<circle cx="852.7" cy="200" r="2.6"/>
<circle cx="858.9" cy="207.3" r="2.6"/>
<circle cx="877.4" cy="243.1" r="2.6"/>
<circle cx="831.5" cy="206.1" r="2.6"/>
<circle cx="884.1" cy="195.1" r="2.6"/>
<circle cx="921.4" cy="192.2" r="2.6"/>
<circle cx="882.7" cy="198.3" r="2.6"/>
<circle cx="839.1" cy="204.5" r="2.6"/>
<circle cx="851.1" cy="215.2" r="2.6"/>
<circle cx="831.4" cy="198.2" r="2.6"/>
<circle cx="894.5" cy="193.2" r="2.6"/>
<circle cx="873.2" cy="213.1" r="2.6"/>
<circle cx="862.7" cy="175.2" r="2.6"/>
<circle cx="831.5" cy="224.2" r="2.6"/>
<circle cx="852.8" cy="181.4" r="2.6"/>
<circle cx="880.6" cy="187.3" r="2.6"/>
<circle cx="824.8" cy="182.3" r="2.6"/>
<circle cx="867" cy="223.4" r="2.6"/>
<circle cx="876.9" cy="219.9" r="2.6"/>
<circle cx="863.6" cy="208.8" r="2.6"/>
<circle cx="858.4" cy="205.9" r="2.6"/>
<circle cx="861.5" cy="230.7" r="2.6"/>
<circle cx="905.3" cy="197.9" r="2.6"/>
<circle cx="876.4" cy="189.1" r="2.6"/>
<circle cx="878.4" cy="168.2" r="2.6"/>
<circle cx="881.6" cy="194" r="2.6"/>
<circle cx="803.7" cy="185.4" r="2.6"/>
<circle cx="826" cy="192.7" r="2.6"/>
<circle cx="884.5" cy="172" r="2.6"/>
<circle cx="873.8" cy="216.3" r="2.6"/>
<circle cx="828.8" cy="214.7" r="2.6"/>
<circle cx="868.2" cy="201.5" r="2.6"/>
<circle cx="873.9" cy="206.4" r="2.6"/>
<circle cx="864.3" cy="205.7" r="2.6"/>
<circle cx="868.9" cy="213.6" r="2.6"/>
<circle cx="843.4" cy="196.6" r="2.6"/>
<circle cx="839.3" cy="191.1" r="2.6"/>
<circle cx="924.2" cy="205.1" r="2.6"/>
<circle cx="843.5" cy="202.7" r="2.6"/>
<circle cx="883" cy="193.1" r="2.6"/>
<circle cx="942.6" cy="216.3" r="2.6"/>
<circle cx="839.7" cy="238.1" r="2.6"/>
<circle cx="870.4" cy="170.2" r="2.6"/>
<circle cx="893.1" cy="221.2" r="2.6"/>
<circle cx="856.4" cy="209" r="2.6"/>
<circle cx="849.2" cy="216.2" r="2.6"/>
<circle cx="875.2" cy="204.4" r="2.6"/>
<circle cx="892.6" cy="178.9" r="2.6"/>
<circle cx="880.5" cy="189.1" r="2.6"/>
<circle cx="885.4" cy="164.9" r="2.6"/>
<circle cx="833.8" cy="225.3" r="2.6"/>
<circle cx="875.4" cy="240" r="2.6"/>
<circle cx="760.4" cy="178.9" r="2.6"/>
<circle cx="807.4" cy="230.1" r="2.6"/>
<circle cx="871.6" cy="190" r="2.6"/>
<circle cx="913.8" cy="203.9" r="2.6"/>
<circle cx="886.7" cy="211" r="2.6"/>
<circle cx="850.8" cy="222.6" r="2.6"/>
<circle cx="857" cy="215.2" r="2.6"/>
<circle cx="854.2" cy="212.6" r="2.6"/>
<circle cx="821.6" cy="239.2" r="2.6"/>
<circle cx="853.3" cy="223.2" r="2.6"/>
<circle cx="856.8" cy="193" r="2.6"/>
<circle cx="839.8" cy="206.2" r="2.6"/>
<circle cx="853.3" cy="271" r="2.6"/>
<circle cx="878.3" cy="206.3" r="2.6"/>
<circle cx="856.2" cy="198.5" r="2.6"/>
<circle cx="868" cy="207.8" r="2.6"/>
<circle cx="838" cy="218.2" r="2.6"/>
<circle cx="848" cy="212.2" r="2.6"/>
<circle cx="888.5" cy="188.6" r="2.6"/>
<circle cx="824.2" cy="206.6" r="2.6"/>
<circle cx="868" cy="193.2" r="2.6"/>
<circle cx="890" cy="175.4" r="2.6"/>
<circle cx="852.9" cy="231.4" r="2.6"/>
<circle cx="890.3" cy="187.6" r="2.6"/>
<circle cx="864" cy="164.8" r="2.6"/>
<circle cx="836.2" cy="157.9" r="2.6"/>
<circle cx="909.2" cy="197.9" r="2.6"/>
<circle cx="844.9" cy="243.6" r="2.6"/>
<circle cx="867.7" cy="225.8" r="2.6"/>
<circle cx="849.3" cy="239.1" r="2.6"/>
<circle cx="887.4" cy="174.8" r="2.6"/>
<circle cx="842.8" cy="195.1" r="2.6"/>
<circle cx="839.3" cy="252.4" r="2.6"/>
<circle cx="846.4" cy="195.9" r="2.6"/>
<circle cx="864.4" cy="201.4" r="2.6"/>
<circle cx="907.9" cy="232.4" r="2.6"/>
<circle cx="831.8" cy="198.2" r="2.6"/>
<circle cx="850.3" cy="243.6" r="2.6"/>
<circle cx="868.4" cy="239" r="2.6"/>
<circle cx="875.4" cy="211.6" r="2.6"/>
<circle cx="865.6" cy="221.9" r="2.6"/>
<circle cx="839.7" cy="241.8" r="2.6"/>
<circle cx="830.5" cy="212.2" r="2.6"/>
<circle cx="872.8" cy="218.8" r="2.6"/>
<circle cx="870" cy="198.1" r="2.6"/>
<circle cx="836.2" cy="195.2" r="2.6"/>
<circle cx="888.4" cy="153.9" r="2.6"/>
<circle cx="873.5" cy="227.3" r="2.6"/>
<circle cx="859.8" cy="177.6" r="2.6"/>
<circle cx="898.2" cy="179.5" r="2.6"/>
<circle cx="869.3" cy="192.8" r="2.6"/>
<circle cx="822.9" cy="201.1" r="2.6"/>
<circle cx="823.9" cy="194.6" r="2.6"/>
<circle cx="866.7" cy="210.5" r="2.6"/>
<circle cx="834.9" cy="221.5" r="2.6"/>
<circle cx="841.6" cy="247.6" r="2.6"/>
<circle cx="815.5" cy="207.9" r="2.6"/>
<circle cx="823.3" cy="206.5" r="2.6"/>
<circle cx="844.5" cy="232" r="2.6"/>
<circle cx="850.7" cy="140.2" r="2.6"/>
<circle cx="829.1" cy="216.8" r="2.6"/>
<circle cx="857.4" cy="239" r="2.6"/>
<circle cx="891.4" cy="178.8" r="2.6"/>
<circle cx="855.1" cy="168.6" r="2.6"/>
<circle cx="805.3" cy="215.3" r="2.6"/>
<circle cx="890.4" cy="193.3" r="2.6"/>
<circle cx="862.4" cy="202.6" r="2.6"/>
<circle cx="885.9" cy="168.9" r="2.6"/>
<circle cx="877.9" cy="247.5" r="2.6"/>
<circle cx="871.4" cy="183.1" r="2.6"/>
<circle cx="877.6" cy="168.1" r="2.6"/>
<circle cx="891" cy="201.5" r="2.6"/>
<circle cx="839.2" cy="245.4" r="2.6"/>
<circle cx="876.8" cy="198.9" r="2.6"/>
<circle cx="886.7" cy="196.4" r="2.6"/>
<circle cx="886.4" cy="221.8" r="2.6"/>
<circle cx="876.6" cy="213.3" r="2.6"/>
<circle cx="861.5" cy="230.1" r="2.6"/>
<circle cx="856.1" cy="262.7" r="2.6"/>
<circle cx="843.3" cy="176.9" r="2.6"/>
<circle cx="885.7" cy="180.3" r="2.6"/>
<circle cx="856.8" cy="173.8" r="2.6"/>
<circle cx="858.8" cy="196" r="2.6"/>
<circle cx="821.8" cy="233" r="2.6"/>
<circle cx="843.6" cy="243.8" r="2.6"/>
<circle cx="839.1" cy="243.5" r="2.6"/>
<circle cx="835.6" cy="222.2" r="2.6"/>
<circle cx="834.9" cy="203.7" r="2.6"/>
<circle cx="852.8" cy="219.5" r="2.6"/>
<circle cx="861.5" cy="144.9" r="2.6"/>
<circle cx="848.8" cy="231.2" r="2.6"/>
<circle cx="880.6" cy="229.3" r="2.6"/>
<circle cx="844.5" cy="241.7" r="2.6"/>
<circle cx="873.6" cy="208.6" r="2.6"/>
<circle cx="861.3" cy="200.4" r="2.6"/>
<circle cx="842.8" cy="225.8" r="2.6"/>
<circle cx="866" cy="185.9" r="2.6"/>
<circle cx="863.4" cy="224.7" r="2.6"/>
<circle cx="818.7" cy="194.3" r="2.6"/>
<circle cx="890" cy="193.7" r="2.6"/>
<circle cx="836.5" cy="184.3" r="2.6"/>
<circle cx="854.3" cy="229.3" r="2.6"/>
<circle cx="830.5" cy="255.7" r="2.6"/>
<circle cx="831.9" cy="228.2" r="2.6"/>
<circle cx="853.4" cy="200.4" r="2.6"/>
<circle cx="862.2" cy="213.6" r="2.6"/>
<circle cx="761.8" cy="211.8" r="2.6"/>
<circle cx="837" cy="247.4" r="2.6"/>
<circle cx="864.8" cy="178.2" r="2.6"/>
<circle cx="856" cy="192.3" r="2.6"/>
<circle cx="922.2" cy="191.2" r="2.6"/>
<circle cx="880.2" cy="236.8" r="2.6"/>
<circle cx="885.1" cy="180.2" r="2.6"/>
<circle cx="904.1" cy="213.2" r="2.6"/>
<circle cx="868.9" cy="197.8" r="2.6"/>
<circle cx="885.1" cy="184.7" r="2.6"/>
<circle cx="860.6" cy="187.1" r="2.6"/>
<circle cx="892.5" cy="199.7" r="2.6"/>
<circle cx="866.8" cy="169.2" r="2.6"/>
<circle cx="891.9" cy="180.4" r="2.6"/>
<circle cx="854.1" cy="240.8" r="2.6"/>
<circle cx="833.9" cy="218.8" r="2.6"/>
<circle cx="848.3" cy="231" r="2.6"/>
<circle cx="865.9" cy="216.5" r="2.6"/>
<circle cx="831.1" cy="199.5" r="2.6"/>
<circle cx="853.5" cy="143" r="2.6"/>
<circle cx="924.2" cy="204.7" r="2.6"/>
<circle cx="859.2" cy="198.2" r="2.6"/>
<circle cx="848.1" cy="159.7" r="2.6"/>
<circle cx="853" cy="189.8" r="2.6"/>
<circle cx="844.1" cy="205.2" r="2.6"/>
<circle cx="865.7" cy="217.7" r="2.6"/>
<circle cx="847.3" cy="241" r="2.6"/>
<circle cx="895.2" cy="202.5" r="2.6"/>
<circle cx="866.7" cy="178.4" r="2.6"/>
<circle cx="857.1" cy="232.6" r="2.6"/>
<circle cx="840.2" cy="224.9" r="2.6"/>
<circle cx="894.3" cy="225.3" r="2.6"/>
<circle cx="778.4" cy="205.6" r="2.6"/>
<circle cx="835.6" cy="188.3" r="2.6"/>
<circle cx="869.8" cy="186.2" r="2.6"/>
<circle cx="854.9" cy="206" r="2.6"/>
<circle cx="834.2" cy="246.6" r="2.6"/>
<circle cx="844.2" cy="229.3" r="2.6"/>
<circle cx="911.1" cy="191.3" r="2.6"/>
<circle cx="887.5" cy="193.6" r="2.6"/>
<circle cx="881.7" cy="238.1" r="2.6"/>
<circle cx="906.3" cy="211.2" r="2.6"/>
<circle cx="837.5" cy="227.9" r="2.6"/>
<circle cx="862.3" cy="200.3" r="2.6"/>
<circle cx="888.3" cy="204" r="2.6"/>
<circle cx="840.5" cy="228.8" r="2.6"/>
<circle cx="832.6" cy="274" r="2.6"/>
<circle cx="853.1" cy="228.7" r="2.6"/>
<circle cx="802.2" cy="216.4" r="2.6"/>
<circle cx="867.3" cy="186.3" r="2.6"/>
<circle cx="913.1" cy="211.5" r="2.6"/>
<circle cx="864.3" cy="209.2" r="2.6"/>
<circle cx="864.6" cy="216.8" r="2.6"/>
<circle cx="880.1" cy="211" r="2.6"/>
<circle cx="916.9" cy="202.3" r="2.6"/>
<circle cx="833.8" cy="208.9" r="2.6"/>
<circle cx="862.3" cy="190" r="2.6"/>
<circle cx="844.5" cy="185.3" r="2.6"/>
<circle cx="875.2" cy="188.8" r="2.6"/>
<circle cx="884.5" cy="203.8" r="2.6"/>
<circle cx="866.4" cy="186.3" r="2.6"/>
<circle cx="853.5" cy="230.4" r="2.6"/>
<circle cx="830.7" cy="195.4" r="2.6"/>
<circle cx="874.5" cy="234" r="2.6"/>
<circle cx="889.2" cy="177.4" r="2.6"/>
<circle cx="905.1" cy="199.5" r="2.6"/>
<circle cx="896.4" cy="176.4" r="2.6"/>
<circle cx="890" cy="223.4" r="2.6"/>
<circle cx="813.8" cy="208.7" r="2.6"/>
<circle cx="847.1" cy="251.6" r="2.6"/>
<circle cx="856.1" cy="223.1" r="2.6"/>
<circle cx="897.7" cy="206.4" r="2.6"/>
<circle cx="898.9" cy="210.7" r="2.6"/>
<circle cx="924.4" cy="221.4" r="2.6"/>
<circle cx="878" cy="229.2" r="2.6"/>
<circle cx="831.1" cy="186.9" r="2.6"/>
<circle cx="862.9" cy="166.1" r="2.6"/>
<circle cx="831.1" cy="206.7" r="2.6"/>
<circle cx="839.6" cy="221.2" r="2.6"/>
<circle cx="854.5" cy="229" r="2.6"/>
<circle cx="843.1" cy="191.7" r="2.6"/>
<circle cx="866.2" cy="196.4" r="2.6"/>
<circle cx="942.1" cy="207" r="2.6"/>
<circle cx="871.6" cy="226.5" r="2.6"/>
<circle cx="899.5" cy="153.7" r="2.6"/>
<circle cx="840.7" cy="243.1" r="2.6"/>
<circle cx="864.7" cy="164" r="2.6"/>
<circle cx="888.4" cy="131" r="2.6"/>
<circle cx="830.3" cy="198.2" r="2.6"/>
<circle cx="861.9" cy="232.8" r="2.6"/>
<circle cx="857.7" cy="181" r="2.6"/>
<circle cx="891.5" cy="200.9" r="2.6"/>
<circle cx="878.8" cy="208.8" r="2.6"/>
<circle cx="889.4" cy="196.4" r="2.6"/>
<circle cx="894.8" cy="208.6" r="2.6"/>
<circle cx="824" cy="210.8" r="2.6"/>
<circle cx="829.7" cy="169.3" r="2.6"/>
<circle cx="798.3" cy="221.1" r="2.6"/>
<circle cx="865.5" cy="218" r="2.6"/>
<circle cx="782.3" cy="209.6" r="2.6"/>
<circle cx="833.1" cy="214.1" r="2.6"/>
<circle cx="848.8" cy="220.8" r="2.6"/>
<circle cx="806.2" cy="232.9" r="2.6"/>
<circle cx="852.5" cy="191" r="2.6"/>
<circle cx="813.8" cy="185.9" r="2.6"/>
<circle cx="873.9" cy="167.2" r="2.6"/>
<circle cx="822.7" cy="228.6" r="2.6"/>
<circle cx="881.4" cy="217.7" r="2.6"/>
<circle cx="848.7" cy="153.3" r="2.6"/>
<circle cx="860.8" cy="208.4" r="2.6"/>
<circle cx="857.3" cy="199.5" r="2.6"/>
<circle cx="859.9" cy="212.1" r="2.6"/>
<circle cx="841" cy="231.8" r="2.6"/>
<circle cx="846.3" cy="160.3" r="2.6"/>
<circle cx="871.6" cy="194.9" r="2.6"/>
<circle cx="895.1" cy="241.5" r="2.6"/>
<circle cx="862.4" cy="220.1" r="2.6"/>
<circle cx="903.7" cy="190.2" r="2.6"/>
<circle cx="830.2" cy="197.6" r="2.6"/>
<circle cx="888.9" cy="201" r="2.6"/>
<circle cx="839.2" cy="185.2" r="2.6"/>
<circle cx="877.4" cy="226.3" r="2.6"/>
<circle cx="892.2" cy="210.5" r="2.6"/>
<circle cx="872.4" cy="201.7" r="2.6"/>
<circle cx="866.5" cy="189.7" r="2.6"/>
<circle cx="873.2" cy="185.4" r="2.6"/>
<circle cx="816.5" cy="174.4" r="2.6"/>
<circle cx="846.6" cy="177.6" r="2.6"/>
<circle cx="849.6" cy="209.7" r="2.6"/>
<circle cx="843.1" cy="173.2" r="2.6"/>
<circle cx="854.3" cy="230" r="2.6"/>
<circle cx="870.6" cy="226.8" r="2.6"/>
<circle cx="868.4" cy="186.2" r="2.6"/>
<circle cx="866.3" cy="250.6" r="2.6"/>
<circle cx="879.2" cy="200.3" r="2.6"/>
<circle cx="845.1" cy="232.4" r="2.6"/>
<circle cx="956.1" cy="201.1" r="2.6"/>
<circle cx="878.6" cy="203.1" r="2.6"/>
<circle cx="883.7" cy="180.9" r="2.6"/>
<circle cx="790.7" cy="220.6" r="2.6"/>
<circle cx="848.2" cy="266.6" r="2.6"/>
<circle cx="858.3" cy="203.7" r="2.6"/>
<circle cx="838.2" cy="225.6" r="2.6"/>
<circle cx="913.6" cy="252.4" r="2.6"/>
<circle cx="884.9" cy="216.3" r="2.6"/>
<circle cx="851.1" cy="196.7" r="2.6"/>
<circle cx="858.5" cy="198.1" r="2.6"/>
<circle cx="854.4" cy="187" r="2.6"/>
<circle cx="863.1" cy="186" r="2.6"/>
<circle cx="830.5" cy="203.2" r="2.6"/>
<circle cx="867.2" cy="192.1" r="2.6"/>
<circle cx="826.9" cy="184.6" r="2.6"/>
<circle cx="888.5" cy="225.4" r="2.6"/>
<circle cx="854" cy="244.7" r="2.6"/>
<circle cx="868.7" cy="255.6" r="2.6"/>
<circle cx="853.7" cy="206.1" r="2.6"/>
<circle cx="870.7" cy="210.7" r="2.6"/>
<circle cx="831.4" cy="223.3" r="2.6"/>
<circle cx="787.8" cy="206.1" r="2.6"/>
<circle cx="846.1" cy="198.2" r="2.6"/>
<circle cx="874.8" cy="190.2" r="2.6"/>
<circle cx="843" cy="214.7" r="2.6"/>
<circle cx="804.6" cy="224.8" r="2.6"/>
<circle cx="851.6" cy="218.6" r="2.6"/>
<circle cx="891.2" cy="223" r="2.6"/>
<circle cx="857.4" cy="194.3" r="2.6"/>
<circle cx="830.6" cy="222.7" r="2.6"/>
<circle cx="808" cy="214.8" r="2.6"/>
<circle cx="890.8" cy="205.3" r="2.6"/>
<circle cx="816.5" cy="226.6" r="2.6"/>
<circle cx="908.6" cy="229.1" r="2.6"/>
<circle cx="843.7" cy="215.9" r="2.6"/>
<circle cx="916.2" cy="189.7" r="2.6"/>
<circle cx="868.4" cy="228.1" r="2.6"/>
<circle cx="852.3" cy="216.2" r="2.6"/>
<circle cx="834.1" cy="215.9" r="2.6"/>
<circle cx="847.9" cy="202.6" r="2.6"/>
<circle cx="824.6" cy="207.9" r="2.6"/>
<circle cx="858.2" cy="225.3" r="2.6"/>
<circle cx="910.9" cy="209.3" r="2.6"/>
<circle cx="871.8" cy="211.6" r="2.6"/>
<circle cx="862.7" cy="225.2" r="2.6"/>
<circle cx="835" cy="213.3" r="2.6"/>
<circle cx="832.8" cy="234.6" r="2.6"/>
<circle cx="841.7" cy="259.9" r="2.6"/>
<circle cx="785.3" cy="214.8" r="2.6"/>
<circle cx="798.8" cy="201.2" r="2.6"/>
<circle cx="911.3" cy="215.9" r="2.6"/>
<circle cx="879.1" cy="208.2" r="2.6"/>
<circle cx="906.7" cy="199.3" r="2.6"/>
<circle cx="889.9" cy="206.4" r="2.6"/>
<circle cx="866" cy="200.1" r="2.6"/>
<circle cx="851.9" cy="227.9" r="2.6"/>
<circle cx="829.1" cy="199.1" r="2.6"/>
<circle cx="823.6" cy="290.6" r="2.6"/>
<circle cx="846.4" cy="237.1" r="2.6"/>
<circle cx="909.5" cy="190.4" r="2.6"/>
<circle cx="869" cy="218.6" r="2.6"/>
<circle cx="887" cy="227.4" r="2.6"/>
<circle cx="880" cy="213.8" r="2.6"/>
<circle cx="888.5" cy="157.9" r="2.6"/>
<circle cx="873.6" cy="241.7" r="2.6"/>
<circle cx="808.5" cy="195.7" r="2.6"/>
<circle cx="813.6" cy="205.7" r="2.6"/>
<circle cx="863.6" cy="215.9" r="2.6"/>
<circle cx="846.6" cy="198.5" r="2.6"/>
<circle cx="858.8" cy="219.9" r="2.6"/>
<circle cx="855.8" cy="158.4" r="2.6"/>
<circle cx="843.6" cy="146.9" r="2.6"/>
<circle cx="843.9" cy="159.5" r="2.6"/>
<circle cx="837.6" cy="194.1" r="2.6"/>
<circle cx="889.1" cy="194.7" r="2.6"/>
<circle cx="884.6" cy="198.3" r="2.6"/>
<circle cx="855.8" cy="217.9" r="2.6"/>
<circle cx="894.5" cy="159.3" r="2.6"/>
<circle cx="920.1" cy="213.2" r="2.6"/>
<circle cx="906.9" cy="197.3" r="2.6"/>
<circle cx="847.5" cy="192.7" r="2.6"/>
<circle cx="870.5" cy="180.8" r="2.6"/>
<circle cx="857.5" cy="225.4" r="2.6"/>
<circle cx="854.6" cy="182.1" r="2.6"/>
<circle cx="830.7" cy="209.3" r="2.6"/>
<circle cx="894.6" cy="178.8" r="2.6"/>
<circle cx="819.7" cy="206.4" r="2.6"/>
<circle cx="869.1" cy="197.7" r="2.6"/>
<circle cx="847.4" cy="243.3" r="2.6"/>
<circle cx="885.1" cy="197.3" r="2.6"/>
<circle cx="888.5" cy="216.6" r="2.6"/>
<circle cx="815.6" cy="209.9" r="2.6"/>
<circle cx="857.4" cy="223.8" r="2.6"/>
<circle cx="882" cy="175.9" r="2.6"/>
<circle cx="833.2" cy="228.1" r="2.6"/>
<circle cx="843.4" cy="229.4" r="2.6"/>
<circle cx="914.3" cy="220.7" r="2.6"/>
<circle cx="851.4" cy="217.2" r="2.6"/>
<circle cx="918.7" cy="225.1" r="2.6"/>
<circle cx="869" cy="213.7" r="2.6"/>
<circle cx="858.7" cy="171.8" r="2.6"/>
<circle cx="867.4" cy="238.1" r="2.6"/>
<circle cx="865.8" cy="229.7" r="2.6"/>
<circle cx="860.9" cy="197.2" r="2.6"/>
<circle cx="863.5" cy="187.8" r="2.6"/>
<circle cx="807.6" cy="197.6" r="2.6"/>
<circle cx="853.9" cy="225" r="2.6"/>
<circle cx="916.7" cy="192" r="2.6"/>
<circle cx="878.3" cy="207.6" r="2.6"/>
<circle cx="887.4" cy="193.7" r="2.6"/>
<circle cx="874.4" cy="213.3" r="2.6"/>
<circle cx="863.4" cy="212.9" r="2.6"/>
<circle cx="844.7" cy="227" r="2.6"/>
<circle cx="876.7" cy="188.2" r="2.6"/>
<circle cx="896.5" cy="203" r="2.6"/>
<circle cx="917.2" cy="232" r="2.6"/>
<circle cx="897.6" cy="194" r="2.6"/>
<circle cx="870.5" cy="194.2" r="2.6"/>
<circle cx="839.4" cy="194.5" r="2.6"/>
<circle cx="868.1" cy="209.2" r="2.6"/>
<circle cx="877.1" cy="206.6" r="2.6"/>
<circle cx="836" cy="222.6" r="2.6"/>
<circle cx="842.5" cy="205.3" r="2.6"/>
<circle cx="846.1" cy="251.3" r="2.6"/>
<circle cx="856.9" cy="177.3" r="2.6"/>
<circle cx="866.7" cy="241.3" r="2.6"/>
<circle cx="864.6" cy="214.4" r="2.6"/>
<circle cx="868.9" cy="249.7" r="2.6"/>
<circle cx="868.9" cy="198.1" r="2.6"/>
<circle cx="834.9" cy="248.2" r="2.6"/>
<circle cx="827" cy="222.3" r="2.6"/>
<circle cx="843.2" cy="218.4" r="2.6"/>
<circle cx="839.3" cy="216.8" r="2.6"/>
<circle cx="894.5" cy="222.9" r="2.6"/>
<circle cx="890.1" cy="213.4" r="2.6"/>
<circle cx="862.1" cy="161.1" r="2.6"/>
<circle cx="918.5" cy="215.3" r="2.6"/>
<circle cx="827.8" cy="263.1" r="2.6"/>
<circle cx="887.5" cy="228.5" r="2.6"/>
<circle cx="844.9" cy="203.5" r="2.6"/>
<circle cx="835.7" cy="224.3" r="2.6"/>
<circle cx="866.5" cy="205.6" r="2.6"/>
<circle cx="876.1" cy="210.6" r="2.6"/>
<circle cx="833.2" cy="241.6" r="2.6"/>
<circle cx="848.5" cy="201.5" r="2.6"/>
<circle cx="866.2" cy="198.4" r="2.6"/>
<circle cx="859.4" cy="219.8" r="2.6"/>
<circle cx="849" cy="231.6" r="2.6"/>
<circle cx="838.3" cy="208" r="2.6"/>
<circle cx="837.5" cy="217" r="2.6"/>
<circle cx="793.6" cy="215.3" r="2.6"/>
<circle cx="883.5" cy="251.3" r="2.6"/>
<circle cx="851.6" cy="220.7" r="2.6"/>
<circle cx="853.4" cy="206.3" r="2.6"/>
<circle cx="909.9" cy="203.2" r="2.6"/>
<circle cx="872.3" cy="201.4" r="2.6"/>
<circle cx="803.9" cy="208.1" r="2.6"/>
<circle cx="827.9" cy="205.5" r="2.6"/>
<circle cx="872" cy="191.3" r="2.6"/>
<circle cx="891.2" cy="198.9" r="2.6"/>
<circle cx="857.9" cy="174" r="2.6"/>
<circle cx="886.7" cy="179" r="2.6"/>
<circle cx="853.5" cy="228.1" r="2.6"/>
<circle cx="922.9" cy="201" r="2.6"/>
<circle cx="857.8" cy="174.7" r="2.6"/>
<circle cx="821.4" cy="286.9" r="2.6"/>
<circle cx="845.2" cy="255.2" r="2.6"/>
<circle cx="880.6" cy="240.9" r="2.6"/>
<circle cx="864.3" cy="240.6" r="2.6"/>
<circle cx="825.3" cy="226.8" r="2.6"/>
<circle cx="820.2" cy="183.4" r="2.6"/>
<circle cx="922.9" cy="205.5" r="2.6"/>
<circle cx="891.7" cy="173.9" r="2.6"/>
<circle cx="870.2" cy="209.9" r="2.6"/>
<circle cx="868.7" cy="223.1" r="2.6"/>
<circle cx="848" cy="231" r="2.6"/>
<circle cx="861.3" cy="176.8" r="2.6"/>
<circle cx="881.6" cy="239.6" r="2.6"/>
<circle cx="818.8" cy="182.7" r="2.6"/>
<circle cx="824.2" cy="218.9" r="2.6"/>
<circle cx="850.1" cy="201.4" r="2.6"/>
<circle cx="845.1" cy="202.5" r="2.6"/>
<circle cx="889.6" cy="191.3" r="2.6"/>
<circle cx="870.9" cy="232.1" r="2.6"/>
<circle cx="872.3" cy="223.3" r="2.6"/>
<circle cx="867.1" cy="142.9" r="2.6"/>
<circle cx="859.2" cy="213.9" r="2.6"/>
<circle cx="904.4" cy="197.2" r="2.6"/>
<circle cx="863.8" cy="182.6" r="2.6"/>
<circle cx="877.6" cy="204.1" r="2.6"/>
<circle cx="864" cy="195.7" r="2.6"/>
<circle cx="822.5" cy="218.6" r="2.6"/>
<circle cx="865.3" cy="209" r="2.6"/>
<circle cx="859.8" cy="191.5" r="2.6"/>
<circle cx="854.6" cy="159.5" r="2.6"/>
<circle cx="819.5" cy="180.1" r="2.6"/>
<circle cx="871.9" cy="196.3" r="2.6"/>
<circle cx="824.2" cy="215.4" r="2.6"/>
<circle cx="854.1" cy="207.6" r="2.6"/>
<circle cx="894.5" cy="211.9" r="2.6"/>
<circle cx="981.9" cy="196.5" r="2.6"/>
<circle cx="787.4" cy="209.9" r="2.6"/>
<circle cx="851.4" cy="198.6" r="2.6"/>
<circle cx="892.8" cy="240.6" r="2.6"/>
<circle cx="890.4" cy="164.6" r="2.6"/>
<circle cx="865.7" cy="195" r="2.6"/>
<circle cx="858.4" cy="201.7" r="2.6"/>
<circle cx="896.3" cy="214.9" r="2.6"/>
<circle cx="858.6" cy="219.8" r="2.6"/>
<circle cx="867.8" cy="187.6" r="2.6"/>
<circle cx="880.1" cy="193.5" r="2.6"/>
<circle cx="879" cy="219.8" r="2.6"/>
<circle cx="908" cy="207.8" r="2.6"/>
<circle cx="833.4" cy="222.4" r="2.6"/>
<circle cx="837.7" cy="226.2" r="2.6"/>
<circle cx="809" cy="181.7" r="2.6"/>
<circle cx="828.1" cy="227.2" r="2.6"/>
<circle cx="828.2" cy="214.4" r="2.6"/>
<circle cx="819.4" cy="243.7" r="2.6"/>
<circle cx="840.4" cy="219.6" r="2.6"/>
<circle cx="861.4" cy="199.8" r="2.6"/>
<circle cx="843.3" cy="238.1" r="2.6"/>
<circle cx="907.2" cy="221.6" r="2.6"/>
<circle cx="853.2" cy="195.9" r="2.6"/>
<circle cx="830.1" cy="198.6" r="2.6"/>
<circle cx="903.3" cy="209.4" r="2.6"/>
<circle cx="880.5" cy="162.1" r="2.6"/>
<circle cx="826.9" cy="194.6" r="2.6"/>
<circle cx="922.7" cy="201.1" r="2.6"/>
<circle cx="801.2" cy="205" r="2.6"/>
<circle cx="861.9" cy="241.1" r="2.6"/>
<circle cx="841.3" cy="224.3" r="2.6"/>
<circle cx="855.7" cy="169.9" r="2.6"/>
<circle cx="887.9" cy="238.6" r="2.6"/>
<circle cx="864.3" cy="174.8" r="2.6"/>
<circle cx="855.2" cy="228.8" r="2.6"/>
<circle cx="856.2" cy="227.4" r="2.6"/>
<circle cx="885.2" cy="213.4" r="2.6"/>
<circle cx="879.3" cy="162.1" r="2.6"/>
<circle cx="928.6" cy="203.8" r="2.6"/>
<circle cx="860.3" cy="197.9" r="2.6"/>
<circle cx="859.6" cy="195.5" r="2.6"/>
<circle cx="858.7" cy="196.5" r="2.6"/>
<circle cx="845.6" cy="202.1" r="2.6"/>
<circle cx="858.4" cy="196.9" r="2.6"/>
<circle cx="908.3" cy="207" r="2.6"/>
<circle cx="845.4" cy="207" r="2.6"/>
<circle cx="933.6" cy="204.2" r="2.6"/>
<circle cx="859.3" cy="220.3" r="2.6"/>
<circle cx="830.8" cy="236.7" r="2.6"/>
<circle cx="867.9" cy="171.8" r="2.6"/>
<circle cx="856.3" cy="230.1" r="2.6"/>
<circle cx="878.4" cy="199.7" r="2.6"/>
<circle cx="826.8" cy="232.3" r="2.6"/>
<circle cx="852.9" cy="190.6" r="2.6"/>
<circle cx="867.4" cy="195.6" r="2.6"/>
<circle cx="861.2" cy="209.3" r="2.6"/>
<circle cx="864.7" cy="219.6" r="2.6"/>
<circle cx="861.4" cy="168.6" r="2.6"/>
<circle cx="831.8" cy="224.6" r="2.6"/>
<circle cx="819.2" cy="230.5" r="2.6"/>
<circle cx="872.7" cy="218.5" r="2.6"/>
<circle cx="860.6" cy="195.3" r="2.6"/>
<circle cx="861.1" cy="196.9" r="2.6"/>
<circle cx="861.6" cy="212.2" r="2.6"/>
<circle cx="931.7" cy="197.9" r="2.6"/>
<circle cx="824" cy="234.4" r="2.6"/>
<circle cx="888" cy="152.4" r="2.6"/>
<circle cx="873.1" cy="234.8" r="2.6"/>
<circle cx="825.8" cy="217.6" r="2.6"/>
<circle cx="823.4" cy="173" r="2.6"/>
<circle cx="906.3" cy="218.1" r="2.6"/>
<circle cx="878.7" cy="243.3" r="2.6"/>
<circle cx="846.4" cy="189.2" r="2.6"/>
<circle cx="806.9" cy="211.6" r="2.6"/>
<circle cx="866.1" cy="191.4" r="2.6"/>
<circle cx="853.7" cy="191.4" r="2.6"/>
<circle cx="866.7" cy="181.3" r="2.6"/>
<circle cx="860" cy="148.6" r="2.6"/>
<circle cx="853" cy="204.4" r="2.6"/>
<circle cx="883.4" cy="181.5" r="2.6"/>
<circle cx="873.6" cy="235.1" r="2.6"/>
<circle cx="807.8" cy="175.7" r="2.6"/>
<circle cx="831.9" cy="222.1" r="2.6"/>
<circle cx="833.3" cy="222.3" r="2.6"/>
<circle cx="831.6" cy="211.8" r="2.6"/>
<circle cx="869.6" cy="179.8" r="2.6"/>
<circle cx="852" cy="166.1" r="2.6"/>
<circle cx="900.4" cy="183.4" r="2.6"/>
<circle cx="863" cy="187.1" r="2.6"/>
<circle cx="845.2" cy="252" r="2.6"/>
<circle cx="866.5" cy="205.5" r="2.6"/>
<circle cx="820.3" cy="186" r="2.6"/>
<circle cx="841.7" cy="226.3" r="2.6"/>
<circle cx="875.7" cy="218.9" r="2.6"/>
<circle cx="819.2" cy="258" r="2.6"/>
<circle cx="858.9" cy="246.2" r="2.6"/>
<circle cx="870.6" cy="179.3" r="2.6"/>
<circle cx="858.8" cy="215.1" r="2.6"/>
<circle cx="859.8" cy="192.8" r="2.6"/>
<circle cx="850" cy="226.6" r="2.6"/>
<circle cx="859.9" cy="234.8" r="2.6"/>
<circle cx="861.6" cy="188.9" r="2.6"/>
<circle cx="785" cy="204.5" r="2.6"/>
<circle cx="882.4" cy="181.1" r="2.6"/>
<circle cx="833.8" cy="230.2" r="2.6"/>
<circle cx="868.2" cy="211.6" r="2.6"/>
<circle cx="818.6" cy="206.2" r="2.6"/>
<circle cx="795" cy="225.6" r="2.6"/>
<circle cx="842.2" cy="237" r="2.6"/>
<circle cx="858.6" cy="202.3" r="2.6"/>
<circle cx="893.1" cy="164.3" r="2.6"/>
<circle cx="791.5" cy="208.1" r="2.6"/>
<circle cx="871.8" cy="238.8" r="2.6"/>
<circle cx="851" cy="224.7" r="2.6"/>
<circle cx="876.7" cy="278.5" r="2.6"/>
<circle cx="848.2" cy="199.2" r="2.6"/>
<circle cx="871.6" cy="213" r="2.6"/>
<circle cx="834.8" cy="270.7" r="2.6"/>
<circle cx="858.1" cy="201.5" r="2.6"/>
<circle cx="892" cy="234.1" r="2.6"/>
<circle cx="919.9" cy="186.3" r="2.6"/>
<circle cx="889.1" cy="182.6" r="2.6"/>
<circle cx="837.5" cy="190.3" r="2.6"/>
<circle cx="829" cy="237.7" r="2.6"/>
<circle cx="835.5" cy="232.4" r="2.6"/>
<circle cx="896.7" cy="178.4" r="2.6"/>
<circle cx="833.9" cy="213.6" r="2.6"/>
<circle cx="881.5" cy="171.9" r="2.6"/>
<circle cx="892.1" cy="217.5" r="2.6"/>
<circle cx="886.5" cy="189.9" r="2.6"/>
<circle cx="881.9" cy="219.3" r="2.6"/>
<circle cx="857.4" cy="216" r="2.6"/>
<circle cx="809.9" cy="205.3" r="2.6"/>
<circle cx="847.1" cy="217.3" r="2.6"/>
<circle cx="884.3" cy="193.5" r="2.6"/>
<circle cx="882.9" cy="219.8" r="2.6"/>
<circle cx="833.9" cy="234.7" r="2.6"/>
<circle cx="860.5" cy="229.7" r="2.6"/>
<circle cx="855.4" cy="245.6" r="2.6"/>
<circle cx="856.8" cy="207.5" r="2.6"/>
<circle cx="883.2" cy="190.5" r="2.6"/>
<circle cx="856.9" cy="254.2" r="2.6"/>
<circle cx="864.4" cy="241" r="2.6"/>
<circle cx="840.5" cy="220.9" r="2.6"/>
<circle cx="870.9" cy="182.6" r="2.6"/>
<circle cx="829.3" cy="180.1" r="2.6"/>
<circle cx="841.2" cy="220.3" r="2.6"/>
<circle cx="838.3" cy="171.9" r="2.6"/>
<circle cx="847.9" cy="197.8" r="2.6"/>
<circle cx="831.5" cy="226.6" r="2.6"/>
<circle cx="870.8" cy="199.2" r="2.6"/>
<circle cx="883" cy="175.4" r="2.6"/>
<circle cx="813.3" cy="232.6" r="2.6"/>
<circle cx="876.4" cy="223" r="2.6"/>
<circle cx="846" cy="227.9" r="2.6"/>
<circle cx="838.3" cy="236.8" r="2.6"/>
<circle cx="875.8" cy="197.5" r="2.6"/>
<circle cx="819.6" cy="215.9" r="2.6"/>
<circle cx="850.5" cy="210" r="2.6"/>
<circle cx="837.1" cy="215.1" r="2.6"/>
<circle cx="870.6" cy="211.4" r="2.6"/>
<circle cx="854.8" cy="188.3" r="2.6"/>
<circle cx="831.7" cy="190.9" r="2.6"/>
<circle cx="871.8" cy="205.8" r="2.6"/>
<circle cx="861.3" cy="258.7" r="2.6"/>
<circle cx="822.6" cy="236.6" r="2.6"/>
<circle cx="866" cy="171.3" r="2.6"/>
<circle cx="842.3" cy="215.9" r="2.6"/>
<circle cx="837.3" cy="214.1" r="2.6"/>
<circle cx="878.1" cy="204.5" r="2.6"/>
<circle cx="822.5" cy="235.7" r="2.6"/>
<circle cx="862.2" cy="194.3" r="2.6"/>
<circle cx="850.2" cy="254.8" r="2.6"/>
<circle cx="852.6" cy="219.1" r="2.6"/>
<circle cx="826.5" cy="200.2" r="2.6"/>
<circle cx="838.9" cy="216.5" r="2.6"/>
<circle cx="836.1" cy="223" r="2.6"/>
<circle cx="844.4" cy="198.8" r="2.6"/>
<circle cx="857.6" cy="200.8" r="2.6"/>
<circle cx="839.1" cy="207.7" r="2.6"/>
<circle cx="881.7" cy="177.1" r="2.6"/>
<circle cx="832.2" cy="217.6" r="2.6"/>
<circle cx="872.1" cy="188.8" r="2.6"/>
<circle cx="874" cy="187.4" r="2.6"/>
<circle cx="893.7" cy="193.5" r="2.6"/>
<circle cx="887.7" cy="182.8" r="2.6"/>
<circle cx="876.1" cy="228.5" r="2.6"/>
<circle cx="835.1" cy="208.7" r="2.6"/>
<circle cx="858" cy="163.7" r="2.6"/>
<circle cx="894.6" cy="155.7" r="2.6"/>
<circle cx="882.9" cy="254.4" r="2.6"/>
<circle cx="868.9" cy="220.6" r="2.6"/>
<circle cx="852.2" cy="197.4" r="2.6"/>
<circle cx="880" cy="171.9" r="2.6"/>
<circle cx="839.7" cy="230.5" r="2.6"/>
<circle cx="789.6" cy="214.3" r="2.6"/>
<circle cx="864.1" cy="248.2" r="2.6"/>
<circle cx="865.3" cy="222.8" r="2.6"/>
<circle cx="846.1" cy="199.7" r="2.6"/>
<circle cx="906" cy="194.3" r="2.6"/>
<circle cx="859.8" cy="202.6" r="2.6"/>
<circle cx="873.1" cy="191.2" r="2.6"/>
<circle cx="913.9" cy="225.1" r="2.6"/>
<circle cx="855" cy="182.8" r="2.6"/>
<circle cx="818.9" cy="184.9" r="2.6"/>
<circle cx="868.4" cy="211.9" r="2.6"/>
<circle cx="857.4" cy="223.3" r="2.6"/>
<circle cx="871.5" cy="229.1" r="2.6"/>
<circle cx="838.5" cy="208.9" r="2.6"/>
<circle cx="877.9" cy="191.6" r="2.6"/>
<circle cx="880.1" cy="170.4" r="2.6"/>
<circle cx="889" cy="198.8" r="2.6"/>
<circle cx="829.8" cy="214.8" r="2.6"/>
<circle cx="874.6" cy="181" r="2.6"/>
<circle cx="873" cy="179.3" r="2.6"/>
<circle cx="875" cy="209.2" r="2.6"/>
<circle cx="846.9" cy="180.9" r="2.6"/>
<circle cx="883.4" cy="240.4" r="2.6"/>
<circle cx="814.2" cy="230.7" r="2.6"/>
<circle cx="857.7" cy="214" r="2.6"/>
<circle cx="850" cy="215.5" r="2.6"/>
<circle cx="917.4" cy="217" r="2.6"/>
<circle cx="894.2" cy="188.5" r="2.6"/>
<circle cx="853.5" cy="219.4" r="2.6"/>
<circle cx="849.7" cy="246" r="2.6"/>
<circle cx="884.4" cy="199.9" r="2.6"/>
<circle cx="895" cy="160.1" r="2.6"/>
<circle cx="858" cy="204.1" r="2.6"/>
<circle cx="860.3" cy="248.3" r="2.6"/>
<circle cx="887" cy="160.9" r="2.6"/>
<circle cx="862.9" cy="249.1" r="2.6"/>
<circle cx="855.2" cy="208.9" r="2.6"/>
<circle cx="859.1" cy="205.5" r="2.6"/>
<circle cx="889" cy="218.1" r="2.6"/>
<circle cx="863.5" cy="191.8" r="2.6"/>
<circle cx="882.9" cy="191" r="2.6"/>
<circle cx="892.4" cy="203.2" r="2.6"/>
<circle cx="817" cy="180.4" r="2.6"/>
<circle cx="848" cy="242.4" r="2.6"/>
<circle cx="872" cy="227.1" r="2.6"/>
<circle cx="904.6" cy="188.9" r="2.6"/>
<circle cx="842" cy="210.1" r="2.6"/>
<circle cx="785.1" cy="183.2" r="2.6"/>
<circle cx="845" cy="194" r="2.6"/>
<circle cx="896.7" cy="192.3" r="2.6"/>
<circle cx="829.4" cy="191.8" r="2.6"/>
<circle cx="829" cy="222" r="2.6"/>
<circle cx="891" cy="194.1" r="2.6"/>
<circle cx="822.6" cy="197.8" r="2.6"/>
<circle cx="869.2" cy="228.1" r="2.6"/>
<circle cx="869.7" cy="220" r="2.6"/>
<circle cx="914.4" cy="204.1" r="2.6"/>
<circle cx="858.8" cy="233.8" r="2.6"/>
<circle cx="881.5" cy="176.4" r="2.6"/>
<circle cx="856.2" cy="234.6" r="2.6"/>
<circle cx="844.6" cy="223.1" r="2.6"/>
<circle cx="871.8" cy="193.2" r="2.6"/>
<circle cx="829.2" cy="180.8" r="2.6"/>
<circle cx="842.3" cy="224.1" r="2.6"/>
<circle cx="836.5" cy="230.6" r="2.6"/>
<circle cx="878.3" cy="207.6" r="2.6"/>
<circle cx="820.6" cy="193.6" r="2.6"/>
<circle cx="854.8" cy="197.2" r="2.6"/>
<circle cx="874.9" cy="212.9" r="2.6"/>
<circle cx="910.4" cy="209.1" r="2.6"/>
<circle cx="855.7" cy="186.3" r="2.6"/>
<circle cx="831.3" cy="223" r="2.6"/>
<circle cx="858.8" cy="211.1" r="2.6"/>
<circle cx="900.9" cy="187.4" r="2.6"/>
<circle cx="827" cy="212.4" r="2.6"/>
<circle cx="845.9" cy="236.3" r="2.6"/>
<circle cx="879.9" cy="204.9" r="2.6"/>
<circle cx="927" cy="212.2" r="2.6"/>
<circle cx="840.8" cy="214.6" r="2.6"/>
<circle cx="825" cy="187.1" r="2.6"/>
<circle cx="864.3" cy="209.3" r="2.6"/>
<circle cx="861.8" cy="175.8" r="2.6"/>
<circle cx="886.2" cy="190.2" r="2.6"/>
<circle cx="865.8" cy="210.5" r="2.6"/>
<circle cx="891.8" cy="194.7" r="2.6"/>
<circle cx="845" cy="248.2" r="2.6"/>
<circle cx="796" cy="207.9" r="2.6"/>
<circle cx="860.3" cy="162.5" r="2.6"/>
<circle cx="870" cy="181.6" r="2.6"/>
<circle cx="870" cy="211.8" r="2.6"/>
<circle cx="857.2" cy="214.2" r="2.6"/>
<circle cx="848" cy="198.5" r="2.6"/>
<circle cx="886.8" cy="231.6" r="2.6"/>
<circle cx="926" cy="205" r="2.6"/>
<circle cx="879.1" cy="183.3" r="2.6"/>
<circle cx="838.8" cy="197.9" r="2.6"/>
<circle cx="894.9" cy="175.7" r="2.6"/>
<circle cx="820.7" cy="220.8" r="2.6"/>
<circle cx="838.4" cy="221.9" r="2.6"/>
<circle cx="811.8" cy="177.9" r="2.6"/>
<circle cx="903.7" cy="189" r="2.6"/>
<circle cx="881.7" cy="170.6" r="2.6"/>
<circle cx="860.3" cy="189.6" r="2.6"/>
<circle cx="892.3" cy="187" r="2.6"/>
<circle cx="819.2" cy="182.6" r="2.6"/>
<circle cx="818" cy="214.6" r="2.6"/>
<circle cx="889.3" cy="199.1" r="2.6"/>
<circle cx="886.8" cy="222.9" r="2.6"/>
<circle cx="816.4" cy="224.9" r="2.6"/>
<circle cx="824.6" cy="220.6" r="2.6"/>
<circle cx="862.2" cy="227.8" r="2.6"/>
<circle cx="858.5" cy="205" r="2.6"/>
<circle cx="852" cy="215.2" r="2.6"/>
<circle cx="879.5" cy="171" r="2.6"/>
<circle cx="863.7" cy="208.5" r="2.6"/>
<circle cx="881.2" cy="179" r="2.6"/>
<circle cx="884.4" cy="168.7" r="2.6"/>
<circle cx="880.2" cy="244.6" r="2.6"/>
<circle cx="836.7" cy="173.8" r="2.6"/>
<circle cx="896.3" cy="175.6" r="2.6"/>
<circle cx="829.9" cy="207.9" r="2.6"/>
<circle cx="865.1" cy="156.3" r="2.6"/>
<circle cx="880.5" cy="179.6" r="2.6"/>
<circle cx="863.1" cy="186.3" r="2.6"/>
<circle cx="887.1" cy="179.7" r="2.6"/>
<circle cx="867.1" cy="229.7" r="2.6"/>
<circle cx="836.3" cy="246.9" r="2.6"/>
<circle cx="864.7" cy="268" r="2.6"/>
<circle cx="898.9" cy="211.9" r="2.6"/>
<circle cx="862" cy="179.3" r="2.6"/>
<circle cx="862.5" cy="141.1" r="2.6"/>
<circle cx="808.7" cy="196.7" r="2.6"/>
<circle cx="864.1" cy="165.3" r="2.6"/>
<circle cx="836.1" cy="203.1" r="2.6"/>
<circle cx="847.8" cy="174.2" r="2.6"/>
<circle cx="889.1" cy="221" r="2.6"/>
<circle cx="885.9" cy="206.9" r="2.6"/>
<circle cx="895.8" cy="252" r="2.6"/>
<circle cx="878.9" cy="206.1" r="2.6"/>
<circle cx="830.9" cy="185.7" r="2.6"/>
<circle cx="801.5" cy="220.8" r="2.6"/>
<circle cx="836.7" cy="198.4" r="2.6"/>
<circle cx="819.5" cy="206" r="2.6"/>
<circle cx="898.3" cy="164" r="2.6"/>
<circle cx="912.4" cy="189.9" r="2.6"/>
<circle cx="859.6" cy="222.2" r="2.6"/>
<circle cx="878.4" cy="194.4" r="2.6"/>
<circle cx="867.6" cy="196.1" r="2.6"/>
<circle cx="855.8" cy="201.5" r="2.6"/>
<circle cx="869.9" cy="209.8" r="2.6"/>
<circle cx="891.9" cy="152.4" r="2.6"/>
<circle cx="849.9" cy="198.1" r="2.6"/>
<circle cx="868.2" cy="233" r="2.6"/>
<circle cx="837.5" cy="226.5" r="2.6"/>
<circle cx="831.6" cy="227.4" r="2.6"/>
<circle cx="946.9" cy="248.5" r="2.6"/>
<circle cx="896" cy="176.1" r="2.6"/>
<circle cx="794.4" cy="219" r="2.6"/>
<circle cx="871" cy="212.5" r="2.6"/>
<circle cx="853.6" cy="218.8" r="2.6"/>
<circle cx="896.1" cy="182.4" r="2.6"/>
<circle cx="825.4" cy="182.3" r="2.6"/>
<circle cx="825" cy="210.7" r="2.6"/>
<circle cx="874.9" cy="187.3" r="2.6"/>
<circle cx="912.1" cy="204.8" r="2.6"/>
<circle cx="885" cy="203.9" r="2.6"/>
<circle cx="847.5" cy="231.3" r="2.6"/>
<circle cx="862.4" cy="215.1" r="2.6"/>
<circle cx="889.4" cy="229.2" r="2.6"/>
<circle cx="798.9" cy="215.1" r="2.6"/>
<circle cx="810.4" cy="229.2" r="2.6"/>
<circle cx="832.8" cy="169.6" r="2.6"/>
<circle cx="874" cy="272.7" r="2.6"/>
<circle cx="876.1" cy="209" r="2.6"/>
<circle cx="866.9" cy="203.3" r="2.6"/>
<circle cx="880.2" cy="214.3" r="2.6"/>
<circle cx="921.2" cy="190.6" r="2.6"/>
<circle cx="844.5" cy="201" r="2.6"/>
<circle cx="814.6" cy="169.2" r="2.6"/>
<circle cx="878.4" cy="198" r="2.6"/>
<circle cx="897.6" cy="217.3" r="2.6"/>
<circle cx="831" cy="216.2" r="2.6"/>
<circle cx="924.1" cy="212.7" r="2.6"/>
<circle cx="866.3" cy="214.5" r="2.6"/>
<circle cx="871" cy="232.2" r="2.6"/>
<circle cx="853.8" cy="219.7" r="2.6"/>
<circle cx="873.1" cy="192" r="2.6"/>
<circle cx="858.4" cy="189.3" r="2.6"/>
<circle cx="850.2" cy="197.6" r="2.6"/>
<circle cx="879.2" cy="216.3" r="2.6"/>
<circle cx="870.6" cy="232.6" r="2.6"/>
<circle cx="834.4" cy="212" r="2.6"/>
<circle cx="874" cy="185.6" r="2.6"/>
<circle cx="874.2" cy="203.7" r="2.6"/>
<circle cx="841.8" cy="206.8" r="2.6"/>
<circle cx="825.5" cy="239.3" r="2.6"/>
<circle cx="864.2" cy="187.1" r="2.6"/>
<circle cx="862.5" cy="215.2" r="2.6"/>
<circle cx="883.1" cy="167.6" r="2.6"/>
<circle cx="827" cy="229.7" r="2.6"/>
<circle cx="837.8" cy="207.6" r="2.6"/>
<circle cx="869.3" cy="248.5" r="2.6"/>
<circle cx="846" cy="190" r="2.6"/>
<circle cx="882.2" cy="205.4" r="2.6"/>
<circle cx="825" cy="213.6" r="2.6"/>
<circle cx="921.7" cy="209.9" r="2.6"/>
<circle cx="912.1" cy="228.7" r="2.6"/>
<circle cx="830.9" cy="225.9" r="2.6"/>
<circle cx="917.9" cy="200.8" r="2.6"/>
<circle cx="857.9" cy="215.2" r="2.6"/>
<circle cx="926.2" cy="229.5" r="2.6"/>
<circle cx="879.9" cy="180" r="2.6"/>
<circle cx="844" cy="264.2" r="2.6"/>
<circle cx="867.1" cy="207.6" r="2.6"/>
<circle cx="848.2" cy="189.2" r="2.6"/>
<circle cx="878.2" cy="184.3" r="2.6"/>
<circle cx="883.3" cy="212" r="2.6"/>
<circle cx="835.8" cy="198.7" r="2.6"/>
<circle cx="831.1" cy="212.9" r="2.6"/>
<circle cx="926.2" cy="219.8" r="2.6"/>
<circle cx="891" cy="201.1" r="2.6"/>
<circle cx="883.6" cy="191.5" r="2.6"/>
<circle cx="879.5" cy="213" r="2.6"/>
<circle cx="827.9" cy="181.3" r="2.6"/>
<circle cx="904.7" cy="189.2" r="2.6"/>
<circle cx="888" cy="200.5" r="2.6"/>
<circle cx="873.9" cy="206.7" r="2.6"/>
<circle cx="851" cy="211.5" r="2.6"/>
<circle cx="857" cy="165" r="2.6"/>
<circle cx="829.6" cy="217.3" r="2.6"/>
<circle cx="858.2" cy="174.7" r="2.6"/>
<circle cx="917.7" cy="248.3" r="2.6"/>
<circle cx="836.9" cy="211.5" r="2.6"/>
<circle cx="809.3" cy="221.7" r="2.6"/>
<circle cx="848.4" cy="242.1" r="2.6"/>
<circle cx="836.1" cy="214.5" r="2.6"/>
<circle cx="910.1" cy="211" r="2.6"/>
<circle cx="874.1" cy="196.4" r="2.6"/>
<circle cx="887.7" cy="217.2" r="2.6"/>
<circle cx="861.3" cy="208.8" r="2.6"/>
<circle cx="840.2" cy="183.4" r="2.6"/>
<circle cx="903.8" cy="216.1" r="2.6"/>
<circle cx="880.7" cy="199.5" r="2.6"/>
<circle cx="841.9" cy="194.2" r="2.6"/>
<circle cx="871.4" cy="226.9" r="2.6"/>
<circle cx="832.1" cy="206.8" r="2.6"/>
<circle cx="878.2" cy="189.6" r="2.6"/>
<circle cx="864.9" cy="191.9" r="2.6"/>
<circle cx="819.6" cy="230.1" r="2.6"/>
<circle cx="864.2" cy="224" r="2.6"/>
<circle cx="869.4" cy="218" r="2.6"/>
<circle cx="845.8" cy="231.9" r="2.6"/>
<circle cx="856.4" cy="205.8" r="2.6"/>
<circle cx="821.2" cy="239.9" r="2.6"/>
<circle cx="865" cy="232.1" r="2.6"/>
<circle cx="839.8" cy="278.9" r="2.6"/>
<circle cx="859.7" cy="241.1" r="2.6"/>
<circle cx="846.9" cy="216.1" r="2.6"/>
<circle cx="910" cy="204.7" r="2.6"/>
<circle cx="865" cy="217.3" r="2.6"/>
<circle cx="819.9" cy="191.3" r="2.6"/>
<circle cx="824.5" cy="205.7" r="2.6"/>
<circle cx="855.1" cy="192.7" r="2.6"/>
<circle cx="878.3" cy="226.9" r="2.6"/>
<circle cx="896.4" cy="144.5" r="2.6"/>
<circle cx="852" cy="205.2" r="2.6"/>
<circle cx="835.4" cy="157" r="2.6"/>
<circle cx="978.4" cy="231.2" r="2.6"/>
<circle cx="852" cy="225.3" r="2.6"/>
<circle cx="860.4" cy="246.5" r="2.6"/>
<circle cx="874.4" cy="253.4" r="2.6"/>
<circle cx="865.2" cy="215.8" r="2.6"/>
<circle cx="845.4" cy="209.4" r="2.6"/>
<circle cx="843.8" cy="226.7" r="2.6"/>
<circle cx="842.4" cy="250" r="2.6"/>
<circle cx="925.1" cy="191.9" r="2.6"/>
<circle cx="838.6" cy="172" r="2.6"/>
<circle cx="841.2" cy="187.6" r="2.6"/>
<circle cx="841.1" cy="214" r="2.6"/>
<circle cx="869.9" cy="200.3" r="2.6"/>
<circle cx="866.1" cy="204" r="2.6"/>
<circle cx="877.1" cy="216" r="2.6"/>
<circle cx="906.5" cy="217" r="2.6"/>
<circle cx="860.9" cy="223.4" r="2.6"/>
<circle cx="835.6" cy="203.3" r="2.6"/>
<circle cx="859.5" cy="225.3" r="2.6"/>
<circle cx="835.7" cy="272.7" r="2.6"/>
<circle cx="827.2" cy="238" r="2.6"/>
<circle cx="898.1" cy="219.7" r="2.6"/>
<circle cx="857.4" cy="164.4" r="2.6"/>
<circle cx="852.6" cy="191.7" r="2.6"/>
<circle cx="840.4" cy="212" r="2.6"/>
<circle cx="842.5" cy="214.1" r="2.6"/>
<circle cx="822.7" cy="230.1" r="2.6"/>
<circle cx="855.6" cy="205.7" r="2.6"/>
<circle cx="901.5" cy="217.8" r="2.6"/>
<circle cx="868.8" cy="231.5" r="2.6"/>
<circle cx="854.2" cy="190.6" r="2.6"/>
<circle cx="814.1" cy="228.5" r="2.6"/>
<circle cx="860.5" cy="208" r="2.6"/>
<circle cx="840.9" cy="195" r="2.6"/>
<circle cx="856" cy="174.6" r="2.6"/>
<circle cx="908.8" cy="227.4" r="2.6"/>
<circle cx="888.3" cy="174.9" r="2.6"/>
<circle cx="852.5" cy="210.4" r="2.6"/>
<circle cx="883.4" cy="197.1" r="2.6"/>
<circle cx="812.8" cy="232.8" r="2.6"/>
<circle cx="846.2" cy="198.2" r="2.6"/>
<circle cx="880.7" cy="209.9" r="2.6"/>
<circle cx="840.5" cy="224.9" r="2.6"/>
<circle cx="868.4" cy="199.4" r="2.6"/>
<circle cx="880.7" cy="231.3" r="2.6"/>
<circle cx="882.9" cy="168.4" r="2.6"/>
<circle cx="859.2" cy="192.4" r="2.6"/>
<circle cx="838.4" cy="211.2" r="2.6"/>
<circle cx="860.4" cy="192.8" r="2.6"/>
<circle cx="794.9" cy="204.1" r="2.6"/>
<circle cx="881.8" cy="208.4" r="2.6"/>
<circle cx="816.6" cy="229.4" r="2.6"/>
<circle cx="879.6" cy="142.5" r="2.6"/>
<circle cx="815.5" cy="231.5" r="2.6"/>
<circle cx="891.3" cy="214.4" r="2.6"/>
<circle cx="914.6" cy="204.3" r="2.6"/>
<circle cx="891.7" cy="213.7" r="2.6"/>
<circle cx="860.9" cy="194.6" r="2.6"/>
<circle cx="851.8" cy="210.5" r="2.6"/>
<circle cx="853.3" cy="193.6" r="2.6"/>
<circle cx="847.9" cy="187.9" r="2.6"/>
<circle cx="879.4" cy="187.5" r="2.6"/>
<circle cx="899.9" cy="157.8" r="2.6"/>
<circle cx="881.4" cy="227.6" r="2.6"/>
<circle cx="828.3" cy="190.8" r="2.6"/>
<circle cx="901.8" cy="205.7" r="2.6"/>
<circle cx="874.4" cy="214.5" r="2.6"/>
<circle cx="888.8" cy="260.5" r="2.6"/>
<circle cx="863.8" cy="155.1" r="2.6"/>
<circle cx="895.4" cy="156.9" r="2.6"/>
<circle cx="818" cy="221.1" r="2.6"/>
<circle cx="849.6" cy="230.4" r="2.6"/>
<circle cx="837.9" cy="225.7" r="2.6"/>
<circle cx="844.6" cy="209.5" r="2.6"/>
<circle cx="848.2" cy="201.9" r="2.6"/>
<circle cx="866.4" cy="201.8" r="2.6"/>
<circle cx="864.3" cy="163.3" r="2.6"/>
<circle cx="854.5" cy="192.8" r="2.6"/>
<circle cx="864.4" cy="247.2" r="2.6"/>
<circle cx="796.9" cy="168.9" r="2.6"/>
<circle cx="828.1" cy="194.3" r="2.6"/>
<circle cx="885.8" cy="225.2" r="2.6"/>
<circle cx="828.8" cy="256.1" r="2.6"/>
<circle cx="846.4" cy="246.2" r="2.6"/>
<circle cx="833.3" cy="185.6" r="2.6"/>
<circle cx="875.2" cy="229.2" r="2.6"/>
<circle cx="815.1" cy="202.1" r="2.6"/>
<circle cx="827" cy="213.7" r="2.6"/>
<circle cx="853.1" cy="184.4" r="2.6"/>
<circle cx="909.6" cy="190.8" r="2.6"/>
<circle cx="849.1" cy="238.8" r="2.6"/>
<circle cx="876.2" cy="177" r="2.6"/>
<circle cx="820.8" cy="247.3" r="2.6"/>
<circle cx="859.9" cy="189.2" r="2.6"/>
<circle cx="939.1" cy="207.3" r="2.6"/>
<circle cx="857.4" cy="189.1" r="2.6"/>
<circle cx="865.1" cy="214.8" r="2.6"/>
<circle cx="858.9" cy="238.7" r="2.6"/>
<circle cx="843.3" cy="240.2" r="2.6"/>
<circle cx="843.4" cy="168.9" r="2.6"/>
<circle cx="868.9" cy="220.7" r="2.6"/>
<circle cx="856.4" cy="176.2" r="2.6"/>
<circle cx="871.9" cy="195" r="2.6"/>
<circle cx="867.6" cy="192.3" r="2.6"/>
<circle cx="847.8" cy="206.2" r="2.6"/>
<circle cx="832" cy="194.4" r="2.6"/>
<circle cx="887.4" cy="206.8" r="2.6"/>
<circle cx="879" cy="197.3" r="2.6"/>
<circle cx="863.2" cy="219" r="2.6"/>
<circle cx="870.1" cy="198.7" r="2.6"/>
<circle cx="878.8" cy="195.7" r="2.6"/>
<circle cx="828.9" cy="213.2" r="2.6"/>
<circle cx="876.9" cy="203" r="2.6"/>
<circle cx="831.6" cy="199.7" r="2.6"/>
<circle cx="874.2" cy="204.3" r="2.6"/>
<circle cx="907.2" cy="184.8" r="2.6"/>
<circle cx="840.2" cy="236.2" r="2.6"/>
<circle cx="858.4" cy="207.5" r="2.6"/>
<circle cx="843.5" cy="224.8" r="2.6"/>
<circle cx="900.4" cy="167.9" r="2.6"/>
<circle cx="862.6" cy="256.1" r="2.6"/>
<circle cx="864.8" cy="224" r="2.6"/>
<circle cx="892.2" cy="213.8" r="2.6"/>
<circle cx="862.5" cy="208.4" r="2.6"/>
<circle cx="885.6" cy="169.1" r="2.6"/>
<circle cx="937.9" cy="237.6" r="2.6"/>
<circle cx="831.9" cy="220.4" r="2.6"/>
<circle cx="863.6" cy="207.2" r="2.6"/>
<circle cx="865.4" cy="204" r="2.6"/>
<circle cx="850.7" cy="209.1" r="2.6"/>
<circle cx="868.2" cy="213.2" r="2.6"/>
<circle cx="857.7" cy="262.9" r="2.6"/>
<circle cx="871.4" cy="187.1" r="2.6"/>
<circle cx="853.3" cy="181.4" r="2.6"/>
<circle cx="842.9" cy="203.2" r="2.6"/>
<circle cx="888.5" cy="179.1" r="2.6"/>
<circle cx="822" cy="178.9" r="2.6"/>
<circle cx="826.6" cy="211.1" r="2.6"/>
<circle cx="835.6" cy="222.5" r="2.6"/>
<circle cx="866" cy="175.6" r="2.6"/>
<circle cx="889.8" cy="156.9" r="2.6"/>
<circle cx="847.6" cy="250.5" r="2.6"/>
<circle cx="830.8" cy="212.5" r="2.6"/>
<circle cx="856.7" cy="214.1" r="2.6"/>
<circle cx="910.9" cy="208.2" r="2.6"/>
<circle cx="839.3" cy="183.2" r="2.6"/>
<circle cx="848.6" cy="159.1" r="2.6"/>
<circle cx="865.2" cy="211.7" r="2.6"/>
<circle cx="901.5" cy="195.5" r="2.6"/>
<circle cx="833.5" cy="221.2" r="2.6"/>
<circle cx="874.4" cy="191.8" r="2.6"/>
<circle cx="823.3" cy="234" r="2.6"/>
<circle cx="846.4" cy="202.5" r="2.6"/>
<circle cx="829.8" cy="242.4" r="2.6"/>
<circle cx="844.8" cy="212.6" r="2.6"/>
<circle cx="835.5" cy="200.9" r="2.6"/>
<circle cx="903.7" cy="221.5" r="2.6"/>
<circle cx="883.2" cy="220.4" r="2.6"/>
<circle cx="922.7" cy="215.8" r="2.6"/>
<circle cx="925.6" cy="193.9" r="2.6"/>
<circle cx="853.2" cy="239.6" r="2.6"/>
<circle cx="872.5" cy="209.6" r="2.6"/>
<circle cx="888.9" cy="206.4" r="2.6"/>
<circle cx="880.2" cy="222.7" r="2.6"/>
<circle cx="886.4" cy="186.9" r="2.6"/>
<circle cx="858.4" cy="166.4" r="2.6"/>
<circle cx="854.7" cy="210" r="2.6"/>
<circle cx="821.7" cy="200.1" r="2.6"/>
<circle cx="849.9" cy="162.8" r="2.6"/>
<circle cx="841.4" cy="221.1" r="2.6"/>
<circle cx="867.9" cy="250.9" r="2.6"/>
<circle cx="877.1" cy="199.3" r="2.6"/>
<circle cx="850.8" cy="193.7" r="2.6"/>
<circle cx="874.3" cy="198" r="2.6"/>
<circle cx="894.1" cy="177.7" r="2.6"/>
<circle cx="879.8" cy="183.8" r="2.6"/>
<circle cx="823.1" cy="262" r="2.6"/>
<circle cx="868.6" cy="204.3" r="2.6"/>
<circle cx="849.2" cy="210.5" r="2.6"/>
<circle cx="836.3" cy="199.6" r="2.6"/>
<circle cx="817" cy="261.3" r="2.6"/>
<circle cx="864.3" cy="189.4" r="2.6"/>
<circle cx="819.6" cy="186.5" r="2.6"/>
<circle cx="888.6" cy="231.9" r="2.6"/>
<circle cx="842.1" cy="181.8" r="2.6"/>
<circle cx="883.8" cy="215.7" r="2.6"/>
<circle cx="880.2" cy="223.7" r="2.6"/>
<circle cx="824.4" cy="213.2" r="2.6"/>
<circle cx="862.3" cy="201.6" r="2.6"/>
<circle cx="873.9" cy="185" r="2.6"/>
<circle cx="854.5" cy="224.2" r="2.6"/>
<circle cx="879.6" cy="163" r="2.6"/>
<circle cx="891.1" cy="187.9" r="2.6"/>
<circle cx="865.9" cy="218" r="2.6"/>
<circle cx="811.8" cy="189.6" r="2.6"/>
<circle cx="841.5" cy="153.5" r="2.6"/>
<circle cx="829.7" cy="220.4" r="2.6"/>
<circle cx="862.2" cy="199.2" r="2.6"/>
<circle cx="884.8" cy="190.4" r="2.6"/>
<circle cx="863.2" cy="206.7" r="2.6"/>
<circle cx="824.7" cy="218.5" r="2.6"/>
<circle cx="850.5" cy="235.3" r="2.6"/>
<circle cx="868.1" cy="232.8" r="2.6"/>
<circle cx="873.2" cy="227.2" r="2.6"/>
<circle cx="831.2" cy="217.1" r="2.6"/>
<circle cx="894.6" cy="203.6" r="2.6"/>
<circle cx="848.8" cy="203.8" r="2.6"/>
<circle cx="862.7" cy="216.7" r="2.6"/>
<circle cx="863.5" cy="222.4" r="2.6"/>
<circle cx="855.4" cy="240" r="2.6"/>
<circle cx="807.2" cy="213.3" r="2.6"/>
<circle cx="827.8" cy="215.6" r="2.6"/>
<circle cx="877.8" cy="225.9" r="2.6"/>
<circle cx="871.7" cy="197.7" r="2.6"/>
<circle cx="877.2" cy="192.7" r="2.6"/>
<circle cx="942.1" cy="202.8" r="2.6"/>
<circle cx="890.1" cy="212.6" r="2.6"/>
<circle cx="847" cy="193" r="2.6"/>
<circle cx="891.8" cy="217.7" r="2.6"/>
<circle cx="827.9" cy="210.7" r="2.6"/>
<circle cx="862.1" cy="185.2" r="2.6"/>
<circle cx="808.9" cy="179.7" r="2.6"/>
<circle cx="904.1" cy="195.1" r="2.6"/>
<circle cx="892.2" cy="229.2" r="2.6"/>
<circle cx="884.4" cy="185.6" r="2.6"/>
<circle cx="892" cy="197.2" r="2.6"/>
<circle cx="851.4" cy="187.1" r="2.6"/>
<circle cx="927.2" cy="192.5" r="2.6"/>
<circle cx="827.1" cy="177.9" r="2.6"/>
<circle cx="842.8" cy="231.5" r="2.6"/>
<circle cx="859.2" cy="195.8" r="2.6"/>
<circle cx="840.8" cy="183" r="2.6"/>
<circle cx="890.4" cy="211.3" r="2.6"/>
<circle cx="842.7" cy="210.4" r="2.6"/>
<circle cx="868.4" cy="212.9" r="2.6"/>
<circle cx="833.9" cy="245" r="2.6"/>
<circle cx="860.3" cy="275.6" r="2.6"/>
<circle cx="835.6" cy="193.5" r="2.6"/>
<circle cx="863.9" cy="176.3" r="2.6"/>
<circle cx="911.1" cy="185.7" r="2.6"/>
<circle cx="871.3" cy="226.9" r="2.6"/>
<circle cx="862.8" cy="223.6" r="2.6"/>
<circle cx="839.5" cy="239" r="2.6"/>
<circle cx="863.7" cy="244.6" r="2.6"/>
<circle cx="829.4" cy="182.8" r="2.6"/>
<circle cx="851.6" cy="177.1" r="2.6"/>
<circle cx="852" cy="230.8" r="2.6"/>
<circle cx="883.8" cy="217.9" r="2.6"/>
<circle cx="891.4" cy="210.2" r="2.6"/>
<circle cx="844.8" cy="188.1" r="2.6"/>
<circle cx="825.4" cy="189.5" r="2.6"/>
<circle cx="868.8" cy="179.8" r="2.6"/>
<circle cx="808" cy="219.4" r="2.6"/>
<circle cx="844.9" cy="173.6" r="2.6"/>
<circle cx="850.8" cy="187" r="2.6"/>
<circle cx="863.5" cy="200.8" r="2.6"/>
<circle cx="856.3" cy="218.9" r="2.6"/>
<circle cx="853.9" cy="209.6" r="2.6"/>
<circle cx="830.9" cy="203.1" r="2.6"/>
<circle cx="915.5" cy="191.3" r="2.6"/>
<circle cx="884.6" cy="181.2" r="2.6"/>
<circle cx="876.8" cy="229.6" r="2.6"/>
<circle cx="825.5" cy="169.3" r="2.6"/>
<circle cx="860.7" cy="232.3" r="2.6"/>
<circle cx="850.5" cy="206.6" r="2.6"/>
<circle cx="901.4" cy="207.9" r="2.6"/>
<circle cx="884" cy="191.2" r="2.6"/>
<circle cx="900.9" cy="189.6" r="2.6"/>
<circle cx="876.9" cy="208.8" r="2.6"/>
<circle cx="861" cy="200.5" r="2.6"/>
<circle cx="843.2" cy="209.6" r="2.6"/>
<circle cx="832.6" cy="201.7" r="2.6"/>
<circle cx="841.3" cy="242" r="2.6"/>
<circle cx="874.1" cy="191.8" r="2.6"/>
<circle cx="875.5" cy="229.7" r="2.6"/>
<circle cx="854.2" cy="233.1" r="2.6"/>
<circle cx="855.1" cy="229.3" r="2.6"/>
<circle cx="850.9" cy="251.7" r="2.6"/>
<circle cx="878.4" cy="229.1" r="2.6"/>
<circle cx="851.5" cy="166" r="2.6"/>
<circle cx="854.4" cy="174.5" r="2.6"/>
<circle cx="896.2" cy="196.1" r="2.6"/>
<circle cx="873" cy="184.7" r="2.6"/>
<circle cx="823.8" cy="179.4" r="2.6"/>
<circle cx="840.4" cy="214.1" r="2.6"/>
<circle cx="869.8" cy="218.3" r="2.6"/>
<circle cx="897.8" cy="190.3" r="2.6"/>
<circle cx="857.4" cy="252.2" r="2.6"/>
<circle cx="907.6" cy="202.3" r="2.6"/>
<circle cx="915.2" cy="222.8" r="2.6"/>
<circle cx="856.2" cy="203.8" r="2.6"/>
<circle cx="848" cy="219.4" r="2.6"/>
<circle cx="846.6" cy="207.4" r="2.6"/>
<circle cx="869.2" cy="157.1" r="2.6"/>
<circle cx="936.1" cy="204.4" r="2.6"/>
<circle cx="912.3" cy="190.2" r="2.6"/>
<circle cx="859.7" cy="195.8" r="2.6"/>
<circle cx="878" cy="162" r="2.6"/>
<circle cx="797.6" cy="194.5" r="2.6"/>
<circle cx="828.8" cy="203.2" r="2.6"/>
<circle cx="843.7" cy="235.6" r="2.6"/>
<circle cx="859.8" cy="229" r="2.6"/>
<circle cx="854.6" cy="204.2" r="2.6"/>
<circle cx="895" cy="199.4" r="2.6"/>
<circle cx="848.5" cy="69.5" r="2.6"/>
<circle cx="851.5" cy="77" r="2.6"/>
<circle cx="858.5" cy="99" r="2.6"/>
<circle cx="836.5" cy="117" r="2.6"/>
<circle cx="839.5" cy="126.5" r="2.6"/>
<circle cx="838.5" cy="139.5" r="2.6"/>
<circle cx="762" cy="168" r="2.6"/>
<circle cx="762" cy="169.5" r="2.6"/>
<circle cx="789" cy="171.5" r="2.6"/>
<circle cx="767" cy="206" r="2.6"/>
<circle cx="751" cy="218" r="2.6"/>
<circle cx="769" cy="220.6" r="2.6"/>
<circle cx="869" cy="285.5" r="2.6"/>
<circle cx="819" cy="300.6" r="2.6"/>
<circle cx="823" cy="289" r="2.6"/>
<circle cx="839" cy="139" r="2.6"/>
<circle cx="1034" cy="256" r="2.6"/>
<circle cx="995" cy="211" r="2.6"/>
<circle cx="984" cy="206" r="2.6"/>
<circle cx="987" cy="230" r="2.6"/>
<circle cx="972" cy="222" r="2.6"/>
<circle cx="961" cy="217" r="2.6"/>
<circle cx="955" cy="226" r="2.6"/>
<circle cx="947" cy="230" r="2.6"/>
<circle cx="945.5" cy="190" r="2.6"/>
<circle cx="998" cy="195.5" r="2.6"/>
</g>
<g fill="none" stroke="#222" stroke-width="1.1" stroke-opacity="0.7">
<circle cx="932.7" cy="214" r="2.9"/>
<circle cx="924.5" cy="211" r="2.9"/>
<circle cx="901" cy="210.5" r="2.9"/>
<circle cx="909" cy="194.5" r="2.9"/>
<circle cx="897.8" cy="227.3" r="2.9"/>
<circle cx="870" cy="230" r="2.9"/>
<circle cx="861.8" cy="232.2" r="2.9"/>
<circle cx="876" cy="182.7" r="2.9"/>
<circle cx="879.6" cy="190.4" r="2.9"/>
<circle cx="876.7" cy="194.4" r="2.9"/>
<circle cx="884" cy="194.4" r="2.9"/>
<circle cx="831.8" cy="204" r="2.9"/>
<circle cx="847.8" cy="206.2" r="2.9"/>
</g>
<g font-size="8.6" fill="#111" fill-opacity="0.8">
<text x="864" y="223.7">LGALS3</text>
<text x="870.6" y="240.6">LDHA</text>
<text x="807" y="196.7">CHI3L1</text>
<text x="851" y="196">SPP1</text>
</g>
<g fill="#1f9af3" fill-opacity="0.92" stroke="#0a57a0" stroke-width="0.6">
<circle cx="810.6" cy="261.8" r="3.25"/>
<circle cx="802.6" cy="238.9" r="3.25"/>
<circle cx="794.4" cy="249.8" r="3.25"/>
<circle cx="781.2" cy="242.2" r="3.25"/>
<circle cx="815.9" cy="257.3" r="3.25"/>
<circle cx="801.9" cy="251" r="3.25"/>
<circle cx="816.4" cy="237.2" r="3.25"/>
<circle cx="802.6" cy="253.8" r="3.25"/>
<circle cx="814" cy="242.7" r="3.25"/>
<circle cx="796.4" cy="240" r="3.25"/>
<circle cx="799.7" cy="257.2" r="3.25"/>
<circle cx="806.4" cy="244.3" r="3.25"/>
<circle cx="786.8" cy="246.7" r="3.25"/>
<circle cx="812.5" cy="259.8" r="3.25"/>
<circle cx="795.4" cy="251.1" r="3.25"/>
<circle cx="813.4" cy="248.6" r="3.25"/>
<circle cx="802.2" cy="235.3" r="3.25"/>
<circle cx="812.4" cy="252.3" r="3.25"/>
<circle cx="805.2" cy="238.4" r="3.25"/>
<circle cx="811.4" cy="241.1" r="3.25"/>
<circle cx="793.6" cy="240.1" r="3.25"/>
<circle cx="805.7" cy="241.2" r="3.25"/>
<circle cx="800.4" cy="252.1" r="3.25"/>
<circle cx="814.9" cy="258" r="3.25"/>
<circle cx="812.2" cy="239.5" r="3.25"/>
<circle cx="813.3" cy="234" r="3.25"/>
<circle cx="794.2" cy="256.5" r="3.25"/>
<circle cx="794.9" cy="258.5" r="3.25"/>
<circle cx="815.3" cy="236" r="3.25"/>
<circle cx="806.6" cy="253.3" r="3.25"/>
<circle cx="805.7" cy="245.7" r="3.25"/>
<circle cx="799.5" cy="245" r="3.25"/>
<circle cx="811.3" cy="237.6" r="3.25"/>
<circle cx="814" cy="259.4" r="3.25"/>
<circle cx="806" cy="234.3" r="3.25"/>
<circle cx="815.9" cy="245" r="3.25"/>
<circle cx="800.8" cy="247.9" r="3.25"/>
<circle cx="792.7" cy="247.4" r="3.25"/>
<circle cx="794.4" cy="241.2" r="3.25"/>
<circle cx="799.3" cy="237.5" r="3.25"/>
<circle cx="808" cy="235.3" r="3.25"/>
<circle cx="793.3" cy="245.5" r="3.25"/>
<circle cx="801.9" cy="236.1" r="3.25"/>
<circle cx="783.4" cy="245.5" r="3.25"/>
<circle cx="807.6" cy="259.3" r="3.25"/>
<circle cx="805.5" cy="249.6" r="3.25"/>
<circle cx="786.4" cy="233.5" r="3.25"/>
<circle cx="796.8" cy="245.9" r="3.25"/>
<circle cx="776.7" cy="261.8" r="3.25"/>
<circle cx="806" cy="274.7" r="3.25"/>
<circle cx="810.7" cy="266.7" r="3.25"/>
<circle cx="787" cy="254.4" r="3.25"/>
<circle cx="790" cy="249.3" r="3.25"/>
<circle cx="778" cy="243.3" r="3.25"/>
<circle cx="762" cy="242" r="3.25"/>
<circle cx="776" cy="236" r="3.25"/>
<circle cx="781" cy="235" r="3.25"/>
<circle cx="786" cy="241" r="3.25"/>
<circle cx="792" cy="238" r="3.25"/>
</g>
<g fill="#fa6659" fill-opacity="0.8" stroke="#a83226" stroke-width="0.6" stroke-opacity="0.9">
<circle cx="934" cy="178.3" r="3.35"/>
<circle cx="920" cy="170.9" r="3.35"/>
<circle cx="913.9" cy="166.4" r="3.35"/>
<circle cx="909.9" cy="158.6" r="3.35"/>
<circle cx="911" cy="172.3" r="3.35"/>
<circle cx="917.1" cy="154" r="3.35"/>
<circle cx="959.1" cy="180.5" r="3.35"/>
<circle cx="932.5" cy="176.4" r="3.35"/>
<circle cx="904.5" cy="165.1" r="3.35"/>
<circle cx="904.2" cy="173.1" r="3.35"/>
<circle cx="910.9" cy="179.6" r="3.35"/>
<circle cx="907.2" cy="165.9" r="3.35"/>
<circle cx="900.6" cy="177.4" r="3.35"/>
<circle cx="908.7" cy="156.5" r="3.35"/>
<circle cx="901.8" cy="152.4" r="3.35"/>
<circle cx="949" cy="181.8" r="3.35"/>
<circle cx="903.6" cy="159.5" r="3.35"/>
<circle cx="920.9" cy="143.2" r="3.35"/>
<circle cx="913" cy="162" r="3.35"/>
<circle cx="905.2" cy="183.8" r="3.35"/>
<circle cx="916.7" cy="155.2" r="3.35"/>
<circle cx="901.5" cy="180" r="3.35"/>
<circle cx="929" cy="151" r="3.35"/>
<circle cx="906.2" cy="165.6" r="3.35"/>
<circle cx="913.6" cy="166.5" r="3.35"/>
<circle cx="911.5" cy="161.8" r="3.35"/>
<circle cx="901.8" cy="182.8" r="3.35"/>
<circle cx="963.4" cy="180.1" r="3.35"/>
<circle cx="901.6" cy="178.4" r="3.35"/>
<circle cx="934.8" cy="179.7" r="3.35"/>
<circle cx="909.7" cy="170.2" r="3.35"/>
<circle cx="949.8" cy="160.3" r="3.35"/>
<circle cx="912.7" cy="167.9" r="3.35"/>
<circle cx="915.4" cy="176.8" r="3.35"/>
<circle cx="930" cy="180.2" r="3.35"/>
<circle cx="931.3" cy="180.2" r="3.35"/>
<circle cx="927.6" cy="172.4" r="3.35"/>
<circle cx="924.7" cy="183.7" r="3.35"/>
<circle cx="900.8" cy="165.2" r="3.35"/>
<circle cx="913.7" cy="172.2" r="3.35"/>
<circle cx="916.4" cy="152.7" r="3.35"/>
<circle cx="911.3" cy="159" r="3.35"/>
<circle cx="936.3" cy="134.5" r="3.35"/>
<circle cx="916.1" cy="171.7" r="3.35"/>
<circle cx="965.5" cy="155.7" r="3.35"/>
<circle cx="948.6" cy="147.9" r="3.35"/>
<circle cx="921.8" cy="171.1" r="3.35"/>
<circle cx="954.8" cy="153.5" r="3.35"/>
<circle cx="934.9" cy="181.4" r="3.35"/>
<circle cx="919.2" cy="156.9" r="3.35"/>
<circle cx="907.5" cy="178.9" r="3.35"/>
<circle cx="902.9" cy="170.9" r="3.35"/>
<circle cx="919.2" cy="175.4" r="3.35"/>
<circle cx="952.8" cy="182.5" r="3.35"/>
<circle cx="927.3" cy="179.4" r="3.35"/>
<circle cx="941" cy="170.1" r="3.35"/>
<circle cx="917" cy="181.8" r="3.35"/>
<circle cx="942.1" cy="170.6" r="3.35"/>
<circle cx="925" cy="168.8" r="3.35"/>
<circle cx="984.3" cy="180.5" r="3.35"/>
<circle cx="934.4" cy="165.9" r="3.35"/>
<circle cx="910.7" cy="158.4" r="3.35"/>
<circle cx="912.6" cy="149.9" r="3.35"/>
<circle cx="926.3" cy="144.7" r="3.35"/>
<circle cx="961.7" cy="167.2" r="3.35"/>
<circle cx="914.9" cy="177" r="3.35"/>
<circle cx="926.6" cy="165.9" r="3.35"/>
<circle cx="917" cy="158.9" r="3.35"/>
<circle cx="908.9" cy="175.6" r="3.35"/>
<circle cx="906.5" cy="181.5" r="3.35"/>
<circle cx="911.7" cy="183" r="3.35"/>
<circle cx="925.4" cy="173.1" r="3.35"/>
<circle cx="916.1" cy="166.3" r="3.35"/>
<circle cx="923.9" cy="171.2" r="3.35"/>
<circle cx="904.6" cy="179.2" r="3.35"/>
<circle cx="902.8" cy="181.7" r="3.35"/>
<circle cx="954.5" cy="182" r="3.35"/>
<circle cx="927.2" cy="178.4" r="3.35"/>
<circle cx="933" cy="161.5" r="3.35"/>
<circle cx="951" cy="147.5" r="3.35"/>
<circle cx="995.3" cy="178.1" r="3.35"/>
<circle cx="911.2" cy="179.3" r="3.35"/>
<circle cx="922.6" cy="163.4" r="3.35"/>
<circle cx="905.1" cy="159.7" r="3.35"/>
<circle cx="932.8" cy="173.9" r="3.35"/>
<circle cx="916.6" cy="178.4" r="3.35"/>
<circle cx="916.5" cy="170" r="3.35"/>
<circle cx="918.3" cy="170.1" r="3.35"/>
<circle cx="959.8" cy="182.6" r="3.35"/>
<circle cx="902.7" cy="153" r="3.35"/>
<circle cx="908.1" cy="165.4" r="3.35"/>
<circle cx="916.5" cy="180.8" r="3.35"/>
<circle cx="902.5" cy="177.5" r="3.35"/>
<circle cx="927.4" cy="182.9" r="3.35"/>
<circle cx="902.5" cy="179.9" r="3.35"/>
<circle cx="960.9" cy="168.6" r="3.35"/>
<circle cx="910.3" cy="178" r="3.35"/>
<circle cx="917" cy="170.3" r="3.35"/>
<circle cx="911.4" cy="178.8" r="3.35"/>
<circle cx="921.5" cy="180.6" r="3.35"/>
<circle cx="917.6" cy="168.7" r="3.35"/>
<circle cx="921.5" cy="182.9" r="3.35"/>
<circle cx="914" cy="174.5" r="3.35"/>
<circle cx="909.4" cy="178.3" r="3.35"/>
<circle cx="924.8" cy="178.7" r="3.35"/>
<circle cx="907.7" cy="161.2" r="3.35"/>
<circle cx="904" cy="158.1" r="3.35"/>
<circle cx="904.9" cy="174.9" r="3.35"/>
<circle cx="923.9" cy="177.9" r="3.35"/>
<circle cx="929.3" cy="160.4" r="3.35"/>
<circle cx="912.8" cy="182.9" r="3.35"/>
<circle cx="908.3" cy="160.9" r="3.35"/>
<circle cx="927.4" cy="168.4" r="3.35"/>
<circle cx="915.8" cy="179.3" r="3.35"/>
<circle cx="934.5" cy="174.5" r="3.35"/>
<circle cx="969.6" cy="181.7" r="3.35"/>
<circle cx="913.8" cy="170.9" r="3.35"/>
<circle cx="967.7" cy="176.8" r="3.35"/>
<circle cx="944.9" cy="182.3" r="3.35"/>
<circle cx="930.3" cy="179.3" r="3.35"/>
<circle cx="934.8" cy="179.8" r="3.35"/>
<circle cx="907.9" cy="180.2" r="3.35"/>
<circle cx="937.6" cy="170.1" r="3.35"/>
<circle cx="969.5" cy="177.8" r="3.35"/>
<circle cx="904" cy="165.7" r="3.35"/>
<circle cx="910.3" cy="169.9" r="3.35"/>
<circle cx="920.7" cy="177.2" r="3.35"/>
<circle cx="903" cy="180.8" r="3.35"/>
<circle cx="940.2" cy="176.9" r="3.35"/>
<circle cx="961.1" cy="165.8" r="3.35"/>
<circle cx="923.2" cy="139.7" r="3.35"/>
<circle cx="902.2" cy="178" r="3.35"/>
<circle cx="923.2" cy="183" r="3.35"/>
<circle cx="958.7" cy="181.8" r="3.35"/>
<circle cx="926.1" cy="180.1" r="3.35"/>
<circle cx="915.4" cy="176.8" r="3.35"/>
<circle cx="1010.1" cy="46.5" r="3.35"/>
<circle cx="901.4" cy="105.6" r="3.35"/>
<circle cx="953.3" cy="102.5" r="3.35"/>
<circle cx="980.6" cy="110.6" r="3.35"/>
<circle cx="933" cy="119.8" r="3.35"/>
<circle cx="977" cy="122" r="3.35"/>
<circle cx="989.4" cy="122" r="3.35"/>
<circle cx="999" cy="126.3" r="3.35"/>
<circle cx="971" cy="128" r="3.35"/>
<circle cx="1002.6" cy="140.8" r="3.35"/>
<circle cx="1035.6" cy="147.3" r="3.35"/>
<circle cx="1012.4" cy="149" r="3.35"/>
<circle cx="1026.6" cy="159" r="3.35"/>
<circle cx="1032" cy="176.2" r="3.35"/>
<circle cx="996" cy="118.8" r="3.35"/>
<circle cx="976" cy="135.5" r="3.35"/>
<circle cx="980.6" cy="156.5" r="3.35"/>
<circle cx="958" cy="121" r="3.35"/>
<circle cx="966" cy="140" r="3.35"/>
<circle cx="962" cy="144" r="3.35"/>
<circle cx="957" cy="149" r="3.35"/>
<circle cx="949" cy="139" r="3.35"/>
<circle cx="995" cy="165" r="3.35"/>
<circle cx="983" cy="168" r="3.35"/>
<circle cx="975" cy="165" r="3.35"/>
<circle cx="968" cy="163" r="3.35"/>
<circle cx="990" cy="172.8" r="3.35"/>
<circle cx="977" cy="177" r="3.35"/>
<circle cx="987" cy="179" r="3.35"/>
<circle cx="999" cy="178.5" r="3.35"/>
<circle cx="1004" cy="181" r="3.35"/>
<circle cx="998" cy="183" r="3.35"/>
<circle cx="992" cy="181" r="3.35"/>
<circle cx="985" cy="184" r="3.35"/>
<circle cx="972" cy="173" r="3.35"/>
<circle cx="964" cy="172" r="3.35"/>
<circle cx="960" cy="158" r="3.35"/>
<circle cx="953" cy="155" r="3.35"/>
<circle cx="947" cy="160" r="3.35"/>
<circle cx="944" cy="150" r="3.35"/>
<circle cx="940" cy="145" r="3.35"/>
<circle cx="996" cy="118.8" r="3.35"/>
<circle cx="976" cy="135.5" r="3.35"/>
<circle cx="980.6" cy="156.5" r="3.35"/>
<circle cx="1032" cy="176.2" r="3.35"/>
<circle cx="949.5" cy="139" r="3.35"/>
<circle cx="960" cy="143" r="3.35"/>
<circle cx="956" cy="148.5" r="3.35"/>
<circle cx="916.5" cy="139.5" r="3.35"/>
<circle cx="911.5" cy="143.5" r="3.35"/>
<circle cx="917" cy="147" r="3.35"/>
<circle cx="924" cy="153.5" r="3.35"/>
<circle cx="930.5" cy="153.5" r="3.35"/>
<circle cx="934" cy="159.5" r="3.35"/>
<circle cx="943" cy="158" r="3.35"/>
<circle cx="948.5" cy="158" r="3.35"/>
<circle cx="954" cy="162" r="3.35"/>
<circle cx="955" cy="169" r="3.35"/>
<circle cx="956.5" cy="176.5" r="3.35"/>
<circle cx="976.5" cy="177" r="3.35"/>
<circle cx="990.5" cy="178.5" r="3.35"/>
<circle cx="998.5" cy="181.5" r="3.35"/>
<circle cx="1004.5" cy="180" r="3.35"/>
<circle cx="913.5" cy="164.5" r="3.35"/>
<circle cx="926" cy="169" r="3.35"/>
<circle cx="930" cy="173" r="3.35"/>
<circle cx="911.5" cy="176" r="3.35"/>
<circle cx="921.5" cy="180.5" r="3.35"/>
<circle cx="928" cy="182.5" r="3.35"/>
<circle cx="933.5" cy="180.5" r="3.35"/>
<circle cx="948" cy="184" r="3.35"/>
</g>
<g fill="none" stroke="#1a1a1a" stroke-width="1.15">
<circle cx="996" cy="118.8" r="3.3"/>
<circle cx="976" cy="135.5" r="3.3"/>
<circle cx="980.6" cy="156.5" r="3.3"/>
<circle cx="1032" cy="176.2" r="3.3"/>
<circle cx="949.5" cy="139" r="3.3"/>
<circle cx="960" cy="143" r="3.3"/>
<circle cx="956" cy="148.5" r="3.3"/>
<circle cx="916.5" cy="139.5" r="3.3"/>
<circle cx="911.5" cy="143.5" r="3.3"/>
<circle cx="917" cy="147" r="3.3"/>
<circle cx="924" cy="153.5" r="3.3"/>
<circle cx="930.5" cy="153.5" r="3.3"/>
<circle cx="934" cy="159.5" r="3.3"/>
<circle cx="943" cy="158" r="3.3"/>
<circle cx="948.5" cy="158" r="3.3"/>
<circle cx="954" cy="162" r="3.3"/>
<circle cx="955" cy="169" r="3.3"/>
<circle cx="956.5" cy="176.5" r="3.3"/>
<circle cx="976.5" cy="177" r="3.3"/>
<circle cx="990.5" cy="178.5" r="3.3"/>
<circle cx="998.5" cy="181.5" r="3.3"/>
<circle cx="1004.5" cy="180" r="3.3"/>
<circle cx="913.5" cy="164.5" r="3.3"/>
<circle cx="926" cy="169" r="3.3"/>
<circle cx="930" cy="173" r="3.3"/>
<circle cx="911.5" cy="176" r="3.3"/>
<circle cx="921.5" cy="180.5" r="3.3"/>
<circle cx="928" cy="182.5" r="3.3"/>
<circle cx="933.5" cy="180.5" r="3.3"/>
<circle cx="948" cy="184" r="3.3"/>
<circle cx="945.5" cy="190" r="3.3"/>
<circle cx="998" cy="195.5" r="3.3"/>
</g>
<g stroke="#111" stroke-width="1.1">
<line x1="915" y1="118.8" x2="915" y2="138"/>
<line x1="899" y1="122" x2="911" y2="142"/>
<line x1="896.7" y1="136" x2="914" y2="146"/>
<line x1="930.3" y1="133" x2="924" y2="152.4"/>
<line x1="1000.6" y1="165.6" x2="987.3" y2="172.8"/>
<line x1="967" y1="188" x2="976" y2="179"/>
<line x1="1005" y1="198" x2="998.5" y2="184"/>
<line x1="999" y1="212.5" x2="989.8" y2="181"/>
</g>
<g font-size="8.6" fill="#111">
<text x="1013.8" y="44">GSTM1</text>
<text x="951" y="114.7">GPD1</text>
<text x="912.6" y="115.7">CHI3L2</text>
<text x="1000.6" y="115.7">SERPINA3</text>
<text x="881" y="124">C1R</text>
<text x="945.6" y="125.3">CD74</text>
<text x="881" y="137.5">C1S</text>
<text x="930.7" y="134.7">VIM</text>
<text x="952.7" y="137.5">C3</text>
<text x="981.6" y="136">CP</text>
<text x="1011" y="144.7">TYMP</text>
<text x="1041.3" y="144.7">GBP2</text>
<text x="927" y="150.4">CD14</text>
<text x="983" y="154.4">SOD2</text>
<text x="1034.6" y="162.6">GBP1</text>
<text x="1002" y="169.7">ISG15</text>
<text x="1040.9" y="178.9">ANXA1</text>
<text x="1005.7" y="187.4">ANXA2</text>
<text x="963.3" y="194.2">CD44</text>
<text x="964" y="204.4">NAMPT</text>
<text x="1007" y="202.3">S100A10</text>
<text x="1001" y="217.6">SERPINA1</text>
<text x="936" y="221.3">S100A11</text>
<text x="737.8" y="231">SERPINE2</text>
<text x="725" y="245.5">CSPG5</text>
<text x="757" y="254">BRIX1</text>
<text x="788.4" y="263.3">SHD</text>
<text x="745.5" y="274">MAD2L1</text>
</g>
<line x1="665" y1="37.2" x2="665" y2="307.7" stroke="#000" stroke-width="1.8"/>
<line x1="664.1" y1="306.8" x2="1052" y2="306.8" stroke="#000" stroke-width="1.8"/>
<line x1="660.5" y1="37.7" x2="665" y2="37.7" stroke="#000" stroke-width="1.5"/>
<text x="658" y="43.9" font-size="17.4" text-anchor="end">3.5</text>
<line x1="660.5" y1="62.2" x2="665" y2="62.2" stroke="#000" stroke-width="1.5"/>
<text x="658" y="68.4" font-size="17.4" text-anchor="end">3.0</text>
<line x1="660.5" y1="86.7" x2="665" y2="86.7" stroke="#000" stroke-width="1.5"/>
<text x="658" y="92.9" font-size="17.4" text-anchor="end">2.5</text>
<line x1="660.5" y1="111.1" x2="665" y2="111.1" stroke="#000" stroke-width="1.5"/>
<text x="658" y="117.3" font-size="17.4" text-anchor="end">2.0</text>
<line x1="660.5" y1="135.6" x2="665" y2="135.6" stroke="#000" stroke-width="1.5"/>
<text x="658" y="141.8" font-size="17.4" text-anchor="end">1.5</text>
<line x1="660.5" y1="160.1" x2="665" y2="160.1" stroke="#000" stroke-width="1.5"/>
<text x="658" y="166.3" font-size="17.4" text-anchor="end">1.0</text>
<line x1="660.5" y1="184.5" x2="665" y2="184.5" stroke="#000" stroke-width="1.5"/>
<text x="658" y="190.7" font-size="17.4" text-anchor="end">0.5</text>
<line x1="660.5" y1="209" x2="665" y2="209" stroke="#000" stroke-width="1.5"/>
<text x="658" y="215.2" font-size="17.4" text-anchor="end">0.0</text>
<line x1="660.5" y1="233.5" x2="665" y2="233.5" stroke="#000" stroke-width="1.5"/>
<text x="658" y="239.7" font-size="17.4" text-anchor="end">-0.5</text>
<line x1="660.5" y1="257.9" x2="665" y2="257.9" stroke="#000" stroke-width="1.5"/>
<text x="658" y="264.1" font-size="17.4" text-anchor="end">-1.0</text>
<line x1="660.5" y1="282.4" x2="665" y2="282.4" stroke="#000" stroke-width="1.5"/>
<text x="658" y="288.6" font-size="17.4" text-anchor="end">-1.5</text>
<line x1="660.5" y1="306.9" x2="665" y2="306.9" stroke="#000" stroke-width="1.5"/>
<text x="658" y="313.1" font-size="17.4" text-anchor="end">-2.0</text>
<line x1="691.5" y1="306.8" x2="691.5" y2="311.5" stroke="#000" stroke-width="1.5"/>
<text x="689" y="331" font-size="17.4" text-anchor="middle">-2.0</text>
<line x1="733.3" y1="306.8" x2="733.3" y2="311.5" stroke="#000" stroke-width="1.5"/>
<text x="730.8" y="331" font-size="17.4" text-anchor="middle">-1.5</text>
<line x1="775.1" y1="306.8" x2="775.1" y2="311.5" stroke="#000" stroke-width="1.5"/>
<text x="772.6" y="331" font-size="17.4" text-anchor="middle">-1.0</text>
<line x1="816.9" y1="306.8" x2="816.9" y2="311.5" stroke="#000" stroke-width="1.5"/>
<text x="814.4" y="331" font-size="17.4" text-anchor="middle">-0.5</text>
<line x1="858.7" y1="306.8" x2="858.7" y2="311.5" stroke="#000" stroke-width="1.5"/>
<text x="858.7" y="331" font-size="17.4" text-anchor="middle">0.0</text>
<line x1="900.5" y1="306.8" x2="900.5" y2="311.5" stroke="#000" stroke-width="1.5"/>
<text x="900.5" y="331" font-size="17.4" text-anchor="middle">0.5</text>
<line x1="942.3" y1="306.8" x2="942.3" y2="311.5" stroke="#000" stroke-width="1.5"/>
<text x="942.3" y="331" font-size="17.4" text-anchor="middle">1.0</text>
<line x1="984.1" y1="306.8" x2="984.1" y2="311.5" stroke="#000" stroke-width="1.5"/>
<text x="984.1" y="331" font-size="17.4" text-anchor="middle">1.5</text>
<line x1="1025.9" y1="306.8" x2="1025.9" y2="311.5" stroke="#000" stroke-width="1.5"/>
<text x="1025.9" y="331" font-size="17.4" text-anchor="middle">2.0</text>
<text x="853" y="354.5" font-size="17.6" text-anchor="middle">Log2 Fold Change, Protein</text>
<text x="618.8" y="173.5" font-size="17.6" text-anchor="middle" transform="rotate(-90 618.8 173.5)">Log2 Fold Change, RNA</text>
<circle cx="694.4" cy="77.5" r="5.3" fill="#f8766d"/>
<text x="711" y="83" font-size="15.2">Up</text>
<circle cx="694.4" cy="100" r="5.3" fill="#1e9bf5"/>
<text x="711" y="105.5" font-size="15.2">Down</text>
<circle cx="694.4" cy="119.6" r="4.6" fill="none" stroke="#000" stroke-width="1.5"/>
<text x="711" y="125.2" font-size="15.2">MES markers</text>
</g>
<g id="panelC">
<text x="3" y="390.3" font-size="20.2" font-weight="bold">C</text>
<text x="189" y="390" font-size="19.8" text-anchor="middle">CGGA (<tspan font-style="italic">n</tspan> = 273)</text>
<path d="M184 505 L184 408 A97 97 0 0 1 280.9 508.9 Z" fill="#438ec3" stroke="#fff" stroke-width="2" stroke-linejoin="round"/>
<path d="M184 505 L280.9 508.9 A97 97 0 0 1 253.2 573 Z" fill="#ff9326" stroke="#fff" stroke-width="2" stroke-linejoin="round"/>
<path d="M184 505 L253.2 573 A97 97 0 0 1 93.3 539.4 Z" fill="#e73c40" stroke="#fff" stroke-width="2" stroke-linejoin="round"/>
<path d="M184 505 L93.3 539.4 A97 97 0 0 1 184 408 Z" fill="#51ae4c" stroke="#fff" stroke-width="2" stroke-linejoin="round"/>
<text x="138" y="469.3" font-size="17.4" text-anchor="middle">84</text>
<text x="138" y="490.2" font-size="17.4" text-anchor="middle">(30.77%)</text>
<text x="227.4" y="455.6" font-size="17.4" text-anchor="middle">70</text>
<text x="227.4" y="476.3" font-size="17.4" text-anchor="middle">(25.64%)</text>
<text x="236.6" y="528.3" font-size="17.4" text-anchor="middle">32</text>
<text x="236.6" y="548.6" font-size="17.4" text-anchor="middle">(11.72%)</text>
<text x="168.4" y="553.8" font-size="17.4" text-anchor="middle">87</text>
<text x="168.4" y="573.6" font-size="17.4" text-anchor="middle">(31.87%)</text>
<rect x="313.4" y="501.1" width="16.4" height="16.4" fill="#33a02c"/>
<text x="336.9" y="514.6" font-size="15.4">IDHm-AFM</text>
<rect x="313.4" y="523.1" width="16.4" height="16.4" fill="#e31a1c"/>
<text x="336.9" y="536.6" font-size="15.4">IDHm-PPR</text>
<rect x="313.4" y="545.5" width="16.4" height="16.4" fill="#ff7f00"/>
<text x="336.9" y="559" font-size="15.4">IDHm-IME</text>
<rect x="313.4" y="567.6" width="16.4" height="16.4" fill="#1f78b4"/>
<text x="336.9" y="581.1" font-size="15.4">IDHm-NEU</text>
</g>
<g id="panelD">
<text x="9.2" y="636.3" font-size="20.2" font-weight="bold">D</text>
<text x="184.4" y="646.9" font-size="19.8" text-anchor="middle">CGGA OS (<tspan font-style="italic">n</tspan> = 273)</text>
<g fill="none" stroke-width="2.1" stroke-linejoin="miter">
<path d="M74.1 668.3 H79.9 V669.1 H80.8 V673.3 H94.9 V675.8 H97.4 V681.6 H99.9 V689.9 H106.5 V694.9 H111.5 V703.2 H116.5 V708.2 H121.5 V718.1 H126.4 V731.4 H131.4 V736.4 H136.4 V744.7 H137.2 V748 H142.2 V751.3 H146.4 V758 H153 V763 H157.2 V769.6 H163 V774.6 H169.6 V775.4 H171.3 V782.9 H173.8 V787.9 H192.9 V788.7 H193.7 V797.9 L283.8 798 L283.8 825 L297.5 825" stroke="#33a02c"/>
<path d="M74.1 670 L82.4 670.3 L82.4 675.8 H84.9 V679.9 H87.4 V684.9 H90.7 V690.7 H92.4 V699 H95.7 V708.2 H97.4 V716.5 H99.9 V724.8 H101.5 V736.4 H104 V741.4 H108.2 V748.9 H109 V768 H111.5 V776.3 H113.2 V783.7 H117.3 V789.6 H122.3 V792 H126.4 V796.2 H131.4 V799.5 H139.7 V802.8 H140.6 V808.7 H148 V809.5 H155.1 V812 H155.2 V814.5 H155.5 V817 H159.7 V821.1 H166.3 V822.8 H170.5 V829.4 H174.6 V834.4 H181.3 V835.2 H183.8 V846 L211 846 L211 851.5" stroke="#e31a1c"/>
<path d="M74.1 668.3 H88.2 V671.6 H89.9 V679.9 H90.7 V693.2 H94.1 V699.9 H95.7 V711.5 H99.9 V712.3 H100.7 V717.3 H104.9 V718.1 H105.7 V723.1 L112.3 723.4 H113.2 V741.4 H114 V754.7 H114.8 V759.7 L124 760 H124.8 V765.5 H127.3 V766 H127.8 V779.6 L133.9 779.9 H134.8 V787 H137.7 V787.4 H138.4 V799.5 H140.6 V808.7 H154.7 V809.2 H155.5 V816.1 H157.2 V825.3 H178.8 V825.6" stroke="#ff7f00"/>
<path d="M74.1 668.3 H84.9 V670 H94.9 V671.6 H99 V676.6 H103.2 V681.6 H108.2 V685.7 H110.7 V690.7 H114.8 V692.4 H116.5 V703.2 H121.5 V708.2 H124 V713.1 H129.8 V717.3 H135.6 V720.6 H139.7 V723.1 H141.4 V733.1 H143.1 V741.4 H146.4 V749.7 H152.2 V754.7 H156.3 V758 H166.3 V759.7 H169.6 V763.8 H179.6 V764.6 H182.9 V769.6 H186.2 V772.9 H200 V773.8 H202.5 V779.6 L268.8 779.6 L268.8 804.2 L289 804.2 L289 851.5" stroke="#1f78b4"/>
</g>
<path d="M73.9 667.8H84.3M79.1 662.6V673M78.1 673.6H88.5M83.3 668.4V678.8M109.6 706.5H120M114.8 701.3V711.7M112.9 710.5H123.3M118.1 705.3V715.7M114.6 714H125M119.8 708.8V719.2M117.1 719H127.5M122.3 713.8V724.2M118.8 723H129.2M124 717.8V728.2M121.2 731.4H131.6M126.4 726.2V736.6M126.2 736.4H136.6M131.4 731.2V741.6M129.6 741H140M134.8 735.8V746.2M132 745H142.4M137.2 739.8V750.2M136.2 750.3H146.6M141.4 745.1V755.5M139.5 755.5H149.9M144.7 750.3V760.7M142.8 759.3H153.2M148 754.1V764.5M144.5 760.5H154.9M149.7 755.3V765.7M152.8 770.3H163.2M158 765.1V775.5M158.6 774.7H169M163.8 769.5V779.9M163.6 775.3H174M168.8 770.1V780.5M178.6 788.3H189M183.8 783.1V793.5M185.2 788.6H195.6M190.4 783.4V793.8M194.8 798H205.2M200 792.8V803.2M198.8 798H209.2M204 792.8V803.2M219.8 798H230.2M225 792.8V803.2M227.8 798H238.2M233 792.8V803.2M287.8 825H298.2M293 819.8V830.2" stroke="#33a02c" stroke-width="1.7" fill="none"/>
<path d="M97.2 738H107.6M102.4 732.8V743.2M117.1 792H127.5M122.3 786.8V797.2M120.4 795.4H130.8M125.6 790.2V800.6M126.2 799.5H136.6M131.4 794.3V804.7M127.6 800.3H138M132.8 795.1V805.5M132 801.8H142.4M137.2 796.6V807M152 818.6H162.4M157.2 813.4V823.8M159.1 822.3H169.5M164.3 817.1V827.5M161.9 824.5H172.3M167.1 819.3V829.7M165.3 829.4H175.7M170.5 824.2V834.6" stroke="#e31a1c" stroke-width="1.7" fill="none"/>
<path d="M112.9 760H123.3M118.1 754.8V765.2M128.7 779.9H139.1M133.9 774.7V785.1M143.7 809H154.1M148.9 803.8V814.2M152.8 825.6H163.2M158 820.4V830.8M157.8 825.6H168.2M163 820.4V830.8M168.6 825.6H179M173.8 820.4V830.8" stroke="#ff7f00" stroke-width="1.7" fill="none"/>
<path d="M81.4 670.3H91.8M86.6 665.1V675.5M84.4 670.8H94.8M89.6 665.6V676M107.1 691.5H117.5M112.3 686.3V696.7M112.1 705H122.5M117.3 699.8V710.2M115.4 707.5H125.8M120.6 702.3V712.7M118.8 713.1H129.2M124 707.9V718.3M132.9 722.3H143.3M138.1 717.1V727.5M137.9 741.4H148.3M143.1 736.2V746.6M139.8 746H150.2M145 740.8V751.2M149.5 757H159.9M154.7 751.8V762.2M155.3 758.8H165.7M160.5 753.6V764M158.6 759.3H169M163.8 754.1V764.5M162.8 762H173.2M168 756.8V767.2M177.7 769.6H188.1M182.9 764.4V774.8M182.7 773H193.1M187.9 767.8V778.2M185.8 773.3H196.2M191 768.1V778.5M188.8 773.5H199.2M194 768.3V778.7M191.8 773.7H202.2M197 768.5V778.9M194.3 773.8H204.7M199.5 768.6V779M199.8 779.6H210.2M205 774.4V784.8M202.3 779.6H212.7M207.5 774.4V784.8M210.8 779.6H221.2M216 774.4V784.8M219.8 779.6H230.2M225 774.4V784.8M223.8 779.6H234.2M229 774.4V784.8M248.8 779.6H259.2M254 774.4V784.8M270.8 804.2H281.2M276 799V809.4" stroke="#1f78b4" stroke-width="1.7" fill="none"/>
<line x1="62.6" y1="659.6" x2="62.6" y2="861.9" stroke="#000" stroke-width="2.1"/>
<line x1="61.6" y1="860.9" x2="321.7" y2="860.9" stroke="#000" stroke-width="1.9"/>
<line x1="58" y1="851.5" x2="62.5" y2="851.5" stroke="#000" stroke-width="1.8"/>
<text x="55.5" y="857" font-size="17.4" text-anchor="end">0.0</text>
<line x1="58" y1="814.8" x2="62.5" y2="814.8" stroke="#000" stroke-width="1.8"/>
<text x="55.5" y="820.3" font-size="17.4" text-anchor="end">0.2</text>
<line x1="58" y1="778.1" x2="62.5" y2="778.1" stroke="#000" stroke-width="1.8"/>
<text x="55.5" y="783.6" font-size="17.4" text-anchor="end">0.4</text>
<line x1="58" y1="741.4" x2="62.5" y2="741.4" stroke="#000" stroke-width="1.8"/>
<text x="55.5" y="746.9" font-size="17.4" text-anchor="end">0.6</text>
<line x1="58" y1="704.7" x2="62.5" y2="704.7" stroke="#000" stroke-width="1.8"/>
<text x="55.5" y="710.2" font-size="17.4" text-anchor="end">0.8</text>
<line x1="58" y1="668" x2="62.5" y2="668" stroke="#000" stroke-width="1.8"/>
<text x="55.5" y="673.5" font-size="17.4" text-anchor="end">1.0</text>
<line x1="74" y1="861" x2="74" y2="865.4" stroke="#000" stroke-width="1.8"/>
<text x="74" y="883.2" font-size="17.4" text-anchor="middle">0</text>
<line x1="95.6" y1="861" x2="95.6" y2="865.4" stroke="#000" stroke-width="1.8"/>
<text x="95.6" y="883.2" font-size="17.4" text-anchor="middle">2</text>
<line x1="117.2" y1="861" x2="117.2" y2="865.4" stroke="#000" stroke-width="1.8"/>
<text x="117.2" y="883.2" font-size="17.4" text-anchor="middle">4</text>
<line x1="138.8" y1="861" x2="138.8" y2="865.4" stroke="#000" stroke-width="1.8"/>
<text x="138.8" y="883.2" font-size="17.4" text-anchor="middle">6</text>
<line x1="160.4" y1="861" x2="160.4" y2="865.4" stroke="#000" stroke-width="1.8"/>
<text x="160.4" y="883.2" font-size="17.4" text-anchor="middle">8</text>
<line x1="182" y1="861" x2="182" y2="865.4" stroke="#000" stroke-width="1.8"/>
<text x="182" y="883.2" font-size="17.4" text-anchor="middle">10</text>
<line x1="203.6" y1="861" x2="203.6" y2="865.4" stroke="#000" stroke-width="1.8"/>
<text x="203.6" y="883.2" font-size="17.4" text-anchor="middle">12</text>
<line x1="225.2" y1="861" x2="225.2" y2="865.4" stroke="#000" stroke-width="1.8"/>
<text x="225.2" y="883.2" font-size="17.4" text-anchor="middle">14</text>
<line x1="246.8" y1="861" x2="246.8" y2="865.4" stroke="#000" stroke-width="1.8"/>
<text x="246.8" y="883.2" font-size="17.4" text-anchor="middle">16</text>
<line x1="268.4" y1="861" x2="268.4" y2="865.4" stroke="#000" stroke-width="1.8"/>
<text x="268.4" y="883.2" font-size="17.4" text-anchor="middle">18</text>
<line x1="290" y1="861" x2="290" y2="865.4" stroke="#000" stroke-width="1.8"/>
<text x="290" y="883.2" font-size="17.4" text-anchor="middle">20</text>
<text x="185.8" y="906.2" font-size="17.8" text-anchor="middle" font-style="italic">Years from diagnosis</text>
<text x="20.6" y="760" font-size="17.4" text-anchor="middle" font-style="italic" transform="rotate(-90 20.6 760)">Survival probability</text>
<text x="226.6" y="674" font-size="15.2" text-anchor="end">PPR</text>
<text x="226.6" y="693.2" font-size="15.2" text-anchor="end">IME</text>
<text x="226.6" y="713.7" font-size="15.2" text-anchor="end">AFM &amp; NEU</text>
<path d="M231 667.3 H237.2 V685.2 H231 M231 690.7 H237.2 V709 H231" fill="none" stroke="#000" stroke-width="1.4"/>
<text x="242" y="678.5" font-size="17.4"><tspan font-style="italic">p</tspan> = 0.415</text>
<text x="242" y="704.8" font-size="17.4"><tspan font-style="italic">p</tspan> = 7.61E-05</text>
<path d="M308.2 726.5 H329.4 M318.8 719.3 V733.7" stroke="#33a02c" stroke-width="3.7" fill="none"/>
<text x="336.9" y="731.8" font-size="15.4">IDHm-AFM</text>
<path d="M308.2 749.6 H329.4 M318.8 742.4 V756.8" stroke="#e31a1c" stroke-width="3.7" fill="none"/>
<text x="336.9" y="754.9" font-size="15.4">IDHm-PPR</text>
<path d="M308.2 773 H329.4 M318.8 765.8 V780.2" stroke="#ff7f00" stroke-width="3.7" fill="none"/>
<text x="336.9" y="778.3" font-size="15.4">IDHm-IME</text>
<path d="M308.2 796.2 H329.4 M318.8 789 V803.4" stroke="#1f78b4" stroke-width="3.7" fill="none"/>
<text x="336.9" y="801.5" font-size="15.4">IDHm-NEU</text>
</g>
<g id="panelE">
<text x="413.5" y="390" font-size="20.2" font-weight="bold">E</text>
<text x="631.3" y="388.5" font-size="19.8">CGGA (<tspan font-style="italic">n</tspan> = 273) Hazard Ratio</text>
<rect x="424.2" y="418.2" width="652.6" height="34.3" fill="#9bbbd9"/>
<rect x="424.2" y="486.8" width="652.6" height="34.3" fill="#9bbbd9"/>
<rect x="424.2" y="555.5" width="652.6" height="34.3" fill="#9bbbd9"/>
<rect x="424.2" y="624.1" width="652.6" height="34.3" fill="#9bbbd9"/>
<rect x="424.2" y="692.8" width="652.6" height="34.3" fill="#9bbbd9"/>
<rect x="424.2" y="761.4" width="652.6" height="34.3" fill="#9bbbd9"/>
<rect x="424.2" y="830" width="652.6" height="34.3" fill="#9bbbd9"/>
<line x1="736.3" y1="397" x2="736.3" y2="885.5" stroke="#bcbcbc" stroke-width="1.4" stroke-dasharray="1.3 3.2"/>
<line x1="896.5" y1="397" x2="896.5" y2="885.5" stroke="#bcbcbc" stroke-width="1.4" stroke-dasharray="1.3 3.2"/>
<line x1="1002.4" y1="397" x2="1002.4" y2="885.5" stroke="#bcbcbc" stroke-width="1.4" stroke-dasharray="1.3 3.2"/>
<line x1="816.4" y1="397" x2="816.4" y2="885.5" stroke="#000" stroke-width="1.8" stroke-dasharray="1.6 3.6"/>
<text x="433.6" y="440.8" font-size="15.2" font-weight="bold">ProteinCluster</text>
<text x="573.7" y="433.9" font-size="15.2" text-anchor="middle">AllOther</text>
<text x="573.7" y="447.2" font-size="15.2" text-anchor="middle" font-style="italic">(N=154)</text>
<text x="672.9" y="440.2" font-size="15.2" text-anchor="middle">Reference</text>
<path d="M810.4 435.4L816.4 429.2L822.4 435.4L816.4 441.6Z" fill="#000"/>
<text x="573.7" y="468.2" font-size="15.2" text-anchor="middle">IME</text>
<text x="573.7" y="481.5" font-size="15.2" text-anchor="middle" font-style="italic">(N=32)</text>
<text x="672.9" y="468.2" font-size="15.2" text-anchor="middle">2.55</text>
<text x="672.9" y="481.5" font-size="15.2" text-anchor="middle" font-style="italic">(1.54 – 4.21)</text>
<path d="M866.3 469.7H982.5M866.3 466.7V472.7M982.5 466.7V472.7" stroke="#000" stroke-width="1.7" fill="none"/>
<path d="M918.6 469.7L924.6 463.5L930.6 469.7L924.6 475.9Z" fill="#000"/>
<text x="994.4" y="474.9" font-size="15.2" font-style="italic">&lt; 0.001 ***</text>
<text x="573.7" y="502.5" font-size="15.2" text-anchor="middle">PPR</text>
<text x="573.7" y="515.8" font-size="15.2" text-anchor="middle" font-style="italic">(N=87)</text>
<text x="672.9" y="502.5" font-size="15.2" text-anchor="middle">2.57</text>
<text x="672.9" y="515.8" font-size="15.2" text-anchor="middle" font-style="italic">(1.73 – 3.82)</text>
<path d="M879.7 504H971.3M879.7 501V507M971.3 501V507" stroke="#000" stroke-width="1.7" fill="none"/>
<path d="M919.5 504L925.5 497.8L931.5 504L925.5 510.2Z" fill="#000"/>
<text x="994.4" y="509.2" font-size="15.2" font-style="italic">&lt; 0.001 ***</text>
<text x="433.6" y="542.5" font-size="15.2" font-weight="bold">Grade2021</text>
<text x="573.7" y="536.8" font-size="15.2" text-anchor="middle">G2</text>
<text x="573.7" y="550.1" font-size="15.2" text-anchor="middle" font-style="italic">(N=96)</text>
<text x="672.9" y="543.1" font-size="15.2" text-anchor="middle">Reference</text>
<path d="M810.4 538.3L816.4 532.1L822.4 538.3L816.4 544.5Z" fill="#000"/>
<text x="573.7" y="571.1" font-size="15.2" text-anchor="middle">G3</text>
<text x="573.7" y="584.4" font-size="15.2" text-anchor="middle" font-style="italic">(N=113)</text>
<text x="672.9" y="571.1" font-size="15.2" text-anchor="middle">1.69</text>
<text x="672.9" y="584.4" font-size="15.2" text-anchor="middle" font-style="italic">(1.10 – 2.59)</text>
<path d="M827.4 572.6H926.4M827.4 569.6V575.6M926.4 569.6V575.6" stroke="#000" stroke-width="1.7" fill="none"/>
<path d="M871 572.6L877 566.4L883 572.6L877 578.8Z" fill="#000"/>
<text x="994.4" y="577.8" font-size="15.2" font-style="italic">0.017 *</text>
<text x="573.7" y="605.5" font-size="15.2" text-anchor="middle">G4</text>
<text x="573.7" y="618.8" font-size="15.2" text-anchor="middle" font-style="italic">(N=62)</text>
<text x="672.9" y="605.5" font-size="15.2" text-anchor="middle">3.21</text>
<text x="672.9" y="618.8" font-size="15.2" text-anchor="middle" font-style="italic">(1.94 – 5.31)</text>
<path d="M893 607H1009.3M893 604V610M1009.3 604V610" stroke="#000" stroke-width="1.7" fill="none"/>
<path d="M945.2 607L951.2 600.8L957.2 607L951.2 613.2Z" fill="#000"/>
<text x="994.4" y="620.3" font-size="15.2" font-style="italic">&lt; 0.001 ***</text>
<text x="433.6" y="645.5" font-size="15.2" font-weight="bold">Radiotherapy</text>
<text x="573.7" y="639.8" font-size="15.2" text-anchor="middle">No</text>
<text x="573.7" y="653.1" font-size="15.2" text-anchor="middle" font-style="italic">(N=59)</text>
<text x="672.9" y="646.1" font-size="15.2" text-anchor="middle">Reference</text>
<path d="M810.4 641.3L816.4 635.1L822.4 641.3L816.4 647.5Z" fill="#000"/>
<text x="573.7" y="674.1" font-size="15.2" text-anchor="middle">Yes</text>
<text x="573.7" y="687.4" font-size="15.2" text-anchor="middle" font-style="italic">(N=199)</text>
<text x="672.9" y="674.1" font-size="15.2" text-anchor="middle">0.72</text>
<text x="672.9" y="687.4" font-size="15.2" text-anchor="middle" font-style="italic">(0.48 – 1.08)</text>
<path d="M731.6 675.6H825.3M731.6 672.6V678.6M825.3 672.6V678.6" stroke="#000" stroke-width="1.7" fill="none"/>
<path d="M772.4 675.6L778.4 669.4L784.4 675.6L778.4 681.8Z" fill="#000"/>
<text x="994.4" y="680.8" font-size="15.2" font-style="italic">0.113</text>
<text x="433.6" y="714.1" font-size="15.2" font-weight="bold">Chemotherapy</text>
<text x="573.7" y="708.4" font-size="15.2" text-anchor="middle">No</text>
<text x="573.7" y="721.7" font-size="15.2" text-anchor="middle" font-style="italic">(N=88)</text>
<text x="672.9" y="714.7" font-size="15.2" text-anchor="middle">Reference</text>
<path d="M810.4 709.9L816.4 703.7L822.4 709.9L816.4 716.1Z" fill="#000"/>
<text x="573.7" y="742.7" font-size="15.2" text-anchor="middle">Yes</text>
<text x="573.7" y="756" font-size="15.2" text-anchor="middle" font-style="italic">(N=169)</text>
<text x="672.9" y="742.7" font-size="15.2" text-anchor="middle">0.65</text>
<text x="672.9" y="756" font-size="15.2" text-anchor="middle" font-style="italic">(0.46 – 0.92)</text>
<path d="M726.7 744.2H806.8M726.7 741.2V747.2M806.8 741.2V747.2" stroke="#000" stroke-width="1.7" fill="none"/>
<path d="M760.6 744.2L766.6 738L772.6 744.2L766.6 750.4Z" fill="#000"/>
<text x="994.4" y="749.4" font-size="15.2" font-style="italic">0.016 *</text>
<text x="433.6" y="782.8" font-size="15.2" font-weight="bold">Age</text>
<text x="573.7" y="783.6" font-size="15.2" text-anchor="middle" font-style="italic">(N=273)</text>
<text x="672.9" y="777.1" font-size="15.2" text-anchor="middle">1.00</text>
<text x="672.9" y="790.4" font-size="15.2" text-anchor="middle" font-style="italic">(0.98 – 1.02)</text>
<path d="M814.1 778.6H818.7M814.1 775.6V781.6M818.7 775.6V781.6" stroke="#000" stroke-width="1.7" fill="none"/>
<path d="M810.4 778.6L816.4 772.4L822.4 778.6L816.4 784.8Z" fill="#000"/>
<text x="994.4" y="783.8" font-size="15.2" font-style="italic">0.916</text>
<text x="433.6" y="817.1" font-size="15.2" font-weight="bold">Gender</text>
<text x="573.7" y="811.4" font-size="15.2" text-anchor="middle">Female</text>
<text x="573.7" y="824.7" font-size="15.2" text-anchor="middle" font-style="italic">(N=104)</text>
<text x="672.9" y="817.7" font-size="15.2" text-anchor="middle">Reference</text>
<path d="M810.4 812.9L816.4 806.7L822.4 812.9L816.4 819.1Z" fill="#000"/>
<text x="573.7" y="845.7" font-size="15.2" text-anchor="middle">Male</text>
<text x="573.7" y="859" font-size="15.2" text-anchor="middle" font-style="italic">(N=169)</text>
<text x="672.9" y="845.7" font-size="15.2" text-anchor="middle">1.21</text>
<text x="672.9" y="859" font-size="15.2" text-anchor="middle" font-style="italic">(0.85 – 1.72)</text>
<path d="M797.6 847.2H879.1M797.6 844.2V850.2M879.1 844.2V850.2" stroke="#000" stroke-width="1.7" fill="none"/>
<path d="M832.4 847.2L838.4 841L844.4 847.2L838.4 853.4Z" fill="#000"/>
<text x="994.4" y="852.4" font-size="15.2" font-style="italic">0.297</text>
<line x1="736.3" y1="885.8" x2="736.3" y2="890" stroke="#000" stroke-width="1.3"/>
<text x="736.3" y="907.8" font-size="15.2" text-anchor="middle">0.5</text>
<line x1="816.4" y1="885.8" x2="816.4" y2="890" stroke="#000" stroke-width="1.3"/>
<text x="816.4" y="907.8" font-size="15.2" text-anchor="middle">1</text>
<line x1="896.5" y1="885.8" x2="896.5" y2="890" stroke="#000" stroke-width="1.3"/>
<text x="896.5" y="907.8" font-size="15.2" text-anchor="middle">2</text>
<line x1="1002.4" y1="885.8" x2="1002.4" y2="890" stroke="#000" stroke-width="1.3"/>
<text x="1002.4" y="907.8" font-size="15.2" text-anchor="middle">5</text>
</g>
<g id="panelF">
<text x="4.6" y="942.4" font-size="20.2" font-weight="bold">F</text>
<text x="88.2" y="942.3" font-size="17.4"><tspan font-style="italic">p</tspan> = 0.021</text>
<rect x="60.1" y="949.8" width="116.2" height="27.4" fill="#fff" stroke="#000" stroke-width="1.8"/>
<text x="121.2" y="970.6" font-size="17.4" text-anchor="middle">IDHm-AFM</text>
<path d="M91.3 1036.7V1100.8M91.3 1148.1V1220.5" stroke="#333" stroke-width="2.1" fill="none"/>
<rect x="80.6" y="1100.8" width="21.4" height="47.4" fill="none" stroke="#333" stroke-width="2.1"/>
<line x1="80.6" y1="1122" x2="102" y2="1122" stroke="#333" stroke-width="3.6"/>
<path d="M144.8 1115.1V1152.9M144.8 1193.2V1211.1" stroke="#333" stroke-width="2.1" fill="none"/>
<rect x="134.1" y="1152.9" width="21.4" height="40.3" fill="none" stroke="#333" stroke-width="2.1"/>
<line x1="134.1" y1="1181.1" x2="155.5" y2="1181.1" stroke="#333" stroke-width="3.6"/>
<path d="M91.3 1175.3L144.8 1153.1M91.3 1165.6L144.8 1148.9M91.3 1133L144.8 1140.8M91.3 1174.1L144.8 1164.9M91.3 1170.3L144.8 1179.8M91.3 1163.2L144.8 1180.2M91.3 1199.2L144.8 1194M91.3 1169.9L144.8 1190.1M91.3 1159.4L144.8 1155.8M91.3 1144.8L144.8 1164.7M91.3 1207.4L144.8 1174M91.3 1188.6L144.8 1185M91.3 1207.7L144.8 1169.4M91.3 1143.3L144.8 1145.1M91.3 1153.7L144.8 1185.7M91.3 1212L144.8 1203.1M91.3 1127.8L144.8 1135.6M91.3 1129.4L144.8 1154.8M91.3 1157.2L144.8 1145.7M91.3 1160.7L144.8 1172M91.3 1201.7L144.8 1204.2M91.3 1214.4L144.8 1186.4M91.3 1168.5L144.8 1159.3M91.3 1210.5L144.8 1199.8M91.3 1198.7L144.8 1202.3M91.3 1194.1L144.8 1189.8M91.3 1213.1L144.8 1171.6M91.3 1174.2L144.8 1162.8M91.3 1176.3L144.8 1190.9M91.3 1140.3L144.8 1169.3M91.3 1169.3L144.8 1188.5M91.3 1158.4L144.8 1185.3M91.3 1171L144.8 1159.7M91.3 1156.5L144.8 1179.4M91.3 1174.8L144.8 1171.5M91.3 1190.9L144.8 1183.5M91.3 1142.7L144.8 1074.4M91.3 1135.6L144.8 1089.7M91.3 1149.8L144.8 1095.6M91.3 1154.5L144.8 1093.2M91.3 1215.8L144.8 1208.7" stroke="#a8a8a8" stroke-width="0.9" stroke-dasharray="4 2.4" fill="none"/>
<path d="M91.3 1036.7L144.8 1173.4M91.3 1040.2L144.8 1180.4M91.3 1068.5L144.8 1161.6M91.3 1087.3L144.8 1192.2M91.3 1102.7L144.8 1149.8M91.3 1107.4L144.8 1187.5M91.3 1109.7L144.8 1168.6M91.3 1112.1L144.8 1175.7M91.3 1130.9L144.8 1182.8M91.3 1138L144.8 1211.1M91.3 1149.8L144.8 1196.9M91.3 1187.5L144.8 1114.4M91.3 1204L144.8 1138M91.3 1208.7L144.8 1142.7M91.3 1213.4L144.8 1056.7M91.3 1215.8L144.8 1154.5M91.3 1123.9L144.8 1189.9M91.3 1116.8L144.8 1163.9" stroke="#111" stroke-width="1.1" stroke-dasharray="4.4 2.4" fill="none"/>
<g fill="#1192f6" fill-opacity="0.66">
<circle cx="91.3" cy="1175.3" r="3.75"/>
<circle cx="91.3" cy="1165.6" r="3.75"/>
<circle cx="91.3" cy="1133" r="3.75"/>
<circle cx="91.3" cy="1174.1" r="3.75"/>
<circle cx="91.3" cy="1170.3" r="3.75"/>
<circle cx="91.3" cy="1163.2" r="3.75"/>
<circle cx="91.3" cy="1199.2" r="3.75"/>
<circle cx="91.3" cy="1169.9" r="3.75"/>
<circle cx="91.3" cy="1159.4" r="3.75"/>
<circle cx="91.3" cy="1144.8" r="3.75"/>
<circle cx="91.3" cy="1207.4" r="3.75"/>
<circle cx="91.3" cy="1188.6" r="3.75"/>
<circle cx="91.3" cy="1207.7" r="3.75"/>
<circle cx="91.3" cy="1143.3" r="3.75"/>
<circle cx="91.3" cy="1153.7" r="3.75"/>
<circle cx="91.3" cy="1212" r="3.75"/>
<circle cx="91.3" cy="1127.8" r="3.75"/>
<circle cx="91.3" cy="1129.4" r="3.75"/>
<circle cx="91.3" cy="1157.2" r="3.75"/>
<circle cx="91.3" cy="1160.7" r="3.75"/>
<circle cx="91.3" cy="1201.7" r="3.75"/>
<circle cx="91.3" cy="1214.4" r="3.75"/>
<circle cx="91.3" cy="1168.5" r="3.75"/>
<circle cx="91.3" cy="1210.5" r="3.75"/>
<circle cx="91.3" cy="1198.7" r="3.75"/>
<circle cx="91.3" cy="1194.1" r="3.75"/>
<circle cx="91.3" cy="1213.1" r="3.75"/>
<circle cx="91.3" cy="1174.2" r="3.75"/>
<circle cx="91.3" cy="1176.3" r="3.75"/>
<circle cx="91.3" cy="1140.3" r="3.75"/>
<circle cx="91.3" cy="1169.3" r="3.75"/>
<circle cx="91.3" cy="1158.4" r="3.75"/>
<circle cx="91.3" cy="1171" r="3.75"/>
<circle cx="91.3" cy="1156.5" r="3.75"/>
<circle cx="91.3" cy="1174.8" r="3.75"/>
<circle cx="91.3" cy="1190.9" r="3.75"/>
<circle cx="91.3" cy="1142.7" r="3.75"/>
<circle cx="91.3" cy="1135.6" r="3.75"/>
<circle cx="91.3" cy="1149.8" r="3.75"/>
<circle cx="91.3" cy="1154.5" r="3.75"/>
<circle cx="91.3" cy="1215.8" r="3.75"/>
</g>
<g fill="#1192f6" fill-opacity="0.78" stroke="#222" stroke-width="0.7" stroke-opacity="0.85">
<circle cx="91.3" cy="1036.7" r="3.5"/>
<circle cx="91.3" cy="1040.2" r="3.5"/>
<circle cx="91.3" cy="1068.5" r="3.5"/>
<circle cx="91.3" cy="1087.3" r="3.5"/>
<circle cx="91.3" cy="1102.7" r="3.5"/>
<circle cx="91.3" cy="1107.4" r="3.5"/>
<circle cx="91.3" cy="1109.7" r="3.5"/>
<circle cx="91.3" cy="1112.1" r="3.5"/>
<circle cx="91.3" cy="1130.9" r="3.5"/>
<circle cx="91.3" cy="1138" r="3.5"/>
<circle cx="91.3" cy="1149.8" r="3.5"/>
<circle cx="91.3" cy="1187.5" r="3.5"/>
<circle cx="91.3" cy="1204" r="3.5"/>
<circle cx="91.3" cy="1208.7" r="3.5"/>
<circle cx="91.3" cy="1213.4" r="3.5"/>
<circle cx="91.3" cy="1215.8" r="3.5"/>
<circle cx="91.3" cy="1123.9" r="3.5"/>
<circle cx="91.3" cy="1116.8" r="3.5"/>
</g>
<g fill="#f95f4e" fill-opacity="0.66">
<circle cx="144.8" cy="1153.1" r="3.75"/>
<circle cx="144.8" cy="1148.9" r="3.75"/>
<circle cx="144.8" cy="1140.8" r="3.75"/>
<circle cx="144.8" cy="1164.9" r="3.75"/>
<circle cx="144.8" cy="1179.8" r="3.75"/>
<circle cx="144.8" cy="1180.2" r="3.75"/>
<circle cx="144.8" cy="1194" r="3.75"/>
<circle cx="144.8" cy="1190.1" r="3.75"/>
<circle cx="144.8" cy="1155.8" r="3.75"/>
<circle cx="144.8" cy="1164.7" r="3.75"/>
<circle cx="144.8" cy="1174" r="3.75"/>
<circle cx="144.8" cy="1185" r="3.75"/>
<circle cx="144.8" cy="1169.4" r="3.75"/>
<circle cx="144.8" cy="1145.1" r="3.75"/>
<circle cx="144.8" cy="1185.7" r="3.75"/>
<circle cx="144.8" cy="1203.1" r="3.75"/>
<circle cx="144.8" cy="1135.6" r="3.75"/>
<circle cx="144.8" cy="1154.8" r="3.75"/>
<circle cx="144.8" cy="1145.7" r="3.75"/>
<circle cx="144.8" cy="1172" r="3.75"/>
<circle cx="144.8" cy="1204.2" r="3.75"/>
<circle cx="144.8" cy="1186.4" r="3.75"/>
<circle cx="144.8" cy="1159.3" r="3.75"/>
<circle cx="144.8" cy="1199.8" r="3.75"/>
<circle cx="144.8" cy="1202.3" r="3.75"/>
<circle cx="144.8" cy="1189.8" r="3.75"/>
<circle cx="144.8" cy="1171.6" r="3.75"/>
<circle cx="144.8" cy="1162.8" r="3.75"/>
<circle cx="144.8" cy="1190.9" r="3.75"/>
<circle cx="144.8" cy="1169.3" r="3.75"/>
<circle cx="144.8" cy="1188.5" r="3.75"/>
<circle cx="144.8" cy="1185.3" r="3.75"/>
<circle cx="144.8" cy="1159.7" r="3.75"/>
<circle cx="144.8" cy="1179.4" r="3.75"/>
<circle cx="144.8" cy="1171.5" r="3.75"/>
<circle cx="144.8" cy="1183.5" r="3.75"/>
<circle cx="144.8" cy="1074.4" r="3.75"/>
<circle cx="144.8" cy="1089.7" r="3.75"/>
<circle cx="144.8" cy="1095.6" r="3.75"/>
<circle cx="144.8" cy="1093.2" r="3.75"/>
<circle cx="144.8" cy="1208.7" r="3.75"/>
</g>
<g fill="#f95f4e" fill-opacity="0.78" stroke="#222" stroke-width="0.7" stroke-opacity="0.85">
<circle cx="144.8" cy="1173.4" r="3.5"/>
<circle cx="144.8" cy="1180.4" r="3.5"/>
<circle cx="144.8" cy="1161.6" r="3.5"/>
<circle cx="144.8" cy="1192.2" r="3.5"/>
<circle cx="144.8" cy="1149.8" r="3.5"/>
<circle cx="144.8" cy="1187.5" r="3.5"/>
<circle cx="144.8" cy="1168.6" r="3.5"/>
<circle cx="144.8" cy="1175.7" r="3.5"/>
<circle cx="144.8" cy="1182.8" r="3.5"/>
<circle cx="144.8" cy="1211.1" r="3.5"/>
<circle cx="144.8" cy="1196.9" r="3.5"/>
<circle cx="144.8" cy="1114.4" r="3.5"/>
<circle cx="144.8" cy="1138" r="3.5"/>
<circle cx="144.8" cy="1142.7" r="3.5"/>
<circle cx="144.8" cy="1056.7" r="3.5"/>
<circle cx="144.8" cy="1154.5" r="3.5"/>
<circle cx="144.8" cy="1189.9" r="3.5"/>
<circle cx="144.8" cy="1163.9" r="3.5"/>
</g>
<line x1="59" y1="1220.5" x2="176.3" y2="1220.5" stroke="#000" stroke-width="1.8"/>
<line x1="91.3" y1="1220.5" x2="91.3" y2="1225" stroke="#000" stroke-width="1.5"/>
<text x="98.5" y="1238.8" font-size="17.4" text-anchor="end" transform="rotate(-30 98.5 1238.8)">Initial</text>
<line x1="144.8" y1="1220.5" x2="144.8" y2="1225" stroke="#000" stroke-width="1.5"/>
<text x="152" y="1238.8" font-size="17.4" text-anchor="end" transform="rotate(-30 152 1238.8)">Recur</text>
<text x="214.2" y="942.3" font-size="17.4"><tspan font-style="italic">p</tspan> = 0.16</text>
<rect x="186.1" y="949.8" width="116.2" height="27.4" fill="#fff" stroke="#000" stroke-width="1.8"/>
<text x="247.2" y="970.6" font-size="17.4" text-anchor="middle">IDHm-PPR</text>
<path d="M217.3 1006V1093.2M217.3 1204V1220.5" stroke="#333" stroke-width="2.1" fill="none"/>
<rect x="206.6" y="1093.2" width="21.4" height="110.8" fill="none" stroke="#333" stroke-width="2.1"/>
<line x1="206.6" y1="1161.3" x2="228" y2="1161.3" stroke="#333" stroke-width="3.6"/>
<path d="M270.8 1025.8V1079.1M270.8 1163.9V1218.9" stroke="#333" stroke-width="2.1" fill="none"/>
<rect x="260.1" y="1079.1" width="21.4" height="84.9" fill="none" stroke="#333" stroke-width="2.1"/>
<line x1="260.1" y1="1130.9" x2="281.5" y2="1130.9" stroke="#333" stroke-width="3.6"/>
<path d="M217.3 1109.7L270.8 1114.4M217.3 1119.1L270.8 1097.9M217.3 1161.6L270.8 1168.6M217.3 1166.3L270.8 1185.1M217.3 1171L270.8 1161.6M217.3 1173.4L270.8 1196.9M217.3 1175.7L270.8 1201.6M217.3 1180.4L270.8 1189.9M217.3 1168.6L270.8 1178.1M217.3 1163.9L270.8 1149.8M217.3 1215.8L270.8 1215.8M217.3 1217L270.8 1208.7M217.3 1213.4L270.8 1218.1M217.3 1218.1L270.8 1213.4M217.3 1173.4L270.8 1044.9M217.3 1159.2L270.8 1055.5M217.3 1178.1L270.8 1206.4M217.3 1185.1L270.8 1196.9" stroke="#a8a8a8" stroke-width="0.9" stroke-dasharray="4 2.4" fill="none"/>
<path d="M217.3 1006L270.8 1130.9M217.3 1024.9L270.8 1079.1M217.3 1035.5L270.8 1025.8M217.3 1036.7L270.8 1149.8M217.3 1057.9L270.8 1044.9M217.3 1072L270.8 1109.7M217.3 1073.2L270.8 1168.6M217.3 1092L270.8 1067.3M217.3 1093.2L270.8 1192.2M217.3 1145.1L270.8 1072M217.3 1147.4L270.8 1218.1M217.3 1149.8L270.8 1088.5M217.3 1159.2L270.8 1121.5M217.3 1182.8L270.8 1097.9M217.3 1194.6L270.8 1138M217.3 1196.9L270.8 1036.7M217.3 1199.3L270.8 1067.3M217.3 1201.6L270.8 1079.1M217.3 1204L270.8 1109.7M217.3 1206.4L270.8 1119.1M217.3 1208.7L270.8 1053.2M217.3 1211.1L270.8 1161.6M217.3 1213.4L270.8 1130.9M217.3 1215.8L270.8 1154.5M217.3 1218.1L270.8 1173.4M217.3 1204L270.8 1180.4M217.3 1208.7L270.8 1142.7M217.3 1213.4L270.8 1074.4" stroke="#111" stroke-width="1.1" stroke-dasharray="4.4 2.4" fill="none"/>
<g fill="#1192f6" fill-opacity="0.66">
<circle cx="217.3" cy="1109.7" r="3.75"/>
<circle cx="217.3" cy="1119.1" r="3.75"/>
<circle cx="217.3" cy="1161.6" r="3.75"/>
<circle cx="217.3" cy="1166.3" r="3.75"/>
<circle cx="217.3" cy="1171" r="3.75"/>
<circle cx="217.3" cy="1173.4" r="3.75"/>
<circle cx="217.3" cy="1175.7" r="3.75"/>
<circle cx="217.3" cy="1180.4" r="3.75"/>
<circle cx="217.3" cy="1168.6" r="3.75"/>
<circle cx="217.3" cy="1163.9" r="3.75"/>
<circle cx="217.3" cy="1215.8" r="3.75"/>
<circle cx="217.3" cy="1217" r="3.75"/>
<circle cx="217.3" cy="1213.4" r="3.75"/>
<circle cx="217.3" cy="1218.1" r="3.75"/>
<circle cx="217.3" cy="1173.4" r="3.75"/>
<circle cx="217.3" cy="1159.2" r="3.75"/>
<circle cx="217.3" cy="1178.1" r="3.75"/>
<circle cx="217.3" cy="1185.1" r="3.75"/>
</g>
<g fill="#1192f6" fill-opacity="0.78" stroke="#222" stroke-width="0.7" stroke-opacity="0.85">
<circle cx="217.3" cy="1006" r="3.5"/>
<circle cx="217.3" cy="1024.9" r="3.5"/>
<circle cx="217.3" cy="1035.5" r="3.5"/>
<circle cx="217.3" cy="1036.7" r="3.5"/>
<circle cx="217.3" cy="1057.9" r="3.5"/>
<circle cx="217.3" cy="1072" r="3.5"/>
<circle cx="217.3" cy="1073.2" r="3.5"/>
<circle cx="217.3" cy="1092" r="3.5"/>
<circle cx="217.3" cy="1093.2" r="3.5"/>
<circle cx="217.3" cy="1145.1" r="3.5"/>
<circle cx="217.3" cy="1147.4" r="3.5"/>
<circle cx="217.3" cy="1149.8" r="3.5"/>
<circle cx="217.3" cy="1159.2" r="3.5"/>
<circle cx="217.3" cy="1182.8" r="3.5"/>
<circle cx="217.3" cy="1194.6" r="3.5"/>
<circle cx="217.3" cy="1196.9" r="3.5"/>
<circle cx="217.3" cy="1199.3" r="3.5"/>
<circle cx="217.3" cy="1201.6" r="3.5"/>
<circle cx="217.3" cy="1204" r="3.5"/>
<circle cx="217.3" cy="1206.4" r="3.5"/>
<circle cx="217.3" cy="1208.7" r="3.5"/>
<circle cx="217.3" cy="1211.1" r="3.5"/>
<circle cx="217.3" cy="1213.4" r="3.5"/>
<circle cx="217.3" cy="1215.8" r="3.5"/>
<circle cx="217.3" cy="1218.1" r="3.5"/>
<circle cx="217.3" cy="1204" r="3.5"/>
<circle cx="217.3" cy="1208.7" r="3.5"/>
<circle cx="217.3" cy="1213.4" r="3.5"/>
</g>
<g fill="#f95f4e" fill-opacity="0.66">
<circle cx="270.8" cy="1114.4" r="3.75"/>
<circle cx="270.8" cy="1097.9" r="3.75"/>
<circle cx="270.8" cy="1168.6" r="3.75"/>
<circle cx="270.8" cy="1185.1" r="3.75"/>
<circle cx="270.8" cy="1161.6" r="3.75"/>
<circle cx="270.8" cy="1196.9" r="3.75"/>
<circle cx="270.8" cy="1201.6" r="3.75"/>
<circle cx="270.8" cy="1189.9" r="3.75"/>
<circle cx="270.8" cy="1178.1" r="3.75"/>
<circle cx="270.8" cy="1149.8" r="3.75"/>
<circle cx="270.8" cy="1215.8" r="3.75"/>
<circle cx="270.8" cy="1208.7" r="3.75"/>
<circle cx="270.8" cy="1218.1" r="3.75"/>
<circle cx="270.8" cy="1213.4" r="3.75"/>
<circle cx="270.8" cy="1044.9" r="3.75"/>
<circle cx="270.8" cy="1055.5" r="3.75"/>
<circle cx="270.8" cy="1206.4" r="3.75"/>
<circle cx="270.8" cy="1196.9" r="3.75"/>
</g>
<g fill="#f95f4e" fill-opacity="0.78" stroke="#222" stroke-width="0.7" stroke-opacity="0.85">
<circle cx="270.8" cy="1130.9" r="3.5"/>
<circle cx="270.8" cy="1079.1" r="3.5"/>
<circle cx="270.8" cy="1025.8" r="3.5"/>
<circle cx="270.8" cy="1149.8" r="3.5"/>
<circle cx="270.8" cy="1044.9" r="3.5"/>
<circle cx="270.8" cy="1109.7" r="3.5"/>
<circle cx="270.8" cy="1168.6" r="3.5"/>
<circle cx="270.8" cy="1067.3" r="3.5"/>
<circle cx="270.8" cy="1192.2" r="3.5"/>
<circle cx="270.8" cy="1072" r="3.5"/>
<circle cx="270.8" cy="1218.1" r="3.5"/>
<circle cx="270.8" cy="1088.5" r="3.5"/>
<circle cx="270.8" cy="1121.5" r="3.5"/>
<circle cx="270.8" cy="1097.9" r="3.5"/>
<circle cx="270.8" cy="1138" r="3.5"/>
<circle cx="270.8" cy="1036.7" r="3.5"/>
<circle cx="270.8" cy="1067.3" r="3.5"/>
<circle cx="270.8" cy="1079.1" r="3.5"/>
<circle cx="270.8" cy="1109.7" r="3.5"/>
<circle cx="270.8" cy="1119.1" r="3.5"/>
<circle cx="270.8" cy="1053.2" r="3.5"/>
<circle cx="270.8" cy="1161.6" r="3.5"/>
<circle cx="270.8" cy="1130.9" r="3.5"/>
<circle cx="270.8" cy="1154.5" r="3.5"/>
<circle cx="270.8" cy="1173.4" r="3.5"/>
<circle cx="270.8" cy="1180.4" r="3.5"/>
<circle cx="270.8" cy="1142.7" r="3.5"/>
<circle cx="270.8" cy="1074.4" r="3.5"/>
</g>
<line x1="185.8" y1="1220.5" x2="302.3" y2="1220.5" stroke="#000" stroke-width="1.8"/>
<line x1="217.3" y1="1220.5" x2="217.3" y2="1225" stroke="#000" stroke-width="1.5"/>
<text x="224.5" y="1238.8" font-size="17.4" text-anchor="end" transform="rotate(-30 224.5 1238.8)">Initial</text>
<line x1="270.8" y1="1220.5" x2="270.8" y2="1225" stroke="#000" stroke-width="1.5"/>
<text x="278" y="1238.8" font-size="17.4" text-anchor="end" transform="rotate(-30 278 1238.8)">Recur</text>
<text x="340.2" y="942.3" font-size="17.4"><tspan font-style="italic">p</tspan> = 0.12</text>
<rect x="312.1" y="949.8" width="116.2" height="27.4" fill="#fff" stroke="#000" stroke-width="1.8"/>
<text x="373.2" y="970.6" font-size="17.4" text-anchor="middle">IDHm-IME</text>
<rect x="332.2" y="1191.3" width="21.4" height="9.7" fill="none" stroke="#333" stroke-width="2.1"/>
<line x1="332.2" y1="1199.3" x2="353.6" y2="1199.3" stroke="#333" stroke-width="3.6"/>
<rect x="385.3" y="1109.7" width="21.4" height="11.1" fill="none" stroke="#333" stroke-width="2.1"/>
<line x1="385.3" y1="1111.1" x2="406.7" y2="1111.1" stroke="#333" stroke-width="3.6"/>
<path d="M342.9 1199.4L396 1194.8M342.9 1166.2L396 1125.6M342.9 1203L396 1176.9M342.9 1171.6L396 1164.7M342.9 1203.9L396 1204.6M342.9 1185.3L396 1151.2M342.9 1198L396 1205.4M342.9 1194.5L396 1191.8M342.9 1151.6L396 1127.8M342.9 1161.8L396 1119.4M342.9 1192.4L396 1165.1M342.9 1156.8L396 1150.8M342.9 1198.2L396 1151.6M342.9 1186.9L396 1185.7M342.9 1158.7L396 1169.4M342.9 1171.7L396 1166.4M342.9 1204.9L396 1188.3M342.9 1150.4L396 1158.4M342.9 1198L396 1198.6M342.9 1195.2L396 1183.6M342.9 1163.7L396 1139.1M342.9 1190.9L396 1194.3M342.9 1192.9L396 1181.7M342.9 1206.6L396 1161.7M342.9 1205.5L396 1154.9M342.9 1175.4L396 1145.3M342.9 1196.2L396 1164M342.9 1174.2L396 1148.8M342.9 1188.3L396 1191.1M342.9 1183.3L396 1192.9M342.9 1152.3L396 1162.9M342.9 1181.4L396 1135.3M342.9 1175.9L396 1143M342.9 1158L396 1114.4M342.9 1199.9L396 1206.4M342.9 1201.6L396 1172.9M342.9 1155.4L396 1136.5M342.9 1161L396 1126.3M342.9 1195.8L396 1187.3M342.9 1199.4L396 1147.6M342.9 1165.8L396 1172.8M342.9 1153.4L396 1130.5M342.9 1199L396 1163.9M342.9 1152.8L396 1114.4M342.9 1157L396 1121.9M342.9 1174.1L396 1141.1M342.9 1185.2L396 1146.5M342.9 1204.7L396 1158.3M342.9 1208.7L396 1198.1M342.9 1152.1L396 1120.3M342.9 1196.5L396 1150.9M342.9 1167.9L396 1124.2M342.9 1138L396 1126.2M342.9 1126.2L396 1119.1M342.9 1121.5L396 1149.8M342.9 1106.9L396 1097.9M342.9 1067.1L396 1102.7M342.9 1149.8L396 1088.5M342.9 1154.5L396 1103.8" stroke="#a8a8a8" stroke-width="0.9" stroke-dasharray="4 2.4" fill="none"/>
<path d="M342.9 1168.2L396 1105M342.9 1199.3L396 1114.4M342.9 1198.3L396 1112.5M342.9 1197.4L396 1109.7M342.9 1200.2L396 1111.4M342.9 1206.4L396 1137.3M342.9 1196.9L396 1116.8M342.9 1199.3L396 1105" stroke="#111" stroke-width="1.1" stroke-dasharray="4.4 2.4" fill="none"/>
<g fill="#1192f6" fill-opacity="0.66">
<circle cx="342.9" cy="1199.4" r="3.75"/>
<circle cx="342.9" cy="1166.2" r="3.75"/>
<circle cx="342.9" cy="1203" r="3.75"/>
<circle cx="342.9" cy="1171.6" r="3.75"/>
<circle cx="342.9" cy="1203.9" r="3.75"/>
<circle cx="342.9" cy="1185.3" r="3.75"/>
<circle cx="342.9" cy="1198" r="3.75"/>
<circle cx="342.9" cy="1194.5" r="3.75"/>
<circle cx="342.9" cy="1151.6" r="3.75"/>
<circle cx="342.9" cy="1161.8" r="3.75"/>
<circle cx="342.9" cy="1192.4" r="3.75"/>
<circle cx="342.9" cy="1156.8" r="3.75"/>
<circle cx="342.9" cy="1198.2" r="3.75"/>
<circle cx="342.9" cy="1186.9" r="3.75"/>
<circle cx="342.9" cy="1158.7" r="3.75"/>
<circle cx="342.9" cy="1171.7" r="3.75"/>
<circle cx="342.9" cy="1204.9" r="3.75"/>
<circle cx="342.9" cy="1150.4" r="3.75"/>
<circle cx="342.9" cy="1198" r="3.75"/>
<circle cx="342.9" cy="1195.2" r="3.75"/>
<circle cx="342.9" cy="1163.7" r="3.75"/>
<circle cx="342.9" cy="1190.9" r="3.75"/>
<circle cx="342.9" cy="1192.9" r="3.75"/>
<circle cx="342.9" cy="1206.6" r="3.75"/>
<circle cx="342.9" cy="1205.5" r="3.75"/>
<circle cx="342.9" cy="1175.4" r="3.75"/>
<circle cx="342.9" cy="1196.2" r="3.75"/>
<circle cx="342.9" cy="1174.2" r="3.75"/>
<circle cx="342.9" cy="1188.3" r="3.75"/>
<circle cx="342.9" cy="1183.3" r="3.75"/>
<circle cx="342.9" cy="1152.3" r="3.75"/>
<circle cx="342.9" cy="1181.4" r="3.75"/>
<circle cx="342.9" cy="1175.9" r="3.75"/>
<circle cx="342.9" cy="1158" r="3.75"/>
<circle cx="342.9" cy="1199.9" r="3.75"/>
<circle cx="342.9" cy="1201.6" r="3.75"/>
<circle cx="342.9" cy="1155.4" r="3.75"/>
<circle cx="342.9" cy="1161" r="3.75"/>
<circle cx="342.9" cy="1195.8" r="3.75"/>
<circle cx="342.9" cy="1199.4" r="3.75"/>
<circle cx="342.9" cy="1165.8" r="3.75"/>
<circle cx="342.9" cy="1153.4" r="3.75"/>
<circle cx="342.9" cy="1199" r="3.75"/>
<circle cx="342.9" cy="1152.8" r="3.75"/>
<circle cx="342.9" cy="1157" r="3.75"/>
<circle cx="342.9" cy="1174.1" r="3.75"/>
<circle cx="342.9" cy="1185.2" r="3.75"/>
<circle cx="342.9" cy="1204.7" r="3.75"/>
<circle cx="342.9" cy="1208.7" r="3.75"/>
<circle cx="342.9" cy="1152.1" r="3.75"/>
<circle cx="342.9" cy="1196.5" r="3.75"/>
<circle cx="342.9" cy="1167.9" r="3.75"/>
<circle cx="342.9" cy="1138" r="3.75"/>
<circle cx="342.9" cy="1126.2" r="3.75"/>
<circle cx="342.9" cy="1121.5" r="3.75"/>
<circle cx="342.9" cy="1106.9" r="3.75"/>
<circle cx="342.9" cy="1067.1" r="3.75"/>
<circle cx="342.9" cy="1149.8" r="3.75"/>
<circle cx="342.9" cy="1154.5" r="3.75"/>
</g>
<g fill="#1192f6" fill-opacity="0.78" stroke="#222" stroke-width="0.7" stroke-opacity="0.85">
<circle cx="342.9" cy="1168.2" r="3.5"/>
<circle cx="342.9" cy="1199.3" r="3.5"/>
<circle cx="342.9" cy="1198.3" r="3.5"/>
<circle cx="342.9" cy="1197.4" r="3.5"/>
<circle cx="342.9" cy="1200.2" r="3.5"/>
<circle cx="342.9" cy="1206.4" r="3.5"/>
<circle cx="342.9" cy="1196.9" r="3.5"/>
<circle cx="342.9" cy="1199.3" r="3.5"/>
</g>
<g fill="#f95f4e" fill-opacity="0.66">
<circle cx="396" cy="1194.8" r="3.75"/>
<circle cx="396" cy="1125.6" r="3.75"/>
<circle cx="396" cy="1176.9" r="3.75"/>
<circle cx="396" cy="1164.7" r="3.75"/>
<circle cx="396" cy="1204.6" r="3.75"/>
<circle cx="396" cy="1151.2" r="3.75"/>
<circle cx="396" cy="1205.4" r="3.75"/>
<circle cx="396" cy="1191.8" r="3.75"/>
<circle cx="396" cy="1127.8" r="3.75"/>
<circle cx="396" cy="1119.4" r="3.75"/>
<circle cx="396" cy="1165.1" r="3.75"/>
<circle cx="396" cy="1150.8" r="3.75"/>
<circle cx="396" cy="1151.6" r="3.75"/>
<circle cx="396" cy="1185.7" r="3.75"/>
<circle cx="396" cy="1169.4" r="3.75"/>
<circle cx="396" cy="1166.4" r="3.75"/>
<circle cx="396" cy="1188.3" r="3.75"/>
<circle cx="396" cy="1158.4" r="3.75"/>
<circle cx="396" cy="1198.6" r="3.75"/>
<circle cx="396" cy="1183.6" r="3.75"/>
<circle cx="396" cy="1139.1" r="3.75"/>
<circle cx="396" cy="1194.3" r="3.75"/>
<circle cx="396" cy="1181.7" r="3.75"/>
<circle cx="396" cy="1161.7" r="3.75"/>
<circle cx="396" cy="1154.9" r="3.75"/>
<circle cx="396" cy="1145.3" r="3.75"/>
<circle cx="396" cy="1164" r="3.75"/>
<circle cx="396" cy="1148.8" r="3.75"/>
<circle cx="396" cy="1191.1" r="3.75"/>
<circle cx="396" cy="1192.9" r="3.75"/>
<circle cx="396" cy="1162.9" r="3.75"/>
<circle cx="396" cy="1135.3" r="3.75"/>
<circle cx="396" cy="1143" r="3.75"/>
<circle cx="396" cy="1114.4" r="3.75"/>
<circle cx="396" cy="1206.4" r="3.75"/>
<circle cx="396" cy="1172.9" r="3.75"/>
<circle cx="396" cy="1136.5" r="3.75"/>
<circle cx="396" cy="1126.3" r="3.75"/>
<circle cx="396" cy="1187.3" r="3.75"/>
<circle cx="396" cy="1147.6" r="3.75"/>
<circle cx="396" cy="1172.8" r="3.75"/>
<circle cx="396" cy="1130.5" r="3.75"/>
<circle cx="396" cy="1163.9" r="3.75"/>
<circle cx="396" cy="1114.4" r="3.75"/>
<circle cx="396" cy="1121.9" r="3.75"/>
<circle cx="396" cy="1141.1" r="3.75"/>
<circle cx="396" cy="1146.5" r="3.75"/>
<circle cx="396" cy="1158.3" r="3.75"/>
<circle cx="396" cy="1198.1" r="3.75"/>
<circle cx="396" cy="1120.3" r="3.75"/>
<circle cx="396" cy="1150.9" r="3.75"/>
<circle cx="396" cy="1124.2" r="3.75"/>
<circle cx="396" cy="1126.2" r="3.75"/>
<circle cx="396" cy="1119.1" r="3.75"/>
<circle cx="396" cy="1149.8" r="3.75"/>
<circle cx="396" cy="1097.9" r="3.75"/>
<circle cx="396" cy="1102.7" r="3.75"/>
<circle cx="396" cy="1088.5" r="3.75"/>
<circle cx="396" cy="1103.8" r="3.75"/>
</g>
<g fill="#f95f4e" fill-opacity="0.78" stroke="#222" stroke-width="0.7" stroke-opacity="0.85">
<circle cx="396" cy="1105" r="3.5"/>
<circle cx="396" cy="1114.4" r="3.5"/>
<circle cx="396" cy="1112.5" r="3.5"/>
<circle cx="396" cy="1109.7" r="3.5"/>
<circle cx="396" cy="1111.4" r="3.5"/>
<circle cx="396" cy="1137.3" r="3.5"/>
<circle cx="396" cy="1116.8" r="3.5"/>
<circle cx="396" cy="1105" r="3.5"/>
</g>
<line x1="311.8" y1="1220.5" x2="428.3" y2="1220.5" stroke="#000" stroke-width="1.8"/>
<line x1="342.9" y1="1220.5" x2="342.9" y2="1225" stroke="#000" stroke-width="1.5"/>
<text x="350.1" y="1238.8" font-size="17.4" text-anchor="end" transform="rotate(-30 350.1 1238.8)">Initial</text>
<line x1="396" y1="1220.5" x2="396" y2="1225" stroke="#000" stroke-width="1.5"/>
<text x="403.2" y="1238.8" font-size="17.4" text-anchor="end" transform="rotate(-30 403.2 1238.8)">Recur</text>
<text x="466.2" y="942.3" font-size="17.4"><tspan font-style="italic">p</tspan> = 0.11</text>
<rect x="438.1" y="949.8" width="116.2" height="27.4" fill="#fff" stroke="#000" stroke-width="1.8"/>
<text x="499.2" y="970.6" font-size="17.4" text-anchor="middle">IDHm-NEU</text>
<path d="M468.9 1007.4V1046.3M468.9 1170.1V1220.5" stroke="#333" stroke-width="2.1" fill="none"/>
<rect x="458.2" y="1046.3" width="21.4" height="123.7" fill="none" stroke="#333" stroke-width="2.1"/>
<line x1="458.2" y1="1092.8" x2="479.6" y2="1092.8" stroke="#333" stroke-width="3.6"/>
<path d="M522.4 1048.4V1134M522.4 1191.3V1211.1" stroke="#333" stroke-width="2.1" fill="none"/>
<rect x="511.7" y="1134" width="21.4" height="57.3" fill="none" stroke="#333" stroke-width="2.1"/>
<line x1="511.7" y1="1167.5" x2="533.1" y2="1167.5" stroke="#333" stroke-width="3.6"/>
<path d="M468.9 1200.8L522.4 1170.1M468.9 1183.2L522.4 1139.5M468.9 1179.8L522.4 1164.2M468.9 1193.5L522.4 1188.3M468.9 1191L522.4 1173.6M468.9 1202.5L522.4 1169M468.9 1193L522.4 1179.7M468.9 1191.8L522.4 1179.9M468.9 1216.7L522.4 1173.6M468.9 1190.4L522.4 1157.6M468.9 1173.7L522.4 1150.2M468.9 1179L522.4 1136.5M468.9 1186.2L522.4 1167.6M468.9 1202.2L522.4 1169.2M468.9 1185.9L522.4 1172.7M468.9 1193.1L522.4 1170.1M468.9 1199.7L522.4 1160.8M468.9 1181L522.4 1137.5M468.9 1216.6L522.4 1174.5M468.9 1185.1L522.4 1164.1M468.9 1219.1L522.4 1189.6M468.9 1192.2L522.4 1174M468.9 1197.8L522.4 1187.3M468.9 1209.6L522.4 1183.9M468.9 1187.6L522.4 1147.4M468.9 1197.1L522.4 1156.3M468.9 1055.5L522.4 1019M468.9 1069.7L522.4 1027.2M468.9 1112.1L522.4 1029.6M468.9 1156.9L522.4 1055.5M468.9 1173.4L522.4 1114.4M468.9 1142.7L522.4 1154.5M468.9 1083.8L522.4 1147.4" stroke="#a8a8a8" stroke-width="0.9" stroke-dasharray="4 2.4" fill="none"/>
<path d="M468.9 1007.4L522.4 1161.6M468.9 1015.4L522.4 1189.9M468.9 1024.9L522.4 1142.7M468.9 1031.9L522.4 1173.4M468.9 1039L522.4 1204M468.9 1046.1L522.4 1149.8M468.9 1064.9L522.4 1180.4M468.9 1079.1L522.4 1196.9M468.9 1088.5L522.4 1133.3M468.9 1093.2L522.4 1211.1M468.9 1121.5L522.4 1048.4M468.9 1133.3L522.4 1079.1M468.9 1149.8L522.4 1161.6M468.9 1161.6L522.4 1173.4M468.9 1168.6L522.4 1142.7M468.9 1196.9L522.4 1133.3M468.9 1201.6L522.4 1189.9M468.9 1206.4L522.4 1149.8M468.9 1072L522.4 1168.6M468.9 1102.7L522.4 1182.8" stroke="#111" stroke-width="1.1" stroke-dasharray="4.4 2.4" fill="none"/>
<g fill="#1192f6" fill-opacity="0.66">
<circle cx="468.9" cy="1200.8" r="3.75"/>
<circle cx="468.9" cy="1183.2" r="3.75"/>
<circle cx="468.9" cy="1179.8" r="3.75"/>
<circle cx="468.9" cy="1193.5" r="3.75"/>
<circle cx="468.9" cy="1191" r="3.75"/>
<circle cx="468.9" cy="1202.5" r="3.75"/>
<circle cx="468.9" cy="1193" r="3.75"/>
<circle cx="468.9" cy="1191.8" r="3.75"/>
<circle cx="468.9" cy="1216.7" r="3.75"/>
<circle cx="468.9" cy="1190.4" r="3.75"/>
<circle cx="468.9" cy="1173.7" r="3.75"/>
<circle cx="468.9" cy="1179" r="3.75"/>
<circle cx="468.9" cy="1186.2" r="3.75"/>
<circle cx="468.9" cy="1202.2" r="3.75"/>
<circle cx="468.9" cy="1185.9" r="3.75"/>
<circle cx="468.9" cy="1193.1" r="3.75"/>
<circle cx="468.9" cy="1199.7" r="3.75"/>
<circle cx="468.9" cy="1181" r="3.75"/>
<circle cx="468.9" cy="1216.6" r="3.75"/>
<circle cx="468.9" cy="1185.1" r="3.75"/>
<circle cx="468.9" cy="1219.1" r="3.75"/>
<circle cx="468.9" cy="1192.2" r="3.75"/>
<circle cx="468.9" cy="1197.8" r="3.75"/>
<circle cx="468.9" cy="1209.6" r="3.75"/>
<circle cx="468.9" cy="1187.6" r="3.75"/>
<circle cx="468.9" cy="1197.1" r="3.75"/>
<circle cx="468.9" cy="1055.5" r="3.75"/>
<circle cx="468.9" cy="1069.7" r="3.75"/>
<circle cx="468.9" cy="1112.1" r="3.75"/>
<circle cx="468.9" cy="1156.9" r="3.75"/>
<circle cx="468.9" cy="1173.4" r="3.75"/>
<circle cx="468.9" cy="1142.7" r="3.75"/>
<circle cx="468.9" cy="1083.8" r="3.75"/>
</g>
<g fill="#1192f6" fill-opacity="0.78" stroke="#222" stroke-width="0.7" stroke-opacity="0.85">
<circle cx="468.9" cy="1007.4" r="3.5"/>
<circle cx="468.9" cy="1015.4" r="3.5"/>
<circle cx="468.9" cy="1024.9" r="3.5"/>
<circle cx="468.9" cy="1031.9" r="3.5"/>
<circle cx="468.9" cy="1039" r="3.5"/>
<circle cx="468.9" cy="1046.1" r="3.5"/>
<circle cx="468.9" cy="1064.9" r="3.5"/>
<circle cx="468.9" cy="1079.1" r="3.5"/>
<circle cx="468.9" cy="1088.5" r="3.5"/>
<circle cx="468.9" cy="1093.2" r="3.5"/>
<circle cx="468.9" cy="1121.5" r="3.5"/>
<circle cx="468.9" cy="1133.3" r="3.5"/>
<circle cx="468.9" cy="1149.8" r="3.5"/>
<circle cx="468.9" cy="1161.6" r="3.5"/>
<circle cx="468.9" cy="1168.6" r="3.5"/>
<circle cx="468.9" cy="1196.9" r="3.5"/>
<circle cx="468.9" cy="1201.6" r="3.5"/>
<circle cx="468.9" cy="1206.4" r="3.5"/>
<circle cx="468.9" cy="1072" r="3.5"/>
<circle cx="468.9" cy="1102.7" r="3.5"/>
</g>
<g fill="#f95f4e" fill-opacity="0.66">
<circle cx="522.4" cy="1170.1" r="3.75"/>
<circle cx="522.4" cy="1139.5" r="3.75"/>
<circle cx="522.4" cy="1164.2" r="3.75"/>
<circle cx="522.4" cy="1188.3" r="3.75"/>
<circle cx="522.4" cy="1173.6" r="3.75"/>
<circle cx="522.4" cy="1169" r="3.75"/>
<circle cx="522.4" cy="1179.7" r="3.75"/>
<circle cx="522.4" cy="1179.9" r="3.75"/>
<circle cx="522.4" cy="1173.6" r="3.75"/>
<circle cx="522.4" cy="1157.6" r="3.75"/>
<circle cx="522.4" cy="1150.2" r="3.75"/>
<circle cx="522.4" cy="1136.5" r="3.75"/>
<circle cx="522.4" cy="1167.6" r="3.75"/>
<circle cx="522.4" cy="1169.2" r="3.75"/>
<circle cx="522.4" cy="1172.7" r="3.75"/>
<circle cx="522.4" cy="1170.1" r="3.75"/>
<circle cx="522.4" cy="1160.8" r="3.75"/>
<circle cx="522.4" cy="1137.5" r="3.75"/>
<circle cx="522.4" cy="1174.5" r="3.75"/>
<circle cx="522.4" cy="1164.1" r="3.75"/>
<circle cx="522.4" cy="1189.6" r="3.75"/>
<circle cx="522.4" cy="1174" r="3.75"/>
<circle cx="522.4" cy="1187.3" r="3.75"/>
<circle cx="522.4" cy="1183.9" r="3.75"/>
<circle cx="522.4" cy="1147.4" r="3.75"/>
<circle cx="522.4" cy="1156.3" r="3.75"/>
<circle cx="522.4" cy="1019" r="3.75"/>
<circle cx="522.4" cy="1027.2" r="3.75"/>
<circle cx="522.4" cy="1029.6" r="3.75"/>
<circle cx="522.4" cy="1055.5" r="3.75"/>
<circle cx="522.4" cy="1114.4" r="3.75"/>
<circle cx="522.4" cy="1154.5" r="3.75"/>
<circle cx="522.4" cy="1147.4" r="3.75"/>
</g>
<g fill="#f95f4e" fill-opacity="0.78" stroke="#222" stroke-width="0.7" stroke-opacity="0.85">
<circle cx="522.4" cy="1161.6" r="3.5"/>
<circle cx="522.4" cy="1189.9" r="3.5"/>
<circle cx="522.4" cy="1142.7" r="3.5"/>
<circle cx="522.4" cy="1173.4" r="3.5"/>
<circle cx="522.4" cy="1204" r="3.5"/>
<circle cx="522.4" cy="1149.8" r="3.5"/>
<circle cx="522.4" cy="1180.4" r="3.5"/>
<circle cx="522.4" cy="1196.9" r="3.5"/>
<circle cx="522.4" cy="1133.3" r="3.5"/>
<circle cx="522.4" cy="1211.1" r="3.5"/>
<circle cx="522.4" cy="1048.4" r="3.5"/>
<circle cx="522.4" cy="1079.1" r="3.5"/>
<circle cx="522.4" cy="1161.6" r="3.5"/>
<circle cx="522.4" cy="1173.4" r="3.5"/>
<circle cx="522.4" cy="1142.7" r="3.5"/>
<circle cx="522.4" cy="1133.3" r="3.5"/>
<circle cx="522.4" cy="1189.9" r="3.5"/>
<circle cx="522.4" cy="1149.8" r="3.5"/>
<circle cx="522.4" cy="1168.6" r="3.5"/>
<circle cx="522.4" cy="1182.8" r="3.5"/>
</g>
<line x1="437.8" y1="1220.5" x2="554.3" y2="1220.5" stroke="#000" stroke-width="1.8"/>
<line x1="468.9" y1="1220.5" x2="468.9" y2="1225" stroke="#000" stroke-width="1.5"/>
<text x="476.1" y="1238.8" font-size="17.4" text-anchor="end" transform="rotate(-30 476.1 1238.8)">Initial</text>
<line x1="522.4" y1="1220.5" x2="522.4" y2="1225" stroke="#000" stroke-width="1.5"/>
<text x="529.6" y="1238.8" font-size="17.4" text-anchor="end" transform="rotate(-30 529.6 1238.8)">Recur</text>
<line x1="59.8" y1="978" x2="59.8" y2="1221" stroke="#000" stroke-width="1.6"/>
<line x1="55.8" y1="1220.5" x2="59.8" y2="1220.5" stroke="#000" stroke-width="1.3"/>
<text x="52" y="1226.5" font-size="17.4" text-anchor="end">0.0</text>
<line x1="55.8" y1="1173.4" x2="59.8" y2="1173.4" stroke="#000" stroke-width="1.3"/>
<text x="52" y="1179.4" font-size="17.4" text-anchor="end">0.2</text>
<line x1="55.8" y1="1126.2" x2="59.8" y2="1126.2" stroke="#000" stroke-width="1.3"/>
<text x="52" y="1132.2" font-size="17.4" text-anchor="end">0.4</text>
<line x1="55.8" y1="1079.1" x2="59.8" y2="1079.1" stroke="#000" stroke-width="1.3"/>
<text x="52" y="1085.1" font-size="17.4" text-anchor="end">0.6</text>
<line x1="55.8" y1="1031.9" x2="59.8" y2="1031.9" stroke="#000" stroke-width="1.3"/>
<text x="52" y="1037.9" font-size="17.4" text-anchor="end">0.8</text>
<line x1="55.8" y1="984.8" x2="59.8" y2="984.8" stroke="#000" stroke-width="1.3"/>
<text x="52" y="990.8" font-size="17.4" text-anchor="end">1.0</text>
<text x="21.2" y="1096" font-size="17.4" text-anchor="middle" transform="rotate(-90 21.2 1096)">Normalized Score</text>
<text x="565.4" y="1037.6" font-size="17.4" font-weight="bold">IR status</text>
<circle cx="570.2" cy="1057.3" r="4.7" fill="#1c98fb" stroke="#111" stroke-width="1.1"/>
<text x="586" y="1062.5" font-size="17.4">Initial</text>
<circle cx="570.2" cy="1080.6" r="4.7" fill="#f9776c" stroke="#111" stroke-width="1.1"/>
<text x="586" y="1086.4" font-size="17.4">Recurrent</text>
<text x="565.7" y="1113.8" font-size="17.4" font-weight="bold">Evolution</text>
<text x="565.7" y="1133" font-size="17.4" font-weight="bold">type</text>
<line x1="570.4" y1="1145" x2="570.4" y2="1164.8" stroke="#a3a3a3" stroke-width="1.9" stroke-dasharray="7.5 3.5"/>
<text x="586" y="1162.4" font-size="17.4">Stable</text>
<line x1="570.4" y1="1172.8" x2="570.4" y2="1192" stroke="#111" stroke-width="1.9" stroke-dasharray="7.5 3.5"/>
<text x="586" y="1187.7" font-size="17.4">Changing</text>
</g>
<g id="panelG">
<text x="643" y="942.6" font-size="20.2" font-weight="bold">G</text>
<text x="691.7" y="942" font-size="19.6">Initial</text>
<text x="886" y="942" font-size="19.6">Recurrent</text>
<line x1="778.8" y1="935.8" x2="850" y2="935.8" stroke="#000" stroke-width="1.6"/>
<path d="M859.5 935.8 L845 931.6 L848.5 935.8 L845 940 Z" fill="#000"/>
<path d="M751 951.8 C821.6 951.8 821.6 951.8 892.3 951.8 L892.3 976 C821.6 976 821.6 976 751 976 Z" fill="#33a02c" fill-opacity="0.5"/>
<path d="M751 1065.5 C821.6 1065.5 821.6 976 892.3 976 L892.3 982.1 C821.6 982.1 821.6 1069.9 751 1069.9 Z" fill="#33a02c" fill-opacity="0.5"/>
<path d="M751 1165.4 C821.6 1165.4 821.6 982.1 892.3 982.1 L892.3 993.4 C821.6 993.4 821.6 1177.2 751 1177.2 Z" fill="#33a02c" fill-opacity="0.5"/>
<path d="M751 1023.8 C821.6 1023.8 821.6 1118.4 892.3 1118.4 L892.3 1130.4 C821.6 1130.4 821.6 1035.6 751 1035.6 Z" fill="#ff7f00" fill-opacity="0.5"/>
<path d="M751 1118.9 C821.6 1118.9 821.6 1130.4 892.3 1130.4 L892.3 1142.4 C821.6 1142.4 821.6 1131.1 751 1131.1 Z" fill="#ff7f00" fill-opacity="0.5"/>
<path d="M751 1148.3 C821.6 1148.3 821.6 1142.4 892.3 1142.4 L892.3 1160 C821.6 1160 821.6 1165.4 751 1165.4 Z" fill="#ff7f00" fill-opacity="0.5"/>
<path d="M751 1201.7 C821.6 1201.7 821.6 1160 892.3 1160 L892.3 1171.8 C821.6 1171.8 821.6 1213.7 751 1213.7 Z" fill="#ff7f00" fill-opacity="0.5"/>
<path d="M751 1035.6 C821.6 1035.6 821.6 1171.8 892.3 1171.8 L892.3 1201.7 C821.6 1201.7 821.6 1065.5 751 1065.5 Z" fill="#1f78b4" fill-opacity="0.5"/>
<path d="M751 1131.1 C821.6 1131.1 821.6 1201.7 892.3 1201.7 L892.3 1213.2 C821.6 1213.2 821.6 1142.2 751 1142.2 Z" fill="#1f78b4" fill-opacity="0.5"/>
<path d="M751 1213.7 C821.6 1213.7 821.6 1213.7 892.3 1213.7 L892.3 1243.9 C821.6 1243.9 821.6 1243.9 751 1243.9 Z" fill="#1f78b4" fill-opacity="0.5"/>
<path d="M751 976 C821.6 976 821.6 993.4 892.3 993.4 L892.3 1041.2 C821.6 1041.2 821.6 1023.8 751 1023.8 Z" fill="#e31a1c" fill-opacity="0.5"/>
<path d="M751 1069.9 C821.6 1069.9 821.6 1041.2 892.3 1041.2 L892.3 1088.7 C821.6 1088.7 821.6 1118.9 751 1118.9 Z" fill="#e31a1c" fill-opacity="0.5"/>
<path d="M751 1142.2 C821.6 1142.2 821.6 1088.7 892.3 1088.7 L892.3 1094.9 C821.6 1094.9 821.6 1148.3 751 1148.3 Z" fill="#e31a1c" fill-opacity="0.5"/>
<path d="M751 1177.2 C821.6 1177.2 821.6 1094.9 892.3 1094.9 L892.3 1118.4 C821.6 1118.4 821.6 1201.7 751 1201.7 Z" fill="#e31a1c" fill-opacity="0.5"/>
<rect x="679" y="951.9" width="71.3" height="292" fill="#fff" stroke="#000" stroke-width="1.7"/>
<line x1="679" y1="1065" x2="750.3" y2="1065" stroke="#000" stroke-width="1.7"/>
<line x1="679" y1="1143" x2="750.3" y2="1143" stroke="#000" stroke-width="1.7"/>
<line x1="679" y1="1166" x2="750.3" y2="1166" stroke="#000" stroke-width="1.7"/>
<text x="714.9" y="1017.8" font-size="17.4" text-anchor="middle">AFM</text>
<text x="714.9" y="1112.8" font-size="17.4" text-anchor="middle">PPR</text>
<text x="714.9" y="1160.8" font-size="17.4" text-anchor="middle">IME</text>
<text x="714.9" y="1211.8" font-size="17.4" text-anchor="middle">NEU</text>
<rect x="892.8" y="951.9" width="71.6" height="292" fill="#fff" stroke="#000" stroke-width="1.7"/>
<line x1="892.8" y1="993" x2="964.4" y2="993" stroke="#000" stroke-width="1.7"/>
<line x1="892.8" y1="1118.3" x2="964.4" y2="1118.3" stroke="#000" stroke-width="1.7"/>
<line x1="892.8" y1="1172" x2="964.4" y2="1172" stroke="#000" stroke-width="1.7"/>
<text x="928.7" y="979.8" font-size="17.4" text-anchor="middle">AFM</text>
<text x="928.7" y="1063.8" font-size="17.4" text-anchor="middle">PPR</text>
<text x="928.7" y="1152.8" font-size="17.4" text-anchor="middle">IME</text>
<text x="928.7" y="1214.8" font-size="17.4" text-anchor="middle">NEU</text>
<rect x="970.8" y="1046.3" width="16.6" height="16.6" fill="#99d095"/>
<text x="995.4" y="1059.8" font-size="15.2">IDHm-AFM</text>
<rect x="970.8" y="1068" width="16.6" height="16.6" fill="#f18c8d"/>
<text x="995.4" y="1081.5" font-size="15.2">IDHm-PPR</text>
<rect x="970.8" y="1090" width="16.6" height="16.6" fill="#ffbf80"/>
<text x="995.4" y="1103.5" font-size="15.2">IDHm-IME</text>
<rect x="970.8" y="1112.1" width="16.6" height="16.6" fill="#8fbbd9"/>
<text x="995.4" y="1125.6" font-size="15.2">IDHm-NEU</text>
</g>
</svg>
</body></html>
